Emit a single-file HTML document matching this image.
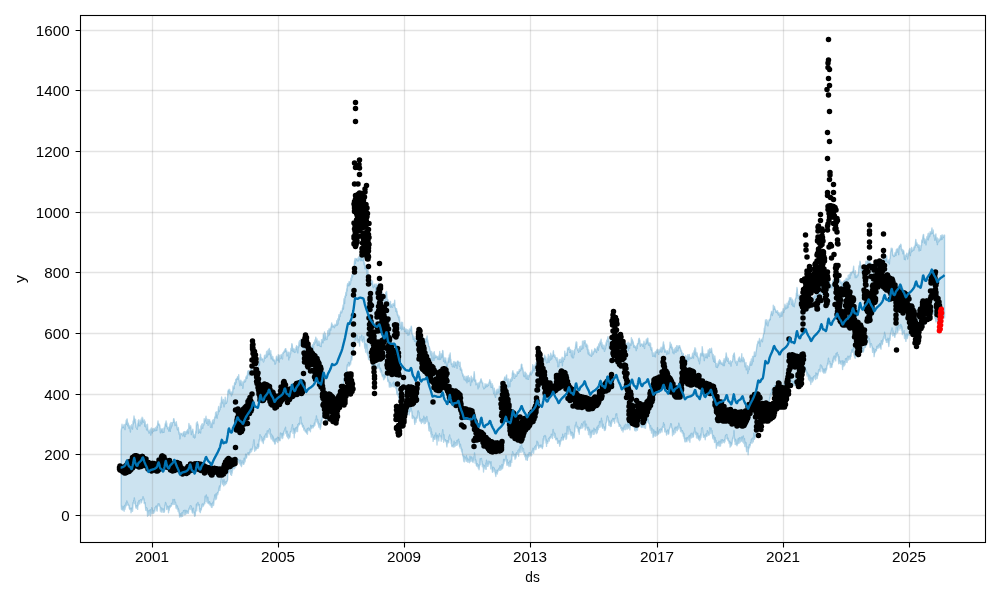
<!DOCTYPE html>
<html><head><meta charset="utf-8"><title>forecast</title><style>html,body{margin:0;padding:0;background:#fff}body{width:1000px;height:600px;overflow:hidden}</style></head><body><svg width="1000" height="600" viewBox="0 0 1000 600" style="display:block;will-change:transform">
<rect width="1000" height="600" fill="#fff"/>
<clipPath id="c"><rect x="80.5" y="15.5" width="905.0" height="527.0"/></clipPath>
<g clip-path="url(#c)">
<path d="M121.1 431.8l.3 -2.7l.3 -.8l.3 -4l.3 3.1l.3 -.3l.3 .4l.3 -1.2l.3 1l.3 -1.1l.3 -1.8l.3 4.1l.3 -.2l.3 1.3l.3 -3.7l.3 -1.6l.3 -1.2l.3 -2.9l.3 4.1l.3 -4.9l.3 -.5l.3 2.5l.3 4.5l.3 -1.3l.3 -1.4l.3 1.7l.3 3.2l.3 -1.3l.3 -1l.3 1.3l.3 2.1l.3 2.8l.3 -6l.3 1.8l.3 .1l.3 -3.1l.3 2.6l.3 -1.3l.3 3l.3 -3.8l.3 -4.4l.3 3l.3 -3.8l.3 -4.1l.3 1.9l.3 1.1l.3 .9l.3 3l.3 -3.5l.3 4.7l.3 3.3l.3 .2l.3 .9l.3 .2l.3 .7l.3 -5.8l.3 3.2l.3 -6.3l.3 2.1l.3 -3l.3 5.6l.3 .3l.3 -3.3l.3 3.7l.3 -5.2l.3 1.4l.3 -.3l.3 -2.8l.3 2.6l.3 2.4l.3 -6.7l.3 3.2l.3 -2.6l.3 3.8l.3 -1.7l.3 1.4l.3 .9l.3 .2l.3 -2.5l.3 6.3l.3 -4.8l.3 4l.3 1.4l.3 -2.3l.3 2.6l.3 2.7l.3 -1.6l.3 -.9l.3 -3.1l.3 4.9l.3 1.6l.3 .6l.3 -.7l.3 2.4l.3 -2.3l.3 .6l.3 1.2l.3 -3.3l.3 1l.3 4.8l.3 -2.7l.3 -4.5l.3 2.3l.3 1.3l.3 1.3l.3 -2.3l.3 -1.4l.3 -.5l.3 2.7l.3 -.8l.3 -1.7l.3 .5l.3 -.7l.3 2.2l.3 -3l.3 2.1l.3 .5l.3 -1l.3 -2.9l.3 4l.3 -4.7l.3 1.4l.3 -3.3l.3 -2.9l.3 3.2l.3 -.5l.3 -.1l.3 1.8l.3 -.7l.3 1.1l.3 2.2l.3 4.8l.3 -1.8l.3 -2.4l.3 2.4l.3 -1.9l.3 .4l.3 3.1l.3 -2.2l.3 -1.8l.3 1.8l.3 1.8l.3 -1l.3 1.1l.3 -5.2l.3 1.6l.3 -2.2l.3 -2.8l.3 .5l.3 -1.6l.3 -1.6l.3 5.3l.3 -3.3l.3 3.6l.3 .7l.3 1.5l.3 -1.7l.3 1.8l.3 0l.3 2.2l.3 -4l.3 1l.3 -1.6l.3 -2.6l.3 7.5l.3 -5.8l.3 -3.1l.3 5.5l.3 -5.2l.3 2.6l.3 .6l.3 -3.3l.3 .1l.3 -.6l.3 .2l.3 -3.7l.3 0l.3 1.6l.3 2.4l.3 -.2l.3 3.1l.3 -1l.3 -1.5l.3 1.6l.3 -3l.3 2.9l.3 .6l.3 3.2l.3 1.4l.3 -1.7l.3 .5l.3 -1.1l.3 3.7l.3 1.7l.3 1.4l.3 -1.6l.3 6.2l.3 -1.4l.3 -2.8l.3 -1.2l.3 0l.3 .6l.3 -.5l.3 .8l.3 .4l.3 1.1l.3 -.6l.3 -2.6l.3 1l.3 -1.7l.3 -.4l.3 4.9l.3 -4.8l.3 4.8l.3 -4.8l.3 1.1l.3 1.5l.3 -2.3l.3 .5l.3 -1.4l.3 -.7l.3 .4l.3 -1.3l.3 4.3l.3 -4l.3 3.2l.3 -9.6l.3 4.4l.3 .2l.3 -2.7l.3 2.2l.3 -.6l.3 -.9l.3 2.7l.3 5.9l.3 -4l.3 .9l.3 -1.1l.3 1.4l.3 -2.7l.3 2.4l.3 5.6l.3 -2.3l.3 -.3l.3 1.5l.3 2l.3 -3l.3 2.2l.3 -3.2l.3 -3.1l.3 1.8l.3 -9.7l.3 1.9l.3 0l.3 -3.1l.3 2.1l.3 .2l.3 1.4l.3 7.7l.3 -3.4l.3 -.7l.3 3.3l.3 -2.8l.3 2.4l.3 -1.2l.3 2.2l.3 -7l.3 3.4l.3 -2.2l.3 -3.1l.3 4l.3 -4.3l.3 4.5l.3 -2.7l.3 -.1l.3 -1.7l.3 1.1l.3 -6.1l.3 3.3l.3 -2.3l.3 .9l.3 -1.7l.3 .5l.3 -3.3l.3 5.5l.3 1.6l.3 -4.3l.3 1l.3 1.2l.3 2.4l.3 1.6l.3 -5.8l.3 1.5l.3 -.6l.3 .2l.3 -.8l.3 4.3l.3 -2.6l.3 5.9l.3 -.6l.3 -3.4l.3 .4l.3 .5l.3 3.4l.3 -5.2l.3 -2.1l.3 2.1l.3 .1l.3 -2.7l.3 3.9l.3 -3.4l.3 -.2l.3 -3.2l.3 1.1l.3 -.8l.3 -4.7l.3 4.5l.3 -4.7l.3 3l.3 -3.5l.3 6.4l.3 -3.9l.3 .4l.3 -.5l.3 -5.1l.3 -2.6l.3 3.3l.3 1.8l.3 -2.4l.3 .7l.3 -.7l.3 -6l.3 2.2l.3 2l.3 -6.4l.3 -4l.3 3.2l.3 0l.3 2.6l.3 -1.9l.3 2.7l.3 -4.1l.3 6.1l.3 1.3l.3 -.8l.3 -5.9l.3 3.5l.3 -6.6l.3 6.6l.3 -.5l.3 -1.9l.3 2.1l.3 -1.5l.3 .1l.3 -3.3l.3 -1.5l.3 -6.2l.3 -.5l.3 -.6l.3 .3l.3 -.9l.3 3.9l.3 -3.7l.3 2l.3 1.5l.3 -.6l.3 1.7l.3 -2l.3 3.8l.3 -3.7l.3 2.2l.3 -3.3l.3 1.9l.3 -7l.3 3.1l.3 -2.5l.3 .7l.3 1.3l.3 -5.2l.3 -1l.3 0l.3 1.9l.3 -4.9l.3 3.3l.3 -3.6l.3 -.7l.3 .5l.3 .6l.3 -2.7l.3 .3l.3 1.5l.3 .2l.3 -4.2l.3 5l.3 1.4l.3 2.4l.3 2.2l.3 -2.5l.3 -.9l.3 -2l.3 2.3l.3 1.6l.3 1.3l.3 -3.9l.3 2.7l.3 1.7l.3 2.4l.3 -3.5l.3 -2.2l.3 -1.1l.3 -.2l.3 -1.4l.3 2.1l.3 -.2l.3 -1.3l.3 .4l.3 -3.9l.3 1.1l.3 -2.1l.3 .4l.3 1.9l.3 -2.9l.3 -4.2l.3 2.8l.3 -1.3l.3 -2.1l.3 1l.3 3.1l.3 .9l.3 -4.8l.3 2.6l.3 -.2l.3 -5.1l.3 1.7l.3 -.5l.3 -.3l.3 -4.5l.3 1.4l.3 1.7l.3 -.7l.3 .2l.3 -4.9l.3 5.2l.3 -1.5l.3 -3.1l.3 5.3l.3 -1.6l.3 2.1l.3 -1.2l.3 2.6l.3 -1.9l.3 -1.1l.3 2.6l.3 -1.1l.3 -1l.3 3.6l.3 -3.6l.3 -1.3l.3 -1.2l.3 -3.3l.3 .3l.3 3.2l.3 -7.5l.3 0l.3 -3.6l.3 .5l.3 5.3l.3 -.1l.3 -2l.3 1.9l.3 -1.1l.3 .5l.3 .1l.3 .2l.3 2.3l.3 .2l.3 -1l.3 -2.3l.3 -3.2l.3 1.9l.3 -2.2l.3 3.3l.3 -1.1l.3 0l.3 -2.6l.3 -3.3l.3 5.2l.3 .2l.3 -5.9l.3 2.7l.3 1.3l.3 -5.3l.3 4.9l.3 -4.8l.3 -1.2l.3 5.6l.3 -1.3l.3 -.9l.3 3.8l.3 -5l.3 8.2l.3 -4.6l.3 2.7l.3 -.8l.3 2.1l.3 1.4l.3 -2.9l.3 3.9l.3 -1.4l.3 0l.3 1.7l.3 -.9l.3 .8l.3 3.3l.3 -2.8l.3 2.1l.3 -1.9l.3 -3.5l.3 -2l.3 2.1l.3 1.6l.3 -.8l.3 -2l.3 3.5l.3 -5.7l.3 .8l.3 2.5l.3 4l.3 -3.8l.3 -3l.3 3l.3 -.1l.3 .3l.3 -3l.3 -1.1l.3 1.6l.3 .3l.3 2.1l.3 .6l.3 -6l.3 -.1l.3 .2l.3 -1.3l.3 .5l.3 -1l.3 -1.3l.3 1.9l.3 -2.5l.3 -.8l.3 .1l.3 2.2l.3 .8l.3 -1l.3 5.3l.3 -.8l.3 -1.1l.3 -.8l.3 -1.2l.3 1.7l.3 6.1l.3 -7.7l.3 4.9l.3 .4l.3 -2.3l.3 -2.2l.3 .8l.3 -5.3l.3 1.6l.3 .1l.3 -6.5l.3 .3l.3 2.6l.3 3l.3 1.9l.3 -.5l.3 -2l.3 -.3l.3 3.2l.3 .5l.3 -2.9l.3 2.1l.3 -.1l.3 .5l.3 -4.9l.3 2.4l.3 -3.9l.3 1l.3 .3l.3 2.8l.3 3.2l.3 -6.5l.3 .1l.3 .6l.3 -5.2l.3 3.6l.3 -4.8l.3 4.9l.3 -1.3l.3 -2.5l.3 -2.6l.3 5.5l.3 -2l.3 .6l.3 1.7l.3 -3.9l.3 4.9l.3 1.7l.3 -.8l.3 .2l.3 -1.8l.3 3.7l.3 -.4l.3 .2l.3 -.4l.3 3.7l.3 1.6l.3 -.9l.3 1.6l.3 .6l.3 .1l.3 -3.3l.3 -1.4l.3 -.8l.3 .5l.3 .8l.3 .5l.3 -3l.3 .9l.3 -2.5l.3 4.4l.3 -3.5l.3 1.3l.3 -2.3l.3 .6l.3 -1l.3 4.6l.3 -2.9l.3 -1.4l.3 -1.8l.3 .4l.3 2l.3 1.9l.3 -6.6l.3 .7l.3 1.1l.3 -1.4l.3 -2.9l.3 2.4l.3 .4l.3 -5.7l.3 2.6l.3 1l.3 .2l.3 -1.9l.3 6.5l.3 -2.5l.3 -1.9l.3 4.2l.3 -4l.3 4.1l.3 -4.3l.3 4.1l.3 -2.6l.3 3.7l.3 -.4l.3 -.1l.3 -.6l.3 1.4l.3 -6.9l.3 3.1l.3 -1.5l.3 -1.3l.3 -1.1l.3 3.9l.3 -8.8l.3 .9l.3 -.9l.3 4.1l.3 -6.1l.3 8.3l.3 -4.1l.3 -2.6l.3 2.8l.3 2l.3 .7l.3 -.6l.3 1l.3 -2.7l.3 -1.1l.3 -5l.3 4.6l.3 .5l.3 -3.4l.3 -3.5l.3 .4l.3 5.4l.3 -5.2l.3 -.7l.3 -1l.3 2.3l.3 -3.4l.3 -1.5l.3 -2.3l.3 2.1l.3 1.8l.3 -2.2l.3 2.4l.3 -1.1l.3 .1l.3 .2l.3 -.4l.3 1.9l.3 -1.2l.3 -2.2l.3 1.2l.3 -.7l.3 .9l.3 -.8l.3 .2l.3 -4.3l.3 3.1l.3 1.1l.3 -6.1l.3 5.1l.3 -3.4l.3 -1.8l.3 -4l.3 5.1l.3 -4.9l.3 .2l.3 1.3l.3 -3.9l.3 -.6l.3 -1.1l.3 1.3l.3 .7l.3 -1.3l.3 -.9l.3 -2.7l.3 -.2l.3 -2.9l.3 4.2l.3 -4.8l.3 -5.5l.3 .6l.3 4.1l.3 -7.2l.3 .5l.3 .2l.3 -4.5l.3 2.8l.3 -.2l.3 -6.5l.3 2.4l.3 -5.6l.3 -1.6l.3 1.4l.3 -.7l.3 -1.6l.3 3l.3 -4.4l.3 1.2l.3 -.9l.3 3l.3 -.7l.3 -1.1l.3 -4.8l.3 2l.3 -.2l.3 -5l.3 .4l.3 1.7l.3 -1.3l.3 -2.3l.3 -.9l.3 -2.3l.3 -2.5l.3 -2.9l.3 -3.9l.3 -.9l.3 -1.7l.3 5.1l.3 -4l.3 -.4l.3 -.3l.3 .3l.3 -.2l.3 1.7l.3 -1.1l.3 1.6l.3 -3.2l.3 2l.3 .8l.3 -4.2l.3 2.5l.3 -.1l.3 -1.2l.3 -.4l.3 -2.7l.3 6.1l.3 -4.1l.3 -.5l.3 3.9l.3 -4.9l.3 5.7l.3 -1l.3 .4l.3 -1.3l.3 -1.7l.3 -.4l.3 7.9l.3 -2.5l.3 1.1l.3 5.5l.3 -3.5l.3 1.7l.3 .9l.3 1.1l.3 -.9l.3 1.9l.3 4.6l.3 -.2l.3 -6.6l.3 2.9l.3 5.4l.3 -.1l.3 .2l.3 3.6l.3 -4.9l.3 6.7l.3 -1.6l.3 1.4l.3 -.1l.3 1.6l.3 -1.8l.3 -.1l.3 3.1l.3 -.7l.3 -2.5l.3 5.7l.3 .2l.3 .9l.3 -2.3l.3 .9l.3 -1.2l.3 -.9l.3 2.2l.3 .5l.3 -1.5l.3 5.2l.3 -6.7l.3 1.8l.3 .4l.3 4.1l.3 -3.4l.3 -.5l.3 -1.5l.3 -.1l.3 -1.4l.3 4.3l.3 -1.1l.3 .6l.3 -2.7l.3 7.4l.3 -5.9l.3 -.9l.3 4.7l.3 2.1l.3 2.4l.3 -2.4l.3 4.1l.3 3l.3 -4.5l.3 .8l.3 -1.3l.3 4.5l.3 1.8l.3 .3l.3 .2l.3 .5l.3 -3.6l.3 .4l.3 -5l.3 -.8l.3 1.3l.3 -2.1l.3 4.5l.3 3.7l.3 .2l.3 -.3l.3 1.2l.3 4.9l.3 -4l.3 1.9l.3 -.5l.3 .9l.3 2.3l.3 -3.1l.3 -1.6l.3 5.9l.3 -2.3l.3 1l.3 -1.5l.3 1.5l.3 .9l.3 .2l.3 -3.3l.3 -.2l.3 1.4l.3 -.4l.3 .7l.3 -2.4l.3 -2.8l.3 6.2l.3 1.4l.3 .5l.3 2.9l.3 -.9l.3 -1.7l.3 3.6l.3 -1.1l.3 3.8l.3 -.7l.3 1.7l.3 .9l.3 .9l.3 -1.8l.3 4.4l.3 -3.3l.3 6.7l.3 1.9l.3 2.7l.3 -2.9l.3 -1.8l.3 -1.3l.3 7.4l.3 -6.3l.3 5l.3 -6l.3 4.9l.3 1.9l.3 -.4l.3 -.4l.3 -1.2l.3 .2l.3 4.1l.3 -.8l.3 -.9l.3 1.1l.3 -2l.3 4l.3 .6l.3 -4l.3 1.8l.3 1.9l.3 -3.3l.3 5.4l.3 -.9l.3 -3.6l.3 2.6l.3 1.4l.3 -5.8l.3 3.2l.3 -2.1l.3 -.8l.3 1.3l.3 -2.8l.3 -1.5l.3 .8l.3 4.2l.3 2.8l.3 .1l.3 1l.3 1l.3 3.2l.3 -1.1l.3 -2l.3 1.3l.3 3.6l.3 -2.8l.3 1.2l.3 1.5l.3 -1.9l.3 3.5l.3 -7l.3 6.2l.3 -4.9l.3 -2.9l.3 1.7l.3 -5.5l.3 3.5l.3 .8l.3 -1.4l.3 2.1l.3 4l.3 -2.1l.3 2.4l.3 1.5l.3 3.2l.3 -3.6l.3 1.4l.3 2.4l.3 -7.9l.3 4l.3 -3.8l.3 -.2l.3 7.5l.3 -3.5l.3 2.5l.3 -3.5l.3 1.5l.3 -1.9l.3 -.3l.3 .9l.3 .3l.3 2.6l.3 -3.9l.3 .7l.3 -1.7l.3 .7l.3 -2.5l.3 5.9l.3 -2l.3 2.4l.3 .7l.3 3.4l.3 .1l.3 -.1l.3 1.3l.3 1.3l.3 1.6l.3 .4l.3 2.4l.3 1.7l.3 -.9l.3 -2.7l.3 7.4l.3 1.9l.3 -4.5l.3 .1l.3 -3.4l.3 5.5l.3 -3.7l.3 5.6l.3 -8.7l.3 5.1l.3 1.3l.3 -2.1l.3 -.7l.3 2.1l.3 -1.4l.3 .5l.3 .7l.3 -.9l.3 .7l.3 2.1l.3 -2.3l.3 1.2l.3 -1.9l.3 3.4l.3 -4.5l.3 4.5l.3 -8l.3 4.1l.3 -1.4l.3 5.1l.3 -1.8l.3 -3.7l.3 .8l.3 3l.3 -3.6l.3 .7l.3 -4.3l.3 .7l.3 5.5l.3 4.8l.3 -4.3l.3 3.5l.3 -2.4l.3 4.8l.3 -3l.3 .4l.3 -2.5l.3 3.5l.3 1.9l.3 3.1l.3 -4.4l.3 4.6l.3 -2.9l.3 -.7l.3 -2.4l.3 -2.6l.3 -.2l.3 4.3l.3 -7.2l.3 .4l.3 2.9l.3 -5.2l.3 6.8l.3 -.4l.3 2.6l.3 2.4l.3 -1.1l.3 .6l.3 2.5l.3 .3l.3 -2.6l.3 .8l.3 -2.9l.3 4.7l.3 -5.2l.3 2.6l.3 3.1l.3 -1.9l.3 -2.2l.3 -.9l.3 .1l.3 3.1l.3 -1.2l.3 -.8l.3 5l.3 -7.3l.3 .2l.3 -.2l.3 .9l.3 .3l.3 -.1l.3 3.2l.3 .8l.3 -.5l.3 -3.4l.3 7.5l.3 -2.6l.3 1.5l.3 1.8l.3 -1.4l.3 1.6l.3 2.6l.3 .1l.3 2.4l.3 -1.3l.3 2.4l.3 -.6l.3 2.2l.3 1.4l.3 -1.2l.3 -2.5l.3 2.3l.3 .5l.3 1.9l.3 -2.3l.3 -.8l.3 -1.4l.3 6.3l.3 -5.8l.3 -.2l.3 2.1l.3 -3.2l.3 5.9l.3 -1.7l.3 .7l.3 -2.8l.3 1l.3 2.8l.3 .1l.3 3.9l.3 -3.5l.3 -5.9l.3 3.9l.3 -.9l.3 2.8l.3 -2.6l.3 .8l.3 -2.3l.3 1.1l.3 1l.3 -4.8l.3 -3.3l.3 2.9l.3 6.4l.3 -1.3l.3 .3l.3 -.1l.3 4.9l.3 -1l.3 -.4l.3 -.5l.3 1.1l.3 .2l.3 2.3l.3 2.2l.3 -5.8l.3 1.4l.3 2.7l.3 -.6l.3 -4.2l.3 .7l.3 -.7l.3 -1.5l.3 -1.5l.3 -.5l.3 1.2l.3 1l.3 1.3l.3 .9l.3 -.7l.3 1.4l.3 3.3l.3 -.4l.3 2l.3 -.7l.3 -.3l.3 .6l.3 -4.6l.3 2.2l.3 -1.3l.3 2.6l.3 -3.1l.3 1.6l.3 -1.4l.3 1.6l.3 .4l.3 -2.1l.3 .5l.3 -.1l.3 .9l.3 -2.8l.3 .1l.3 -1.6l.3 -1.7l.3 2.4l.3 1.1l.3 -1.6l.3 5.8l.3 -3.7l.3 3.7l.3 0l.3 -3.5l.3 4l.3 -2.6l.3 3.5l.3 2l.3 2.9l.3 -1.6l.3 -3.9l.3 3.1l.3 4.5l.3 -1.9l.3 3.6l.3 -5l.3 -.2l.3 -2.1l.3 1.3l.3 2.8l.3 -4.9l.3 3.2l.3 -1.2l.3 .3l.3 -2.4l.3 .2l.3 4l.3 -7.1l.3 3.7l.3 1.3l.3 -2.4l.3 2.1l.3 -9.6l.3 5l.3 -2.1l.3 1.2l.3 .2l.3 .9l.3 -3.1l.3 3.1l.3 -5.4l.3 4.6l.3 -2.9l.3 -3.8l.3 -1l.3 -1.1l.3 .5l.3 1.1l.3 1.6l.3 -.9l.3 -3.5l.3 -.9l.3 5.1l.3 -1.4l.3 3.2l.3 -.9l.3 6.6l.3 -8.6l.3 4.1l.3 3.1l.3 -4.3l.3 -.4l.3 5.3l.3 -7.4l.3 .3l.3 -.1l.3 1.9l.3 -.7l.3 -3.3l.3 2.9l.3 -6.7l.3 -1.4l.3 -1.5l.3 3.5l.3 -1.4l.3 .5l.3 5l.3 -.1l.3 0l.3 -4l.3 .6l.3 1.8l.3 -.2l.3 -.7l.3 -.5l.3 .8l.3 -4.1l.3 2l.3 -1.7l.3 -.5l.3 0l.3 1.7l.3 -1.3l.3 -2.5l.3 1.9l.3 -.8l.3 .1l.3 -2l.3 1.7l.3 -2.1l.3 -3.7l.3 -.5l.3 .1l.3 4.4l.3 -1.3l.3 1.6l.3 1.3l.3 3.2l.3 2.5l.3 -4l.3 4.7l.3 -2.4l.3 1.8l.3 -2.6l.3 -1.4l.3 4.1l.3 2.4l.3 -5l.3 3.7l.3 1.2l.3 .6l.3 -3.8l.3 .5l.3 2.4l.3 1.2l.3 -3.9l.3 1.3l.3 -2l.3 .2l.3 -2l.3 0l.3 -1l.3 1l.3 1.8l.3 -2.2l.3 .7l.3 -2.9l.3 2.4l.3 -8.1l.3 3.1l.3 1.8l.3 -3.3l.3 4.4l.3 -1.1l.3 -2.7l.3 1.6l.3 -3.7l.3 .7l.3 .3l.3 -3.4l.3 4.3l.3 -4.6l.3 2.3l.3 -3.2l.3 .7l.3 -1.7l.3 2.2l.3 .8l.3 2.3l.3 3l.3 -3.7l.3 .9l.3 1l.3 1.1l.3 -1.9l.3 -.3l.3 -.1l.3 1.6l.3 .7l.3 -2.2l.3 0l.3 .8l.3 -3l.3 -2.5l.3 1l.3 -1.8l.3 -1.9l.3 -.8l.3 -2.2l.3 2.4l.3 1.6l.3 .6l.3 -2.9l.3 4.1l.3 1.4l.3 .6l.3 -1.3l.3 .7l.3 -4.1l.3 0l.3 -3.9l.3 4.7l.3 3.3l.3 -.1l.3 -6.1l.3 3.2l.3 .9l.3 -3.5l.3 -3.7l.3 6.4l.3 -3.9l.3 -.5l.3 3.6l.3 -3.2l.3 -.1l.3 .8l.3 -3.9l.3 -1.5l.3 4.4l.3 -.7l.3 2.4l.3 0l.3 -1.7l.3 2.2l.3 -.1l.3 .7l.3 .9l.3 1.2l.3 .1l.3 -2.5l.3 4.5l.3 -3.4l.3 8l.3 -5.2l.3 2l.3 2.9l.3 -3.5l.3 -2.7l.3 -.9l.3 2.8l.3 -.2l.3 .4l.3 -1.5l.3 -1.9l.3 1.5l.3 1.6l.3 -4.8l.3 8.5l.3 -8.2l.3 3l.3 1l.3 -2.2l.3 -1.5l.3 .5l.3 1l.3 -8.3l.3 5.8l.3 -2l.3 -.9l.3 1.2l.3 -.2l.3 .2l.3 -2.6l.3 2.8l.3 -7.3l.3 1.3l.3 -1.6l.3 1.7l.3 -2l.3 1.6l.3 -1.8l.3 5.1l.3 0l.3 -1.4l.3 -1.6l.3 1.5l.3 -.6l.3 5.7l.3 -.9l.3 -3.9l.3 6.6l.3 -4l.3 -3.4l.3 7l.3 .4l.3 -3.3l.3 -3.1l.3 2.9l.3 -4.8l.3 -.5l.3 -.8l.3 -2l.3 -2.7l.3 -1.5l.3 4.8l.3 -4.6l.3 6.3l.3 .7l.3 1.2l.3 -1.1l.3 1.7l.3 1.4l.3 -3.6l.3 2l.3 .1l.3 -4.2l.3 -.1l.3 4.6l.3 -1.5l.3 -3.8l.3 2.7l.3 -1l.3 1.7l.3 -.8l.3 -7.4l.3 3.9l.3 3l.3 .1l.3 -5.3l.3 -2l.3 2.3l.3 -2.4l.3 1.7l.3 -1.6l.3 4.8l.3 .6l.3 .6l.3 -2.3l.3 -.5l.3 1.5l.3 4.2l.3 -4.1l.3 5.5l.3 2.8l.3 -4.3l.3 1.6l.3 3.2l.3 .7l.3 -2.1l.3 1.6l.3 1l.3 -1l.3 1.3l.3 -1l.3 1.5l.3 -6.5l.3 5.5l.3 -1l.3 -2.2l.3 .9l.3 .9l.3 -1.6l.3 -1.3l.3 .9l.3 -2.1l.3 -1.5l.3 .7l.3 0l.3 1.7l.3 .9l.3 -1.4l.3 2.2l.3 -3.4l.3 -1.4l.3 -.5l.3 -.8l.3 .8l.3 3l.3 -6.3l.3 3.3l.3 -2.2l.3 .7l.3 -3.7l.3 1.5l.3 -2.8l.3 2.7l.3 -4.2l.3 6l.3 1.5l.3 -3.9l.3 5.5l.3 -3.8l.3 4.3l.3 -1.9l.3 1.5l.3 -.5l.3 -2.7l.3 6l.3 -.3l.3 -4.2l.3 2.3l.3 -1.3l.3 -3.6l.3 -2.1l.3 3.1l.3 -5l.3 .9l.3 .4l.3 -2.9l.3 -1.9l.3 5l.3 -3.4l.3 1.7l.3 8.4l.3 -6.8l.3 3l.3 -2.6l.3 2l.3 .5l.3 -6.2l.3 3.2l.3 1.9l.3 -.2l.3 -1.4l.3 -2.9l.3 2.5l.3 -2.1l.3 -.8l.3 1.3l.3 4.3l.3 -6.7l.3 3.6l.3 -2l.3 -4.1l.3 .5l.3 .7l.3 -1.1l.3 1.7l.3 -1.8l.3 .9l.3 5.1l.3 -1.2l.3 -.8l.3 2.4l.3 4.4l.3 -4.1l.3 -1.2l.3 5.5l.3 2.6l.3 -.8l.3 -4.4l.3 -.7l.3 7.6l.3 -1.9l.3 2.2l.3 -.7l.3 3.6l.3 -3.6l.3 -1.2l.3 .6l.3 -3.1l.3 2.5l.3 -.7l.3 -4.2l.3 1.7l.3 -.3l.3 -.8l.3 3.8l.3 1.5l.3 -1.7l.3 -3.7l.3 -.7l.3 5l.3 -2.3l.3 .3l.3 -2.5l.3 -1.7l.3 8.4l.3 -5.9l.3 .7l.3 -2.1l.3 5.1l.3 -4.1l.3 .1l.3 -.3l.3 -.9l.3 2l.3 -7.4l.3 4.1l.3 -2.8l.3 .8l.3 .6l.3 3.3l.3 -2.2l.3 2.5l.3 3l.3 -2l.3 .5l.3 1.9l.3 -.4l.3 -.5l.3 1.2l.3 -1.3l.3 4.1l.3 -3.6l.3 -1.5l.3 3.1l.3 -4.7l.3 -.5l.3 .1l.3 .3l.3 -4l.3 -1.3l.3 -.3l.3 2.2l.3 -.4l.3 2.9l.3 3.3l.3 -2.3l.3 .5l.3 -.4l.3 .8l.3 -.7l.3 .4l.3 .6l.3 1.2l.3 -.4l.3 -2.4l.3 1.2l.3 -3.4l.3 6.6l.3 .6l.3 -5.4l.3 1.1l.3 -1l.3 1.2l.3 -3.1l.3 -2.1l.3 4.2l.3 -4.4l.3 2.2l.3 -3l.3 .2l.3 4.3l.3 2.3l.3 -2.4l.3 .5l.3 2.3l.3 -.9l.3 -1.5l.3 4.1l.3 -3.6l.3 5.9l.3 -1.2l.3 2.1l.3 -2.7l.3 2.4l.3 3.6l.3 2.6l.3 -.1l.3 -.3l.3 -2.9l.3 3.2l.3 -1.3l.3 -1.3l.3 2.9l.3 -4.4l.3 4.9l.3 -5l.3 -.2l.3 1l.3 -2.6l.3 1.6l.3 1.1l.3 -3.7l.3 1.7l.3 -1.2l.3 1.8l.3 3l.3 -3.3l.3 .4l.3 .6l.3 -2.8l.3 2.5l.3 -1.7l.3 -.5l.3 -2.4l.3 1.9l.3 3l.3 -.3l.3 -3.8l.3 -.2l.3 -1.9l.3 -2.2l.3 -1.8l.3 7.1l.3 -4.4l.3 3.6l.3 3.9l.3 -2.8l.3 1.2l.3 1.3l.3 -1l.3 1.4l.3 -1l.3 3.3l.3 -.9l.3 -2.8l.3 .3l.3 1.8l.3 -.1l.3 -1.2l.3 2.1l.3 -4.5l.3 -.8l.3 -.2l.3 -6l.3 3.5l.3 -.5l.3 2.2l.3 -3.3l.3 2.4l.3 2.5l.3 -.2l.3 -1.4l.3 5.4l.3 -1.8l.3 1.6l.3 -2.7l.3 3.8l.3 -3.2l.3 -1.5l.3 2.5l.3 .3l.3 -4.3l.3 3.7l.3 1l.3 -2.9l.3 -3.5l.3 3.7l.3 .8l.3 -4.4l.3 5.1l.3 -4.2l.3 -.6l.3 1.8l.3 -2.4l.3 1.7l.3 -1.7l.3 1.8l.3 .3l.3 1.5l.3 1.6l.3 .5l.3 -.8l.3 3.3l.3 -1.4l.3 3.2l.3 -.5l.3 -.8l.3 -.6l.3 2.5l.3 3.6l.3 -1.4l.3 2.5l.3 -1.4l.3 -.2l.3 -.9l.3 -2.9l.3 4.1l.3 -.9l.3 -.4l.3 1.4l.3 -3.6l.3 5.2l.3 -6.5l.3 3.3l.3 -2.9l.3 1.8l.3 2.8l.3 -5.4l.3 3.2l.3 -.2l.3 .1l.3 0l.3 1l.3 -.8l.3 -.4l.3 .9l.3 -.7l.3 -1.7l.3 -2.5l.3 3.8l.3 -2.5l.3 3.5l.3 -5.2l.3 -2.2l.3 3.8l.3 -4.6l.3 -2.2l.3 5.6l.3 -4.5l.3 6.7l.3 -3.3l.3 3.8l.3 .5l.3 -3.6l.3 3.9l.3 -.6l.3 1.3l.3 1.1l.3 2.4l.3 -3l.3 .8l.3 5l.3 -2.7l.3 -.9l.3 -5.7l.3 -1l.3 .5l.3 -.8l.3 -.2l.3 2.9l.3 -9.2l.3 2.4l.3 3.3l.3 .8l.3 2.9l.3 -1.9l.3 -.4l.3 6.8l.3 -2.7l.3 -2.9l.3 1.9l.3 .4l.3 -3.4l.3 3.7l.3 -1.8l.3 -1.4l.3 -.8l.3 4.4l.3 -3.7l.3 -1.5l.3 -2.8l.3 1.8l.3 3.3l.3 1.3l.3 -5.5l.3 -2.3l.3 3.6l.3 -.9l.3 1.2l.3 -3.4l.3 2.1l.3 -3l.3 2.3l.3 2.5l.3 1.1l.3 2.8l.3 2.1l.3 -4.5l.3 6.9l.3 -4.2l.3 1.3l.3 3.7l.3 -6.3l.3 2.7l.3 2.1l.3 2.8l.3 3l.3 .8l.3 -3.6l.3 3.1l.3 -2.7l.3 3.4l.3 -3.9l.3 2.4l.3 -4.4l.3 3.4l.3 -4.4l.3 2.8l.3 -3.6l.3 2.8l.3 -1.3l.3 -.5l.3 2.4l.3 .9l.3 -1.4l.3 .3l.3 .7l.3 .9l.3 -.6l.3 -1.4l.3 3l.3 -5.2l.3 2.5l.3 -4.2l.3 6.9l.3 -5.6l.3 .5l.3 1.6l.3 -4l.3 -2.2l.3 -3l.3 2.5l.3 4.7l.3 -3.1l.3 4.3l.3 -.6l.3 -1.4l.3 -1l.3 3.1l.3 1.9l.3 -1.5l.3 1.1l.3 1l.3 -1.4l.3 -1.7l.3 2.9l.3 2.4l.3 -2.8l.3 -1l.3 -.9l.3 .3l.3 -1l.3 -1.2l.3 -4l.3 1l.3 -2.5l.3 -.3l.3 -.7l.3 3.1l.3 2.2l.3 2.6l.3 1.4l.3 .1l.3 1l.3 -2.3l.3 4.1l.3 .1l.3 -.9l.3 -3l.3 .2l.3 -1.2l.3 -1.9l.3 1.7l.3 -2.6l.3 -.6l.3 4.5l.3 -.2l.3 .4l.3 -2.8l.3 .7l.3 .6l.3 -2.4l.3 -4l.3 7.9l.3 -2.3l.3 .3l.3 -1.5l.3 -.7l.3 2.8l.3 1.3l.3 -2.5l.3 2.4l.3 2.8l.3 2.5l.3 -1.2l.3 -1.6l.3 -1.3l.3 7.2l.3 -3.3l.3 2l.3 -.7l.3 -2.1l.3 7.7l.3 -2.9l.3 .7l.3 -4.6l.3 .7l.3 2.1l.3 -4.2l.3 -1.3l.3 -1.4l.3 -1.1l.3 3.8l.3 -2.4l.3 -4l.3 6.1l.3 -1.1l.3 -.8l.3 -6.7l.3 3.3l.3 1.8l.3 -5.3l.3 -.2l.3 .3l.3 -4.3l.3 3.7l.3 .8l.3 -1.5l.3 .8l.3 -3.7l.3 -1.1l.3 -1.4l.3 -2.4l.3 -2.3l.3 -.9l.3 -.3l.3 -2.4l.3 .3l.3 -.2l.3 1.5l.3 -1.9l.3 -2.6l.3 2.5l.3 5.5l.3 -2.8l.3 -2.8l.3 -.2l.3 -.3l.3 -1.2l.3 1.1l.3 .8l.3 .8l.3 -3.8l.3 -1.1l.3 -1.8l.3 -1.3l.3 .1l.3 -5.8l.3 3.6l.3 -5.7l.3 -.9l.3 -5.2l.3 1.5l.3 .5l.3 1.7l.3 -3.8l.3 5.2l.3 -4.2l.3 4l.3 1.1l.3 -2.5l.3 -.9l.3 -1.1l.3 -1.4l.3 -.4l.3 .4l.3 -1.4l.3 1l.3 -3.5l.3 -1.9l.3 -.6l.3 -2.2l.3 1l.3 -1l.3 4.1l.3 -3.4l.3 1.6l.3 -8.5l.3 3.4l.3 .7l.3 -1.8l.3 -1l.3 1.9l.3 .6l.3 .7l.3 .7l.3 1.8l.3 -1.1l.3 .5l.3 -.2l.3 1.2l.3 -2l.3 2.8l.3 -1.3l.3 2.9l.3 -2.3l.3 1.8l.3 .3l.3 -1.5l.3 3.9l.3 -1.9l.3 -1.3l.3 1.7l.3 -3.6l.3 .1l.3 1.8l.3 2.3l.3 -5l.3 2.7l.3 -3.1l.3 -2.2l.3 2.4l.3 1.2l.3 -2.3l.3 .3l.3 -3.3l.3 -2.7l.3 4.8l.3 -3.7l.3 2.4l.3 -1.5l.3 1.2l.3 1l.3 -5.4l.3 2.5l.3 -.4l.3 2.3l.3 -3.3l.3 -2.8l.3 -.7l.3 3.5l.3 -6.4l.3 1l.3 .8l.3 -2l.3 1.5l.3 -1.3l.3 2.9l.3 3.5l.3 -.8l.3 -4.3l.3 6.6l.3 -5.5l.3 .8l.3 5.3l.3 -2l.3 -.7l.3 3.1l.3 -3.5l.3 -.4l.3 -3.2l.3 -.5l.3 -1.4l.3 .6l.3 -5.2l.3 -.7l.3 -4.9l.3 1.9l.3 6.1l.3 -.8l.3 1l.3 2.6l.3 -1.2l.3 1.5l.3 -.4l.3 -3.3l.3 5.1l.3 1.4l.3 -1.4l.3 -3.1l.3 -.2l.3 -.2l.3 1.9l.3 -.9l.3 -3.3l.3 .1l.3 -.5l.3 -1l.3 -.4l.3 .6l.3 -4.9l.3 4.8l.3 -2.4l.3 -2.2l.3 1.3l.3 -1.1l.3 4.5l.3 -3.8l.3 3.3l.3 1.4l.3 -1.6l.3 -.1l.3 3.8l.3 -.9l.3 -.6l.3 -.5l.3 4.5l.3 2.2l.3 -3.4l.3 2.7l.3 1.9l.3 .6l.3 -2.5l.3 2.6l.3 .3l.3 3.1l.3 -5.2l.3 1.1l.3 -1.1l.3 -.8l.3 -3.7l.3 2.2l.3 2l.3 -4.1l.3 .9l.3 -2.3l.3 1.7l.3 -.1l.3 .4l.3 -2.5l.3 -.3l.3 -.6l.3 1.3l.3 -.5l.3 3.6l.3 -5.9l.3 2.2l.3 -2.8l.3 -.2l.3 2.6l.3 -1.8l.3 -.3l.3 -4.3l.3 6.7l.3 -2.1l.3 -6.5l.3 -2.3l.3 .5l.3 2.1l.3 -1.5l.3 3.4l.3 -.7l.3 7.6l.3 -5.1l.3 -.3l.3 4.9l.3 -3.2l.3 -.6l.3 0l.3 1.5l.3 -1.6l.3 1.5l.3 -1l.3 -2.1l.3 1l.3 -.4l.3 1.3l.3 -4.2l.3 -2.8l.3 -.9l.3 -.9l.3 -6.4l.3 3.9l.3 -2.3l.3 2.2l.3 2.7l.3 1.8l.3 1l.3 .6l.3 2.6l.3 -1.6l.3 -.3l.3 -1.7l.3 3.4l.3 -2.2l.3 -4.4l.3 -.6l.3 2.3l.3 0l.3 -3l.3 2.4l.3 -4.8l.3 1.5l.3 1.9l.3 -3.5l.3 .9l.3 -1l.3 -1.3l.3 -4l.3 2.2l.3 .7l.3 .4l.3 1.8l.3 1.2l.3 -1.7l.3 1l.3 4.3l.3 -1l.3 -1.2l.3 .1l.3 2.9l.3 .4l.3 -1.8l.3 1.6l.3 -.2l.3 .6l.3 4.4l.3 -5.4l.3 4.6l.3 -3.7l.3 .3l.3 2.5l.3 -4.8l.3 .1l.3 -.8l.3 .6l.3 1.4l.3 1.3l.3 -3.9l.3 2.7l.3 -4.4l.3 6.2l.3 -5.3l.3 -.3l.3 1.1l.3 -.6l.3 -.8l.3 -3.3l.3 4.6l.3 -.6l.3 -2.5l.3 -1.9l.3 2.5l.3 1.2l.3 -5.9l.3 .7l.3 1.9l.3 -2.5l.3 0l.3 -.5l.3 .6l.3 -1.1l.3 -.4l.3 -.3l.3 -2.3l.3 -2.4l.3 6.4l.3 1.2l.3 .8l.3 -2l.3 5.2l.3 -7l.3 4.9l.3 -.3l.3 .8l.3 1.3l.3 -1.3l.3 0l.3 -1.6l.3 1.2l.3 -2l.3 -.6l.3 -5.2l.3 -2.4l.3 1.3l.3 -.7l.3 -5l.3 1l.3 2.4l.3 2.6l.3 1.1l.3 2.1l.3 -1.6l.3 1.7l.3 2.1l.3 -2.8l.3 5l.3 -5.6l.3 .3l.3 -4.8l.3 2.6l.3 -1.3l.3 -.6l.3 1.4l.3 -3l.3 2.2l.3 -4.7l.3 2.5l.3 3.3l.3 -2.8l.3 .4l.3 -3.5l.3 -1.6l.3 4.4l.3 -1.4l.3 -.7l.3 -1.5l.3 3.1l.3 -2.3l.3 3.1l.3 .7l.3 -2.4l.3 5.1l.3 -1.9l.3 1.9l.3 -4l.3 1l.3 2l.3 2.3l.3 2l.3 -.8l.3 -.2l.3 2.2l.3 -1l.3 .9l.3 .2l.3 -2.6l.3 1.5l.3 -4.1l.3 .7l.3 2.5l.3 -2.9l.3 1.9l.3 -.8l.3 -1.1l.3 3l.3 -2.2l.3 -2.4l.3 -.1l.3 1l.3 -3.4l.3 4.8l.3 -2.6l.3 -3.6l.3 1.1l.3 4.3l.3 -2.7l.3 3.4l.3 -4.6l.3 .5l.3 2.4l.3 -.1l.3 -6.7l.3 2.6l.3 -4.8l.3 0l.3 -3.6l.3 3.6l.3 -3.6l.3 1.2l.3 6.1l.3 -1l.3 -1l.3 -2.5l.3 4.4l.3 -5l.3 2.7l.3 3.1l.3 .3l.3 -1.2l.3 1.7l.3 -.9l.3 -1.6l.3 1.5l.3 2.5l.3 -4.8l.3 -.7l.3 -1l.3 -5.3l.3 -1.1l.3 -2.8l.3 2.5l.3 -1.8l.3 -.6l.3 1.2l.3 5l.3 1l.3 -.2l.3 -.2l.3 1.3l.3 -.8l.3 .7l.3 -1.9l.3 -1.8l.3 -.4l.3 1l.3 2.2l.3 -5.4l.3 -.9l.3 3.2l.3 -.4l.3 -3.2l.3 -.1l.3 -.4l.3 1.4l.3 4.9l.3 -7.9l.3 1.2l.3 -2.4l.3 .5l.3 -.1l.3 .1l.3 -1.8l.3 .9l.3 4.7l.3 -.5l.3 .6l.3 1.4l.3 -1.9l.3 4.4l.3 -3.4l.3 0l.3 .7l.3 2.2l.3 6.1l.3 -4.3l.3 1.3l.3 3.3l.3 -3l.3 -1.7l.3 1.3l.3 -.1l.3 -3l.3 2.2l.3 .2l.3 3.4l.3 -2.8l.3 -1.6l.3 -1.6l.3 -.7l.3 -2.4l.3 3l.3 -4.4l.3 3.8l.3 3.3l.3 -4.3l.3 1.3l.3 -2.8l.3 -2.3l.3 3.8l.3 -1.3l.3 1l.3 -1l.3 .5l.3 -2.5l.3 1.6l.3 .4l.3 -3.6l.3 -.4l.3 1.6l.3 -2.1l.3 -2.5l.3 -3.6l.3 2.1l.3 3.9l.3 -2.9l.3 1.6l.3 -.4l.3 2.3l.3 .7l.3 .7l.3 -1.8l.3 -.9l.3 6.3l.3 -3.7l.3 -1.6l.3 1.7l.3 1.6l.3 1.4l.3 -2.5l.3 -2.4l.3 .2l.3 -5.2l.3 -.7l.3 2.4l.3 -3.8l.3 -2.2l.3 -1.4l.3 -.3l.3 3.9l.3 .8l.3 3.9l.3 -4.4l.3 2.2l.3 -.3l.3 -.9l.3 5.2l.3 -1.2l.3 -3l.3 -4l.3 2.4l.3 -.4l.3 -2.6l.3 -2.4l.3 6.2l.3 -6.6l.3 4.4l.3 -3.9l.3 .2l.3 2.3l.3 -4.7l.3 1l.3 -.2l.3 1.6l.3 -1.2l.3 -2.3l.3 -2.6l.3 5.4l.3 -2.3l.3 2.3l.3 -3.4l.3 4l.3 2l.3 -1.1l.3 2.5l.3 1.9l.3 1.1l.3 -3.7l.3 -1.4l.3 -1.2l.3 4.9l.3 -1.7l.3 4.9l.3 -4.3l.3 6.8l.3 -2.3l.3 -3.7l.3 3.2l.3 0l.3 -.5l.3 -1.5l.3 .9l.3 -.5l.3 -2l.3 .6l.3 -3l.3 3.9l.3 -4.2l.3 1.9l.3 -2.1l.3 3.9l.3 -1.7l.3 -2.6l.3 2.4l.3 -1.2l.3 1.4l.3 -1.4l.3 -.5l.3 -.5L944.6 317.9l-.3 -2.4l-.3 1.7l-.3 -1.4l-.3 .8l-.3 .2l-.3 1l-.3 1.2l-.3 -.6l-.3 -3.6l-.3 3.8l-.3 3.2l-.3 -.6l-.3 -4.1l-.3 -1.7l-.3 5.5l-.3 -1.5l-.3 4.6l-.3 -3.4l-.3 1.6l-.3 -1.9l-.3 -1l-.3 5.3l-.3 -.6l-.3 -1.9l-.3 -.4l-.3 -3.1l-.3 -.9l-.3 1l-.3 3.1l-.3 -2.7l-.3 -.5l-.3 -2.1l-.3 1.4l-.3 -3.3l-.3 -.6l-.3 -.9l-.3 .9l-.3 -.3l-.3 -.8l-.3 -5.3l-.3 .9l-.3 3.3l-.3 -1.2l-.3 4.3l-.3 -.4l-.3 -1.8l-.3 .5l-.3 -1.2l-.3 1.1l-.3 .3l-.3 2.6l-.3 0l-.3 -3.3l-.3 2.9l-.3 .5l-.3 .3l-.3 2l-.3 -2.4l-.3 5.4l-.3 -.7l-.3 -2.2l-.3 5.2l-.3 -2.5l-.3 0l-.3 2.9l-.3 -6.6l-.3 2.6l-.3 .2l-.3 0l-.3 -1.5l-.3 1.7l-.3 .1l-.3 -1.8l-.3 5l-.3 -1.5l-.3 -.4l-.3 5l-.3 -4.1l-.3 3.2l-.3 2.3l-.3 1.9l-.3 -4.1l-.3 2.2l-.3 -1.9l-.3 4.4l-.3 .1l-.3 -5.8l-.3 -2.2l-.3 5.1l-.3 1.4l-.3 -1l-.3 -6.8l-.3 2.2l-.3 .5l-.3 -.8l-.3 .4l-.3 .5l-.3 1.7l-.3 -.8l-.3 -.8l-.3 1.9l-.3 1.8l-.3 2.3l-.3 -.7l-.3 -1.4l-.3 -.7l-.3 6.4l-.3 -4l-.3 -.3l-.3 -.2l-.3 1.8l-.3 .7l-.3 .5l-.3 .4l-.3 1.5l-.3 .7l-.3 -2.6l-.3 2l-.3 .3l-.3 -.7l-.3 .9l-.3 -.8l-.3 2.5l-.3 1.7l-.3 -1.7l-.3 -2.9l-.3 4l-.3 .6l-.3 2.9l-.3 -5.6l-.3 3.2l-.3 -4.7l-.3 1.3l-.3 2.7l-.3 -7.7l-.3 1.8l-.3 1l-.3 -.8l-.3 .1l-.3 1.3l-.3 .7l-.3 -6.1l-.3 -2.3l-.3 4.3l-.3 -2.8l-.3 -3.4l-.3 2.7l-.3 1.2l-.3 -2.7l-.3 .5l-.3 -.6l-.3 4.6l-.3 -4.7l-.3 2.5l-.3 -1.7l-.3 5.7l-.3 .9l-.3 -3l-.3 .9l-.3 -3.4l-.3 -.2l-.3 7l-.3 -2.9l-.3 2.1l-.3 2.3l-.3 1.7l-.3 -1.6l-.3 -2l-.3 1.5l-.3 -1.9l-.3 .4l-.3 -3l-.3 5.2l-.3 -7.3l-.3 -.7l-.3 4l-.3 -2l-.3 2l-.3 2.6l-.3 -1.3l-.3 2.2l-.3 4.9l-.3 -2l-.3 .2l-.3 5.6l-.3 2.4l-.3 -3.1l-.3 -2.3l-.3 -2.9l-.3 4l-.3 -2.1l-.3 .7l-.3 -1.2l-.3 2.8l-.3 -1.9l-.3 0l-.3 -1.7l-.3 -4.1l-.3 4l-.3 -6.4l-.3 3.8l-.3 .5l-.3 .7l-.3 .6l-.3 3.5l-.3 -1.7l-.3 4.3l-.3 .6l-.3 -1.2l-.3 .6l-.3 -3.2l-.3 8.3l-.3 -2.5l-.3 1.5l-.3 -2.1l-.3 -2.5l-.3 3.4l-.3 -1.3l-.3 1.7l-.3 -.7l-.3 -1.6l-.3 3.4l-.3 -2.3l-.3 1.9l-.3 -.7l-.3 -.8l-.3 3.8l-.3 .6l-.3 -.8l-.3 -.5l-.3 2.3l-.3 .5l-.3 .2l-.3 1.3l-.3 2.7l-.3 -7.8l-.3 3.8l-.3 -3.8l-.3 -.8l-.3 4.4l-.3 -3.4l-.3 -2.6l-.3 -.5l-.3 -2.1l-.3 .1l-.3 1.2l-.3 -.8l-.3 3.2l-.3 -2.4l-.3 -4.3l-.3 -2.1l-.3 .7l-.3 .3l-.3 -3.1l-.3 5l-.3 1.1l-.3 -1.4l-.3 2.4l-.3 .8l-.3 -1.5l-.3 2.2l-.3 .2l-.3 -.6l-.3 2.5l-.3 0l-.3 -.2l-.3 .5l-.3 -.1l-.3 1.3l-.3 2.1l-.3 .7l-.3 .5l-.3 .1l-.3 -3.7l-.3 2.6l-.3 -2l-.3 -4.1l-.3 6.3l-.3 -2.2l-.3 -2.9l-.3 -.7l-.3 0l-.3 2.6l-.3 .7l-.3 1.2l-.3 -3.6l-.3 5.9l-.3 4.4l-.3 -.8l-.3 -.5l-.3 1.6l-.3 -2.5l-.3 .1l-.3 -2l-.3 -.9l-.3 -.5l-.3 1.9l-.3 5.3l-.3 -2.8l-.3 1.8l-.3 -3l-.3 .9l-.3 -4.6l-.3 -3.1l-.3 3.1l-.3 .1l-.3 1.4l-.3 0l-.3 -2.4l-.3 2.5l-.3 .1l-.3 4.1l-.3 -.8l-.3 .8l-.3 2.7l-.3 -2.6l-.3 -.3l-.3 1.9l-.3 -.2l-.3 2l-.3 -2.7l-.3 -1.1l-.3 .6l-.3 2l-.3 3.7l-.3 -4.2l-.3 1.7l-.3 2.2l-.3 -1.6l-.3 -1.9l-.3 2.4l-.3 3.6l-.3 -1.6l-.3 -1.4l-.3 4.2l-.3 -.6l-.3 -2.6l-.3 4l-.3 -6.1l-.3 8.9l-.3 -5.3l-.3 -1.5l-.3 -1.6l-.3 .1l-.3 3.1l-.3 -2.1l-.3 1.2l-.3 .1l-.3 -2.8l-.3 2.1l-.3 -.7l-.3 -5.3l-.3 6.9l-.3 -4.4l-.3 -4.6l-.3 1.4l-.3 -.3l-.3 -3.4l-.3 1.7l-.3 2.1l-.3 1.2l-.3 -3.6l-.3 7.1l-.3 -4.4l-.3 3.4l-.3 -1.1l-.3 .2l-.3 -3l-.3 .5l-.3 5.4l-.3 -4l-.3 4.6l-.3 -2.4l-.3 4.6l-.3 .2l-.3 2.5l-.3 -.3l-.3 -3l-.3 -.2l-.3 .2l-.3 3.5l-.3 -4l-.3 -2.1l-.3 .3l-.3 .2l-.3 1.6l-.3 -5.5l-.3 2.6l-.3 4.1l-.3 -1.5l-.3 1.6l-.3 1.1l-.3 3.2l-.3 .2l-.3 1.2l-.3 .6l-.3 1.7l-.3 -4.4l-.3 3.4l-.3 .5l-.3 -2.5l-.3 3.4l-.3 -4.1l-.3 3.6l-.3 -.6l-.3 -3l-.3 -1l-.3 3.1l-.3 -4.9l-.3 -.3l-.3 2l-.3 -.2l-.3 -3l-.3 .3l-.3 6.5l-.3 -1.5l-.3 .6l-.3 -1.4l-.3 .3l-.3 .6l-.3 3l-.3 1.4l-.3 1l-.3 -1.5l-.3 4.3l-.3 -4.7l-.3 2.1l-.3 -.7l-.3 -2.3l-.3 6.6l-.3 -4.1l-.3 2.2l-.3 -1.7l-.3 .7l-.3 -.4l-.3 2.6l-.3 -2.2l-.3 3.8l-.3 -.6l-.3 1.8l-.3 -3.6l-.3 4.1l-.3 -3l-.3 -1.2l-.3 2.4l-.3 4.2l-.3 -5.2l-.3 0l-.3 -3.4l-.3 4.8l-.3 -1.1l-.3 -4.7l-.3 4.9l-.3 -.8l-.3 -4.3l-.3 -1l-.3 -.7l-.3 3.1l-.3 -4.2l-.3 2.9l-.3 -4.7l-.3 .2l-.3 1.6l-.3 -1.3l-.3 -3.4l-.3 4l-.3 .7l-.3 1l-.3 -.5l-.3 -1.6l-.3 2.5l-.3 -.9l-.3 2.2l-.3 1.9l-.3 -1.5l-.3 .6l-.3 3.1l-.3 -2.7l-.3 -.5l-.3 3.9l-.3 1.1l-.3 -4.8l-.3 3.6l-.3 -.9l-.3 0l-.3 3l-.3 -4.8l-.3 3.8l-.3 -2.9l-.3 -.3l-.3 -4.6l-.3 .6l-.3 1.6l-.3 -.6l-.3 2.6l-.3 1.7l-.3 .5l-.3 1.1l-.3 1.3l-.3 4.3l-.3 -.4l-.3 -3.8l-.3 1.5l-.3 1.7l-.3 -.7l-.3 -2.9l-.3 4.2l-.3 -2.8l-.3 -.6l-.3 .7l-.3 -1.9l-.3 .8l-.3 -2.4l-.3 -.2l-.3 2.5l-.3 -5.7l-.3 2.5l-.3 6l-.3 -2.5l-.3 3.4l-.3 -.7l-.3 -4.1l-.3 6.1l-.3 2.7l-.3 -.4l-.3 -2.2l-.3 1l-.3 -1.8l-.3 2.1l-.3 .5l-.3 2.4l-.3 -1.6l-.3 -3.6l-.3 -2.1l-.3 7.3l-.3 .3l-.3 -2.2l-.3 3.5l-.3 -2.8l-.3 -1.1l-.3 2.8l-.3 -1.2l-.3 .4l-.3 5.3l-.3 -2.1l-.3 -1.2l-.3 2.5l-.3 -2.6l-.3 4.6l-.3 -2.7l-.3 1.9l-.3 -1.2l-.3 -.6l-.3 -4.9l-.3 5l-.3 -3l-.3 1.6l-.3 -1.3l-.3 -4.7l-.3 5.8l-.3 1.5l-.3 -5.2l-.3 -2.1l-.3 .4l-.3 3.4l-.3 .4l-.3 -5.7l-.3 2.8l-.3 1.9l-.3 -.7l-.3 .2l-.3 1l-.3 1.9l-.3 .6l-.3 -2.2l-.3 -1.3l-.3 2.9l-.3 4l-.3 -2.2l-.3 -.9l-.3 1.9l-.3 3.6l-.3 -1.3l-.3 3.1l-.3 1.1l-.3 -.3l-.3 1.8l-.3 4.1l-.3 -3.5l-.3 1l-.3 -.1l-.3 -2.1l-.3 .4l-.3 1.1l-.3 -3.3l-.3 1.1l-.3 2.1l-.3 1.5l-.3 1.3l-.3 .3l-.3 2.7l-.3 1.5l-.3 2.3l-.3 .9l-.3 3l-.3 .9l-.3 -2.3l-.3 3.2l-.3 .7l-.3 .1l-.3 1l-.3 1.7l-.3 -.8l-.3 2.6l-.3 -4.4l-.3 1.3l-.3 -.9l-.3 1.9l-.3 .4l-.3 -3.2l-.3 2.8l-.3 3.1l-.3 -3l-.3 2.7l-.3 5.1l-.3 1.7l-.3 -1.3l-.3 -.2l-.3 1.3l-.3 2.7l-.3 .6l-.3 2.7l-.3 -.2l-.3 1.4l-.3 -1.3l-.3 -4.9l-.3 5.5l-.3 3.3l-.3 -3.9l-.3 1.6l-.3 -1l-.3 4.6l-.3 -1.6l-.3 -2.3l-.3 2.9l-.3 .7l-.3 -.1l-.3 3l-.3 -1.1l-.3 2.8l-.3 -2.7l-.3 2.1l-.3 2.1l-.3 .5l-.3 5.2l-.3 -6.9l-.3 -.7l-.3 .1l-.3 .6l-.3 3.8l-.3 -3.4l-.3 -5.4l-.3 4l-.3 -4.6l-.3 .6l-.3 3.7l-.3 -7.8l-.3 1.9l-.3 3l-.3 -5.1l-.3 -2.5l-.3 2.4l-.3 3.6l-.3 -4.5l-.3 2.2l-.3 -2.7l-.3 4.1l-.3 .1l-.3 -3.6l-.3 1.5l-.3 .4l-.3 3l-.3 -2l-.3 -2.8l-.3 3.5l-.3 2.1l-.3 0l-.3 -4.6l-.3 2.6l-.3 3l-.3 -.6l-.3 2l-.3 -1.6l-.3 .7l-.3 -2.8l-.3 -2.2l-.3 1.5l-.3 3.2l-.3 -5.7l-.3 2.7l-.3 -5.8l-.3 -5l-.3 4.2l-.3 1.7l-.3 .9l-.3 1.4l-.3 .2l-.3 2.9l-.3 2.3l-.3 .1l-.3 1.5l-.3 -2.4l-.3 -.8l-.3 3.3l-.3 1.1l-.3 -5.8l-.3 1.2l-.3 1l-.3 -1.6l-.3 -1.3l-.3 .2l-.3 -2.6l-.3 1.9l-.3 -1.8l-.3 .9l-.3 -4.8l-.3 .9l-.3 -.4l-.3 3.3l-.3 -2.7l-.3 1.4l-.3 4.6l-.3 -2l-.3 3.3l-.3 -2.6l-.3 2l-.3 -1.8l-.3 1.1l-.3 -1.1l-.3 1.6l-.3 -2.4l-.3 3.6l-.3 -.1l-.3 -1.8l-.3 -1.4l-.3 2.7l-.3 3.4l-.3 -4l-.3 1l-.3 3.1l-.3 -4.4l-.3 -.5l-.3 4.5l-.3 -3.2l-.3 2.4l-.3 -2.1l-.3 1.3l-.3 1.8l-.3 -1.2l-.3 .6l-.3 2.9l-.3 -7.8l-.3 2.1l-.3 -.5l-.3 -4.3l-.3 4.1l-.3 .7l-.3 -5.5l-.3 2.6l-.3 -4.2l-.3 1.2l-.3 2.2l-.3 -1.1l-.3 -3l-.3 -4.1l-.3 3.1l-.3 -2.3l-.3 -3.1l-.3 -.1l-.3 2.5l-.3 2.9l-.3 -4l-.3 -1.9l-.3 5.9l-.3 1.4l-.3 .2l-.3 -3.1l-.3 2.9l-.3 -1.4l-.3 -.2l-.3 -2.7l-.3 5.6l-.3 -.4l-.3 .6l-.3 -2.7l-.3 2.3l-.3 -1.2l-.3 4.8l-.3 -2.6l-.3 -.1l-.3 -1.5l-.3 1.9l-.3 -2.8l-.3 2.6l-.3 -2.4l-.3 -2.7l-.3 -3.2l-.3 -1.2l-.3 1.6l-.3 -.5l-.3 5.8l-.3 3l-.3 -3.6l-.3 5.6l-.3 -1.7l-.3 .7l-.3 2l-.3 -4.7l-.3 3.8l-.3 -.4l-.3 -1l-.3 -1l-.3 -4.1l-.3 3.6l-.3 1.2l-.3 -4l-.3 3.7l-.3 -5.4l-.3 .6l-.3 1.6l-.3 -2l-.3 -.7l-.3 -4.1l-.3 5.1l-.3 -1l-.3 .7l-.3 4.1l-.3 .4l-.3 .5l-.3 -3.4l-.3 2.3l-.3 -3.3l-.3 1.1l-.3 3.6l-.3 -4.4l-.3 4.7l-.3 -1.2l-.3 -1.7l-.3 7l-.3 -3.4l-.3 -3.4l-.3 5.3l-.3 -4.2l-.3 .5l-.3 2.5l-.3 -1.2l-.3 1.5l-.3 -2.1l-.3 4l-.3 -1.3l-.3 1l-.3 -3.5l-.3 1.2l-.3 -.6l-.3 3.5l-.3 -.7l-.3 -3l-.3 .3l-.3 -5.2l-.3 3.4l-.3 -.9l-.3 -4l-.3 1.5l-.3 -2.8l-.3 2.2l-.3 -2.4l-.3 .4l-.3 .8l-.3 -3.8l-.3 3.8l-.3 -2.1l-.3 -1.2l-.3 -.5l-.3 -2.6l-.3 .1l-.3 -2l-.3 2.9l-.3 2.9l-.3 -2.9l-.3 1.1l-.3 3.4l-.3 -2.2l-.3 .2l-.3 -1.6l-.3 3.1l-.3 -1.7l-.3 4.2l-.3 -5.5l-.3 2.7l-.3 -.2l-.3 -.7l-.3 5.3l-.3 -3.4l-.3 1l-.3 2.5l-.3 -3.8l-.3 5.2l-.3 -6.9l-.3 -.9l-.3 -.2l-.3 -3.9l-.3 3l-.3 -3.2l-.3 2.3l-.3 1.2l-.3 .5l-.3 1.4l-.3 -.1l-.3 4.1l-.3 .9l-.3 .2l-.3 -1.9l-.3 -2.3l-.3 3.2l-.3 -2.2l-.3 2.7l-.3 1.3l-.3 -3.2l-.3 .5l-.3 -1.9l-.3 -1.1l-.3 -.5l-.3 2.9l-.3 -7.2l-.3 1.6l-.3 .7l-.3 -4l-.3 4.6l-.3 -.5l-.3 .8l-.3 -.6l-.3 4.9l-.3 -1.6l-.3 -.2l-.3 -.2l-.3 -1l-.3 .4l-.3 3.5l-.3 -.3l-.3 -3.1l-.3 2.2l-.3 -.5l-.3 2.5l-.3 .6l-.3 -.5l-.3 .5l-.3 -6.5l-.3 7.5l-.3 -2l-.3 -1.2l-.3 2.7l-.3 -1.8l-.3 3.3l-.3 -4.8l-.3 4.4l-.3 -1.9l-.3 -1.7l-.3 2l-.3 -4.3l-.3 6.8l-.3 -1.4l-.3 1.9l-.3 -7.9l-.3 2.6l-.3 -3.7l-.3 2.5l-.3 2.3l-.3 -3.5l-.3 -1.3l-.3 -2.7l-.3 4.5l-.3 -1.6l-.3 -1.2l-.3 -3.3l-.3 -.7l-.3 -.2l-.3 .1l-.3 -3.4l-.3 2l-.3 -4.2l-.3 4.3l-.3 -3.4l-.3 1.9l-.3 2.1l-.3 1.3l-.3 -.7l-.3 5.1l-.3 -8.1l-.3 5.2l-.3 -1.3l-.3 3.9l-.3 -1.6l-.3 -.3l-.3 -4.5l-.3 4l-.3 1.5l-.3 -4.2l-.3 4.5l-.3 .1l-.3 -.4l-.3 .5l-.3 -2.7l-.3 -1.6l-.3 2.6l-.3 -3.2l-.3 1.6l-.3 -5.4l-.3 -.3l-.3 2.5l-.3 -.8l-.3 3l-.3 1.1l-.3 2.8l-.3 3.1l-.3 -2.7l-.3 .1l-.3 2.3l-.3 -.2l-.3 1.3l-.3 -5l-.3 2.8l-.3 .5l-.3 1.2l-.3 -3.5l-.3 .5l-.3 -.3l-.3 -1.8l-.3 .3l-.3 -3.3l-.3 -1.1l-.3 -.6l-.3 .6l-.3 -1.5l-.3 3.9l-.3 -.5l-.3 .2l-.3 -1.7l-.3 4.9l-.3 3.3l-.3 -6.6l-.3 4.5l-.3 -3.1l-.3 .6l-.3 2.7l-.3 .3l-.3 -5.8l-.3 6.5l-.3 -2.5l-.3 1.8l-.3 -3.3l-.3 .2l-.3 4.1l-.3 -4.4l-.3 -.6l-.3 5.4l-.3 -1.2l-.3 -.4l-.3 -2.1l-.3 3.2l-.3 .7l-.3 -1.7l-.3 3.8l-.3 -4.1l-.3 1.6l-.3 .3l-.3 .7l-.3 -2.4l-.3 -.7l-.3 1.2l-.3 -2.3l-.3 -1.1l-.3 1.2l-.3 -1.6l-.3 .4l-.3 1.2l-.3 -3.4l-.3 .6l-.3 -.9l-.3 -1.6l-.3 -2.6l-.3 -.7l-.3 4.1l-.3 -8.2l-.3 2.8l-.3 -.4l-.3 -2l-.3 3.8l-.3 1.2l-.3 -.3l-.3 4.4l-.3 -4.7l-.3 -.1l-.3 2.9l-.3 -1.3l-.3 .1l-.3 -1.7l-.3 2.2l-.3 0l-.3 2.4l-.3 -2.7l-.3 5.9l-.3 -1.1l-.3 -1.6l-.3 3l-.3 -.7l-.3 -4.5l-.3 1.8l-.3 -.6l-.3 2.9l-.3 -5.5l-.3 1.1l-.3 -3.9l-.3 1.1l-.3 -2.3l-.3 1.7l-.3 1.1l-.3 3l-.3 1l-.3 1.2l-.3 4.6l-.3 .9l-.3 1l-.3 -3.2l-.3 3.3l-.3 -2.3l-.3 -1.5l-.3 .3l-.3 -2.8l-.3 3.7l-.3 .3l-.3 -1l-.3 -6.6l-.3 3.6l-.3 -5.9l-.3 7.7l-.3 -5l-.3 2.8l-.3 -.9l-.3 4.5l-.3 -6l-.3 2.9l-.3 1.2l-.3 .6l-.3 3.4l-.3 -3.7l-.3 2.7l-.3 1.9l-.3 2.5l-.3 -5.6l-.3 2.7l-.3 3.8l-.3 -4.4l-.3 1.1l-.3 1.5l-.3 -.1l-.3 -2.5l-.3 1.7l-.3 3l-.3 -5.8l-.3 6.1l-.3 -3.9l-.3 1.7l-.3 -.2l-.3 .7l-.3 -2.6l-.3 4.6l-.3 -3l-.3 5.4l-.3 -3.4l-.3 -1.5l-.3 5.6l-.3 -4.6l-.3 -3.4l-.3 2.5l-.3 2.4l-.3 -6.7l-.3 6.5l-.3 -7.3l-.3 2.4l-.3 .7l-.3 -2.6l-.3 .9l-.3 -1.3l-.3 -3.1l-.3 0l-.3 1.8l-.3 .4l-.3 3.6l-.3 -9l-.3 1.9l-.3 3.3l-.3 -2.3l-.3 -.1l-.3 -1.8l-.3 3.5l-.3 2.2l-.3 -1.6l-.3 -1.3l-.3 3.3l-.3 -4.3l-.3 1.8l-.3 .3l-.3 2.4l-.3 .1l-.3 .3l-.3 -.3l-.3 -.7l-.3 6.6l-.3 -4.1l-.3 2.1l-.3 -1.1l-.3 -2.2l-.3 -2.6l-.3 .1l-.3 1.7l-.3 -1.4l-.3 -2.3l-.3 -2.2l-.3 3.7l-.3 .7l-.3 -1.6l-.3 2.8l-.3 3.8l-.3 .7l-.3 5.4l-.3 -3.8l-.3 2.7l-.3 .7l-.3 1.3l-.3 -1.7l-.3 -4.5l-.3 .4l-.3 2l-.3 -2.7l-.3 3.4l-.3 -3.9l-.3 2.2l-.3 .2l-.3 -4.9l-.3 1.8l-.3 -1.4l-.3 -3.3l-.3 3.1l-.3 -1.8l-.3 6.5l-.3 -2.6l-.3 .5l-.3 -5.6l-.3 6l-.3 5.8l-.3 -4.4l-.3 5.6l-.3 -5.1l-.3 -.4l-.3 -.6l-.3 3.6l-.3 -.8l-.3 .5l-.3 1.3l-.3 .2l-.3 1.6l-.3 .5l-.3 -6l-.3 5.4l-.3 -1.6l-.3 1.1l-.3 -1.6l-.3 3.4l-.3 -.8l-.3 .2l-.3 3.9l-.3 -2.7l-.3 4.7l-.3 -2.6l-.3 -2.9l-.3 .4l-.3 1.3l-.3 .7l-.3 -1.9l-.3 2.2l-.3 -4.9l-.3 -.2l-.3 1.4l-.3 -.5l-.3 .2l-.3 .4l-.3 -3.6l-.3 0l-.3 -2.7l-.3 4l-.3 -3.3l-.3 -.9l-.3 -1.4l-.3 3.5l-.3 -6l-.3 3.8l-.3 5.3l-.3 -3.4l-.3 .2l-.3 1.6l-.3 -2.8l-.3 3.3l-.3 .5l-.3 -1l-.3 0l-.3 1.6l-.3 -1l-.3 3.6l-.3 -2l-.3 -.6l-.3 1.5l-.3 1.1l-.3 2.1l-.3 -1.1l-.3 0l-.3 -1l-.3 5.3l-.3 -7.3l-.3 3.9l-.3 -6.8l-.3 3.9l-.3 -4.6l-.3 2l-.3 -1.4l-.3 2l-.3 -1.7l-.3 7.2l-.3 -5l-.3 8l-.3 .3l-.3 1.7l-.3 -1l-.3 -.9l-.3 .4l-.3 -2.1l-.3 1.1l-.3 .8l-.3 .2l-.3 -1.9l-.3 .6l-.3 1.2l-.3 .3l-.3 1l-.3 -2.8l-.3 -1.4l-.3 -1.8l-.3 3.2l-.3 -1l-.3 -3.2l-.3 3l-.3 2.7l-.3 2.5l-.3 -4.1l-.3 1.4l-.3 2.7l-.3 -2.7l-.3 1.3l-.3 .6l-.3 1.2l-.3 3.4l-.3 -3.3l-.3 -1.9l-.3 3.3l-.3 -1.3l-.3 2.3l-.3 -.5l-.3 3.9l-.3 -1.6l-.3 -.8l-.3 -.4l-.3 .9l-.3 1.9l-.3 -2.9l-.3 2.5l-.3 -2.8l-.3 3.8l-.3 -.6l-.3 1.4l-.3 -2.8l-.3 3.1l-.3 2.9l-.3 -.8l-.3 -3.7l-.3 1.7l-.3 -2.3l-.3 4.5l-.3 -4.9l-.3 1.6l-.3 .2l-.3 -4l-.3 0l-.3 1.8l-.3 -2.6l-.3 -3.3l-.3 .2l-.3 3l-.3 -2.2l-.3 -2.2l-.3 2.4l-.3 -5l-.3 1.6l-.3 6l-.3 -5.1l-.3 4.5l-.3 -5.7l-.3 4.7l-.3 1.3l-.3 .6l-.3 -3.5l-.3 7l-.3 -6l-.3 .4l-.3 1.7l-.3 .2l-.3 1.7l-.3 .3l-.3 -1.9l-.3 3.5l-.3 1.9l-.3 -3.9l-.3 3.3l-.3 1.8l-.3 -4.5l-.3 .4l-.3 -1l-.3 .2l-.3 1.6l-.3 -2.6l-.3 .1l-.3 -1.8l-.3 4.6l-.3 -1.7l-.3 7.9l-.3 -3.1l-.3 1.9l-.3 .8l-.3 4.3l-.3 -.7l-.3 -4.6l-.3 .8l-.3 1.7l-.3 3.1l-.3 -1.3l-.3 -2.8l-.3 1.3l-.3 1.3l-.3 -1.6l-.3 -3.8l-.3 5.5l-.3 -3.3l-.3 -3.9l-.3 -2.3l-.3 2.5l-.3 1.6l-.3 -.2l-.3 1.2l-.3 .9l-.3 -2.2l-.3 4.1l-.3 -4.1l-.3 5.5l-.3 1.1l-.3 1.8l-.3 .8l-.3 -3.7l-.3 -.5l-.3 4l-.3 1.1l-.3 -2.6l-.3 3.1l-.3 -1.8l-.3 -2.7l-.3 4.8l-.3 -1.2l-.3 -1.1l-.3 .8l-.3 1.1l-.3 -.2l-.3 1.9l-.3 -.7l-.3 3l-.3 -3.8l-.3 3.5l-.3 -1.3l-.3 1.1l-.3 3l-.3 -2.5l-.3 -.9l-.3 -3.4l-.3 2.1l-.3 -3.5l-.3 2.4l-.3 -2.6l-.3 -.2l-.3 -.6l-.3 4.6l-.3 .4l-.3 -2l-.3 -2.3l-.3 -1.9l-.3 .1l-.3 -4.4l-.3 7.1l-.3 -4.6l-.3 -.3l-.3 -1.8l-.3 .7l-.3 .1l-.3 -1.8l-.3 3.6l-.3 -1.1l-.3 2.5l-.3 -2.8l-.3 2.9l-.3 -4.6l-.3 3.8l-.3 -5.3l-.3 9.1l-.3 -6.3l-.3 1.1l-.3 5l-.3 -2.1l-.3 1.1l-.3 -2.4l-.3 1.2l-.3 -1.2l-.3 6.3l-.3 -7l-.3 -.7l-.3 1.3l-.3 1.1l-.3 -5.6l-.3 .6l-.3 -3.3l-.3 .8l-.3 .2l-.3 5.2l-.3 -5.8l-.3 4.6l-.3 2.1l-.3 1.4l-.3 2.9l-.3 -4.9l-.3 3.4l-.3 -2.4l-.3 1.1l-.3 -2.3l-.3 -1l-.3 1.9l-.3 .5l-.3 -.9l-.3 -3.6l-.3 -1.7l-.3 -.4l-.3 3.6l-.3 -7.3l-.3 -2.8l-.3 7.1l-.3 -3.4l-.3 2.8l-.3 1l-.3 2l-.3 -1l-.3 0l-.3 -3.7l-.3 3.1l-.3 -4l-.3 2.3l-.3 -.5l-.3 2.8l-.3 -1.2l-.3 -4.1l-.3 3.3l-.3 3.2l-.3 -1.6l-.3 -1.2l-.3 1.1l-.3 -1l-.3 2.2l-.3 -4.1l-.3 3.4l-.3 -1.5l-.3 1l-.3 -5.3l-.3 5.6l-.3 -2.9l-.3 1l-.3 -1.9l-.3 1.7l-.3 -2.5l-.3 5.2l-.3 -5.9l-.3 5.2l-.3 -3.2l-.3 -1.8l-.3 -.1l-.3 -2.1l-.3 -1.7l-.3 -3.2l-.3 2.6l-.3 -1.7l-.3 -2.9l-.3 -.1l-.3 -2.9l-.3 3.9l-.3 -1.6l-.3 .4l-.3 -5.4l-.3 1.7l-.3 -3.8l-.3 3.6l-.3 -2.9l-.3 3.2l-.3 1.7l-.3 -4.4l-.3 .3l-.3 4.6l-.3 -2.9l-.3 1.1l-.3 -.8l-.3 1.8l-.3 1.8l-.3 -2.7l-.3 3l-.3 -5.5l-.3 5.1l-.3 -1.8l-.3 2.6l-.3 -1.3l-.3 .2l-.3 .4l-.3 .2l-.3 -.6l-.3 -6l-.3 3.6l-.3 -4.7l-.3 -.4l-.3 -.5l-.3 1.5l-.3 -4.5l-.3 1.9l-.3 -.1l-.3 6l-.3 -1.4l-.3 1.2l-.3 0l-.3 -1.8l-.3 2.6l-.3 3.5l-.3 -2.6l-.3 -3.3l-.3 -.6l-.3 1.2l-.3 -1.9l-.3 1.2l-.3 -.7l-.3 -.8l-.3 -1.3l-.3 -3.4l-.3 7.6l-.3 -5.7l-.3 -1.9l-.3 -5.1l-.3 3l-.3 1.6l-.3 5.3l-.3 -3.5l-.3 5.3l-.3 -4.2l-.3 -1l-.3 .5l-.3 -.8l-.3 .8l-.3 -2.8l-.3 2l-.3 5.2l-.3 -3.1l-.3 -1.5l-.3 2.1l-.3 -1.1l-.3 -2.1l-.3 9.8l-.3 -8.5l-.3 2.5l-.3 .3l-.3 -6.4l-.3 3.4l-.3 .9l-.3 .7l-.3 -2.8l-.3 4.2l-.3 -.4l-.3 -1.3l-.3 0l-.3 3.7l-.3 -5.1l-.3 -1.7l-.3 .3l-.3 1.6l-.3 -4.8l-.3 5.4l-.3 -8.3l-.3 5.2l-.3 -6.7l-.3 .1l-.3 1.4l-.3 2.2l-.3 -8l-.3 7.6l-.3 -4.7l-.3 -1.5l-.3 -2.4l-.3 -.4l-.3 -1.7l-.3 .2l-.3 -3.6l-.3 5.3l-.3 -1.5l-.3 -2.6l-.3 2.3l-.3 3.4l-.3 -2.4l-.3 -.8l-.3 -2.4l-.3 5.9l-.3 -7.5l-.3 4.6l-.3 1.3l-.3 -.2l-.3 -2.9l-.3 3.2l-.3 -1.3l-.3 -1.2l-.3 3.8l-.3 -2l-.3 .7l-.3 -2l-.3 .9l-.3 -2.9l-.3 2.7l-.3 -4.3l-.3 -4.1l-.3 2.4l-.3 -4l-.3 2.2l-.3 -1.8l-.3 6.6l-.3 -1.9l-.3 2.3l-.3 -.2l-.3 .2l-.3 3.9l-.3 -3.4l-.3 -.7l-.3 3.5l-.3 2.7l-.3 -1.8l-.3 -5.2l-.3 .4l-.3 -.4l-.3 .8l-.3 -2l-.3 -.4l-.3 2.8l-.3 -1l-.3 -6.4l-.3 .2l-.3 -3.3l-.3 3.5l-.3 -1.9l-.3 -1.6l-.3 3.8l-.3 0l-.3 -.4l-.3 3.6l-.3 -5.4l-.3 2.2l-.3 -5.1l-.3 6.8l-.3 .7l-.3 -4.5l-.3 2.6l-.3 -3.5l-.3 2.7l-.3 .8l-.3 -1.5l-.3 2.2l-.3 1.1l-.3 -3.8l-.3 1.5l-.3 -3.6l-.3 -.5l-.3 1.3l-.3 -.4l-.3 -2.4l-.3 2.6l-.3 .9l-.3 2l-.3 -8.1l-.3 3.9l-.3 -5.5l-.3 4.1l-.3 -2.5l-.3 -.9l-.3 -.2l-.3 -4.3l-.3 1.2l-.3 .5l-.3 -.2l-.3 -2.4l-.3 -3.4l-.3 1.9l-.3 -2.9l-.3 .4l-.3 -1.5l-.3 2.2l-.3 -4.8l-.3 -4l-.3 3.4l-.3 -5.3l-.3 3.3l-.3 -.3l-.3 .6l-.3 -1.2l-.3 .9l-.3 -4.6l-.3 3.2l-.3 1.5l-.3 -2.8l-.3 -.7l-.3 .3l-.3 2.5l-.3 -.7l-.3 0l-.3 1.6l-.3 -1.8l-.3 1.9l-.3 -3l-.3 -1.6l-.3 3.4l-.3 1.2l-.3 -4.8l-.3 .1l-.3 -2.2l-.3 1.3l-.3 .1l-.3 -2.4l-.3 -2.9l-.3 -2l-.3 -2.8l-.3 -2l-.3 .4l-.3 1.7l-.3 4l-.3 2.4l-.3 -.4l-.3 .6l-.3 1l-.3 -4.5l-.3 5.1l-.3 -4.5l-.3 1.1l-.3 -.6l-.3 1l-.3 -1.4l-.3 -.8l-.3 -3.9l-.3 1.5l-.3 .5l-.3 -3.9l-.3 2.6l-.3 -2.2l-.3 -1.7l-.3 1.6l-.3 -5.4l-.3 1.3l-.3 3l-.3 -1.6l-.3 .4l-.3 -1.7l-.3 2.9l-.3 .6l-.3 -.5l-.3 .6l-.3 -.4l-.3 -.3l-.3 .1l-.3 -3.3l-.3 1.6l-.3 -2.6l-.3 -1.4l-.3 3.4l-.3 2.4l-.3 .3l-.3 -3.5l-.3 .6l-.3 -.7l-.3 2l-.3 -4.1l-.3 3.2l-.3 -6.6l-.3 -.9l-.3 3.8l-.3 -1.5l-.3 -3.4l-.3 2l-.3 -1.7l-.3 0l-.3 .8l-.3 1.1l-.3 -2.7l-.3 -3.3l-.3 2l-.3 -3.4l-.3 1.7l-.3 -9.5l-.3 4.1l-.3 1.2l-.3 -2.9l-.3 5.4l-.3 -8.5l-.3 2.4l-.3 2.1l-.3 -4.5l-.3 -2.1l-.3 -4.7l-.3 3.8l-.3 -.9l-.3 .9l-.3 1.5l-.3 -2l-.3 .9l-.3 -5.8l-.3 5.2l-.3 -3.3l-.3 2.8l-.3 -2.8l-.3 .6l-.3 -1l-.3 9.4l-.3 -4.7l-.3 .8l-.3 -2.1l-.3 2.4l-.3 -1.7l-.3 -1.8l-.3 -.1l-.3 3.6l-.3 -7.2l-.3 1.8l-.3 -.7l-.3 3.8l-.3 -.2l-.3 -2.4l-.3 3.9l-.3 .6l-.3 -.2l-.3 3.9l-.3 2.1l-.3 -.2l-.3 2.8l-.3 3.3l-.3 0l-.3 1.9l-.3 .7l-.3 3.6l-.3 -3.7l-.3 4.3l-.3 -.2l-.3 3.7l-.3 -2.2l-.3 1.6l-.3 1.9l-.3 -1.2l-.3 1.9l-.3 -1.2l-.3 -2.5l-.3 1.6l-.3 .5l-.3 2.2l-.3 -1.8l-.3 3.4l-.3 2.8l-.3 2.6l-.3 .2l-.3 1.2l-.3 .3l-.3 1.2l-.3 3.9l-.3 -3.2l-.3 1.3l-.3 2.1l-.3 2.3l-.3 2.6l-.3 2l-.3 -.1l-.3 0l-.3 3.9l-.3 -2l-.3 1.9l-.3 -.8l-.3 1.6l-.3 1l-.3 4.3l-.3 -4.4l-.3 1l-.3 11.4l-.3 -8.1l-.3 3.3l-.3 -1.9l-.3 .8l-.3 2.3l-.3 -.3l-.3 1.9l-.3 2.6l-.3 -3.5l-.3 3.9l-.3 -2.8l-.3 1l-.3 -.1l-.3 -.2l-.3 1.1l-.3 -1.5l-.3 3.5l-.3 .5l-.3 .4l-.3 -3l-.3 -1l-.3 1.2l-.3 -4.3l-.3 2.2l-.3 .5l-.3 .8l-.3 1.4l-.3 6.2l-.3 -4.6l-.3 1.3l-.3 -1.1l-.3 .8l-.3 6l-.3 -3.8l-.3 .9l-.3 -.1l-.3 2.7l-.3 2.5l-.3 -2.8l-.3 4.8l-.3 2l-.3 -6.5l-.3 8.1l-.3 -5l-.3 -.6l-.3 2.7l-.3 -2.9l-.3 -.1l-.3 1.7l-.3 -1.7l-.3 -2.9l-.3 4.2l-.3 -3l-.3 -3l-.3 1l-.3 5.6l-.3 -1.2l-.3 2l-.3 3.7l-.3 -1l-.3 -1.8l-.3 6.2l-.3 .8l-.3 2l-.3 -3.4l-.3 -1.6l-.3 3.4l-.3 -4.1l-.3 3.6l-.3 -2.3l-.3 -3.1l-.3 2.2l-.3 -4.5l-.3 3.2l-.3 -3.2l-.3 .5l-.3 -4l-.3 5.7l-.3 -2.4l-.3 .3l-.3 2.5l-.3 3.2l-.3 .6l-.3 -2.6l-.3 2.3l-.3 1l-.3 .2l-.3 1.1l-.3 -1.9l-.3 1.8l-.3 -2.1l-.3 1.8l-.3 -.5l-.3 1.7l-.3 0l-.3 -3.3l-.3 6.4l-.3 -3.6l-.3 2.4l-.3 -.9l-.3 .8l-.3 -1l-.3 -.6l-.3 -.8l-.3 2.6l-.3 -1.9l-.3 5.5l-.3 -5.3l-.3 4.4l-.3 -.4l-.3 -.6l-.3 -.7l-.3 -.7l-.3 .9l-.3 -.8l-.3 -1.8l-.3 -.3l-.3 -.9l-.3 2l-.3 -3.6l-.3 -.9l-.3 1.6l-.3 -.1l-.3 -1.4l-.3 -2.4l-.3 .8l-.3 .2l-.3 -1.9l-.3 -5.3l-.3 3.2l-.3 -2.7l-.3 6l-.3 .9l-.3 .3l-.3 .3l-.3 -1.5l-.3 1l-.3 2.4l-.3 -2.3l-.3 6.9l-.3 -1.6l-.3 -2.6l-.3 2.8l-.3 -2.6l-.3 4.1l-.3 -1.7l-.3 -1.7l-.3 4.6l-.3 .5l-.3 -2.8l-.3 7.3l-.3 -9.1l-.3 3.4l-.3 -2.6l-.3 3.9l-.3 -5.9l-.3 -2.8l-.3 2.9l-.3 .2l-.3 .4l-.3 3.3l-.3 .7l-.3 -.5l-.3 .4l-.3 4.2l-.3 1.4l-.3 -.4l-.3 -.7l-.3 -.7l-.3 2.9l-.3 -4.5l-.3 2.1l-.3 1.1l-.3 -4.6l-.3 -1.7l-.3 4.9l-.3 -4.4l-.3 1.8l-.3 .1l-.3 -6.3l-.3 3.4l-.3 -1.9l-.3 1l-.3 1.6l-.3 -.4l-.3 4.1l-.3 .1l-.3 -2.1l-.3 4.9l-.3 -2.5l-.3 3.1l-.3 -5.1l-.3 3.1l-.3 1l-.3 -3.4l-.3 1.4l-.3 -2.6l-.3 7.6l-.3 .1l-.3 -.9l-.3 .8l-.3 -.4l-.3 -2.5l-.3 1.9l-.3 -1.4l-.3 4.3l-.3 -5.2l-.3 1.4l-.3 1.8l-.3 .8l-.3 -2.5l-.3 1.6l-.3 -.1l-.3 3.6l-.3 -4.9l-.3 5l-.3 -1.8l-.3 -.2l-.3 -1.1l-.3 .4l-.3 -4.3l-.3 3.9l-.3 -4.9l-.3 3.7l-.3 -2.3l-.3 -2.3l-.3 -1l-.3 4.8l-.3 -1.7l-.3 -.2l-.3 -7.3l-.3 4.9l-.3 -5.9l-.3 1.1l-.3 .1l-.3 3.1l-.3 -2l-.3 1.8l-.3 -1.8l-.3 6.1l-.3 -6.1l-.3 3.7l-.3 -.8l-.3 3.5l-.3 -1.6l-.3 -1.8l-.3 2.1l-.3 -.9l-.3 3.6l-.3 1.1l-.3 -3.4l-.3 3.1l-.3 -1l-.3 4.9l-.3 -2l-.3 -1.3l-.3 .5l-.3 1.1l-.3 -4.4l-.3 2.8l-.3 -3.8l-.3 1.5l-.3 -1.9l-.3 .8l-.3 -2.2l-.3 6.4l-.3 -1.8l-.3 1.3l-.3 6.2l-.3 .1l-.3 .8l-.3 .8l-.3 -4.1l-.3 3.2l-.3 0l-.3 1.1l-.3 .3l-.3 -.4l-.3 1.5l-.3 -1.1l-.3 -2l-.3 .2l-.3 4.2l-.3 -7.4l-.3 -3.9l-.3 -.1l-.3 3.5l-.3 2l-.3 1.5l-.3 2.6l-.3 -1.4l-.3 .9l-.3 2.2l-.3 -1.8l-.3 .6l-.3 2.3l-.3 -3.2l-.3 2.4l-.3 1.7l-.3 -1l-.3 1.5l-.3 1.3l-.3 -.4l-.3 -.3l-.3 -1.6l-.3 .8l-.3 .3l-.3 .2l-.3 2.4l-.3 1.4l-.3 .4l-.3 -.4l-.3 -3.6l-.3 4.5l-.3 3.1l-.3 -1.5l-.3 2.6l-.3 -4.6l-.3 6l-.3 0l-.3 -1.5l-.3 .9l-.3 -1.5l-.3 .9l-.3 -2.5l-.3 4.5l-.3 1.4l-.3 -3.5l-.3 2.4l-.3 -1.4l-.3 -3.9l-.3 2.3l-.3 1.4l-.3 -2l-.3 -1.1l-.3 .3l-.3 -1.3l-.3 3l-.3 -2.5l-.3 -1.1l-.3 .8l-.3 .5l-.3 -.9l-.3 -.4l-.3 2.6l-.3 5.3l-.3 -3.7l-.3 -1.9l-.3 2.1l-.3 5.2l-.3 -4.2l-.3 3.7l-.3 0l-.3 -1l-.3 .3l-.3 2.6l-.3 -1.3l-.3 4.3l-.3 -1.8l-.3 4.1l-.3 -4.4l-.3 3.6l-.3 -.2l-.3 -5l-.3 1.2l-.3 1.5l-.3 -2.4l-.3 -.8l-.3 2.5l-.3 .7l-.3 1.5l-.3 -3.3l-.3 9.2l-.3 1.4l-.3 .5l-.3 .1l-.3 1.8l-.3 -1.5l-.3 .5l-.3 2.2l-.3 -2.2l-.3 1.1l-.3 1.4l-.3 -1.8l-.3 -3.5l-.3 6.4l-.3 -3.6l-.3 -.8l-.3 3l-.3 -.8l-.3 -3.3l-.3 -.7l-.3 -.2l-.3 -1.2l-.3 3.4l-.3 2.4l-.3 2.2l-.3 1.1l-.3 3l-.3 -4.5l-.3 2.9l-.3 -.8l-.3 2.8l-.3 .9l-.3 1.5l-.3 1.5l-.3 -1.9l-.3 .4l-.3 .9l-.3 3.9l-.3 1.1l-.3 -5.2l-.3 3.7l-.3 1l-.3 1.3l-.3 -4.9l-.3 3.8l-.3 -.1l-.3 4.7l-.3 2.1l-.3 -3.6l-.3 2.4l-.3 -1.3l-.3 1.7l-.3 2.8l-.3 -3.1l-.3 2.9l-.3 -2.9l-.3 -1l-.3 1.1l-.3 1.1l-.3 -1l-.3 -2.9l-.3 2.4l-.3 -.6l-.3 -.2l-.3 .2l-.3 -1.2l-.3 -5l-.3 2.6l-.3 2.8l-.3 -2.3l-.3 -2.6l-.3 -2.8l-.3 6.3l-.3 -2.2l-.3 -1.2l-.3 -1.6l-.3 7.3l-.3 -1.1l-.3 1.6l-.3 0l-.3 1.1l-.3 .8l-.3 -1.7l-.3 2.3l-.3 -2.7l-.3 .4l-.3 2.7l-.3 .9l-.3 2.1l-.3 -1l-.3 -.1l-.3 3.7l-.3 -2l-.3 -1.7l-.3 2.4l-.3 -6.9l-.3 .6l-.3 .7l-.3 -.7l-.3 -2.5l-.3 .6l-.3 2.9l-.3 -2l-.3 6.8l-.3 -6.6l-.3 5.6l-.3 .6l-.3 .8l-.3 4.6l-.3 -3.5l-.3 4l-.3 -1.8l-.3 -2l-.3 0l-.3 -4.2l-.3 .8l-.3 2.3l-.3 1.6l-.3 -.6l-.3 -1.7l-.3 -2.9l-.3 -1.5l-.3 3.3l-.3 -2.8l-.3 -1.2l-.3 .5l-.3 3l-.3 -1.5l-.3 1.7l-.3 -.5l-.3 2.1l-.3 2.5l-.3 -2.8l-.3 2.5l-.3 -.1l-.3 -1.1l-.3 .5l-.3 1.1l-.3 -3.1l-.3 2.8l-.3 -.1l-.3 1.4l-.3 -4.2l-.3 1l-.3 3.4l-.3 -4.3l-.3 2.6l-.3 -2.3l-.3 1.6l-.3 1l-.3 2.9l-.3 -3.1l-.3 -.5l-.3 .9l-.3 3.2l-.3 -.6l-.3 -2.4l-.3 2.7l-.3 .2l-.3 -1.4l-.3 1.9l-.3 -4l-.3 0l-.3 -2.9l-.3 -1.4l-.3 2.7l-.3 -3l-.3 -1.9l-.3 2.7l-.3 -3.8l-.3 -.1l-.3 2.2l-.3 .6l-.3 -4l-.3 -2l-.3 .5l-.3 1.6l-.3 -4.8l-.3 2.5l-.3 2.5l-.3 -2.7l-.3 -1.5l-.3 -.9l-.3 4.9l-.3 -1.4l-.3 .8l-.3 1l-.3 -1.3l-.3 2.8l-.3 -.5l-.3 .3l-.3 1.1l-.3 .2l-.3 -1.3l-.3 2.6l-.3 1.8l-.3 -1.3l-.3 3.6l-.3 -6.1l-.3 1.6l-.3 -1.9l-.3 1.5l-.3 1.4l-.3 .2l-.3 -4.1l-.3 -1.7l-.3 1.8l-.3 -3l-.3 2.9l-.3 -.2l-.3 5l-.3 2l-.3 -.5l-.3 -2.7l-.3 1.1l-.3 2.3l-.3 -2.2l-.3 .5l-.3 -1.6l-.3 -.9l-.3 2.1l-.3 1.9l-.3 -4.2l-.3 .1l-.3 3.1l-.3 -4.3l-.3 -.2l-.3 -1.6l-.3 .9l-.3 -2.3l-.3 1.1l-.3 .9l-.3 -1.6l-.3 2.4l-.3 -.2l-.3 4.9l-.3 -3.4l-.3 2.6l-.3 -4.4l-.3 1.5l-.3 -.6l-.3 1.4l-.3 -.5l-.3 4.1l-.3 -1.5l-.3 .6l-.3 1.9l-.3 .5l-.3 -2.3l-.3 .2l-.3 -1.2l-.3 3.2l-.3 -4.8l-.3 -.6l-.3 3.5l-.3 2.7l-.3 -1l-.3 3l-.3 -6.4l-.3 5.4l-.3 -3.5l-.3 -.6l-.3 .4l-.3 -.5l-.3 4.4l-.3 -2.8l-.3 -.5l-.3 4.3l-.3 -7.5l-.3 2.2l-.3 -3.2l-.3 .6l-.3 -.6l-.3 2.5l-.3 -4l-.3 -3.5l-.3 .7l-.3 -.2l-.3 .3l-.3 -4.2l-.3 -1.2l-.3 1.8l-.3 -3.2l-.3 3.2l-.3 -1.1l-.3 .8l-.3 .9l-.3 2.2l-.3 -2.1l-.3 -.6l-.3 -.2l-.3 .5l-.3 1l-.3 2.7l-.3 -3.3l-.3 -.3l-.3 1.5l-.3 -.1l-.3 3.8l-.3 -2.8l-.3 6.6l-.3 -3.3l-.3 1.9l-.3 -2.4l-.3 .5l-.3 2.1l-.3 -.9l-.3 -1.6l-.3 -3.5l-.3 -1.1l-.3 -.4l-.3 -2.8l-.3 5.7l-.3 -3.2l-.3 3.3l-.3 -1.3l-.3 4.6l-.3 4.3l-.3 -3.3l-.3 1.3l-.3 2.2l-.3 -3.2l-.3 4.5l-.3 -4.7l-.3 1.6l-.3 -.7l-.3 .4l-.3 -.7l-.3 -.7l-.3 -2.9l-.3 .2l-.3 0l-.3 .1l-.3 -2.4l-.3 .5l-.3 -.8l-.3 -1.8l-.3 4.2l-.3 .7l-.3 -2.9l-.3 4.1l-.3 -2.4l-.3 4.6l-.3 -3.7l-.3 1.5l-.3 4.3l-.3 -4.9l-.3 2.7l-.3 1l-.3 -.7l-.3 .7l-.3 -1.2l-.3 -2.8l-.3 3.4l-.3 -.4l-.3 -4.1Z" fill="#0072B2" fill-opacity="0.2" stroke="#0072B2" stroke-opacity="0.28" stroke-width="1.39" stroke-linejoin="round"/>
<g stroke="#808080" stroke-opacity="0.22" stroke-width="1.3" fill="none"><path d="M152.50 15.5V542.5"/><path d="M278.50 15.5V542.5"/><path d="M404.50 15.5V542.5"/><path d="M530.50 15.5V542.5"/><path d="M657.50 15.5V542.5"/><path d="M783.50 15.5V542.5"/><path d="M909.50 15.5V542.5"/><path d="M80.5 515.50H985.5"/><path d="M80.5 454.50H985.5"/><path d="M80.5 394.50H985.5"/><path d="M80.5 333.50H985.5"/><path d="M80.5 272.50H985.5"/><path d="M80.5 212.50H985.5"/><path d="M80.5 151.50H985.5"/><path d="M80.5 90.50H985.5"/><path d="M80.5 30.50H985.5"/></g>
<path d="M119.5 469h0M119.5 467.5h0M120 466h0M120 470h0M120 467h0M120.5 470h0M120.5 469h0M120.5 469.5h0M120.5 468.5h0M121 470.5h0M121 470h0M121 468h0M121 467.5h0M121.5 468.5h0M121.5 469.5h0M121.5 470.5h0M122 467.5h0M122 468h0M122 467h0M122.5 468h0M122.5 467.5h0M122.5 470h0M123 467.5h0M123 472h0M123 469h0M123 471h0M123.5 468h0M123.5 470h0M123.5 468.5h0M123.5 470.5h0M124 470.5h0M124 470h0M124 471h0M124.5 473h0M124.5 472h0M124.5 469.5h0M124.5 469h0M125 471h0M125 467.5h0M125 468.5h0M125.5 469h0M125.5 473h0M125.5 467h0M125.5 467.5h0M126 466h0M126 469h0M126 465.5h0M126 467.5h0M126.5 472.5h0M126.5 466.5h0M126.5 469h0M126.5 466h0M127 468h0M127 467.5h0M127 466.5h0M127.5 463.5h0M127.5 465h0M127.5 466.5h0M128 467.5h0M128 466.5h0M128.5 468h0M128.5 463h0M128.5 462h0M128.5 471.5h0M129 470h0M129 471.5h0M129 469.5h0M129 469h0M129.5 469.5h0M129.5 466h0M129.5 469h0M129.5 468h0M130 470.5h0M130 470h0M130 467h0M130 461.5h0M130.5 463h0M130.5 467h0M130.5 464.5h0M130.5 468.5h0M131 468h0M131 468.5h0M131 469.5h0M131.5 466.5h0M131.5 465h0M131.5 466h0M131.5 467h0M132 464h0M132 465h0M132 461.5h0M132 460h0M132.5 461h0M132.5 468h0M132.5 458h0M132.5 457.5h0M133 457.5h0M133 464.5h0M133 465h0M133.5 465.5h0M133.5 457h0M133.5 457.5h0M133.5 459h0M134 457h0M134 460h0M134 458h0M134.5 461.5h0M134.5 456h0M134.5 457h0M135 456h0M135 462.5h0M135.5 456h0M135.5 456.5h0M135.5 457.5h0M136 458.5h0M136 457h0M136 456h0M136 457.5h0M136.5 466h0M136.5 461.5h0M136.5 456h0M136.5 459h0M137 456h0M137 457.5h0M137 466h0M137.5 456.5h0M137.5 460h0M137.5 458.5h0M138 459.5h0M138 463.5h0M138 457h0M138.5 458h0M138.5 461.5h0M138.5 460h0M139 461h0M139 462h0M139 467h0M139 465.5h0M139.5 460.5h0M139.5 457h0M139.5 465.5h0M139.5 457.5h0M140 460h0M140 463.5h0M140 462.5h0M140 458h0M140.5 465.5h0M140.5 460h0M140.5 462.5h0M141 458.5h0M141 459h0M141 461h0M141 466.5h0M141.5 462.5h0M141.5 459h0M141.5 457.5h0M142 459h0M142 457.5h0M142 456.5h0M142.5 458h0M142.5 457h0M142.5 456.5h0M142.5 458.5h0M143 461h0M143 464.5h0M143 458h0M143.5 459.5h0M143.5 465.5h0M143.5 461.5h0M143.5 462.5h0M144 459.5h0M144 458.5h0M144 459h0M144.5 462.5h0M144.5 465h0M144.5 463h0M144.5 464.5h0M145 464.5h0M145 465h0M145 465.5h0M145.5 463h0M145.5 465.5h0M145.5 465h0M146 460h0M146 459h0M146 464h0M146 463.5h0M146.5 463.5h0M146.5 464h0M147 465.5h0M147 466h0M147 463.5h0M147 462.5h0M147.5 463.5h0M147.5 464h0M147.5 463h0M147.5 466h0M148 469h0M148 466.5h0M148 465.5h0M148 466h0M148.5 464.5h0M148.5 462.5h0M148.5 463.5h0M149 463h0M149 468h0M149 465.5h0M149 467.5h0M149.5 464h0M149.5 466.5h0M149.5 468.5h0M149.5 464.5h0M150 467.5h0M150 468h0M150 468.5h0M150.5 468.5h0M150.5 467.5h0M150.5 469.5h0M150.5 465h0M151 469.5h0M151 468h0M151 468.5h0M151.5 469h0M151.5 469.5h0M151.5 471h0M151.5 470h0M152 468.5h0M152 467h0M152 463.5h0M152.5 463.5h0M152.5 465h0M152.5 468.5h0M152.5 466h0M153 469h0M153 467h0M153 465h0M153 464.5h0M153.5 466h0M153.5 469h0M153.5 465.5h0M154 469.5h0M154 463.5h0M154 465.5h0M154 465h0M154.5 468h0M154.5 465.5h0M154.5 466h0M154.5 470h0M155 468h0M155 466.5h0M155 464.5h0M155.5 465.5h0M155.5 466h0M155.5 467.5h0M156 469.5h0M156 468.5h0M156.5 470h0M156.5 469h0M156.5 471h0M157 468.5h0M157 469.5h0M157 470.5h0M157 471h0M157.5 471h0M157.5 470h0M158 470.5h0M158 469h0M158.5 463h0M158.5 470h0M158.5 469h0M158.5 469.5h0M159 469h0M159 469.5h0M159 460h0M159.5 469h0M159.5 466.5h0M159.5 467h0M160 467h0M160 469h0M160 468.5h0M160.5 466.5h0M160.5 468.5h0M161 466.5h0M161 467h0M161 464h0M161 461h0M161.5 461h0M161.5 457h0M161.5 460h0M161.5 463h0M162 456h0M162 457.5h0M162.5 456h0M162.5 458h0M162.5 465h0M163 456.5h0M163 457.5h0M163 458.5h0M163 464.5h0M163.5 466h0M163.5 467h0M163.5 460.5h0M163.5 463.5h0M164 460h0M164 459h0M164 457h0M164.5 460.5h0M164.5 462.5h0M164.5 461.5h0M164.5 466.5h0M165 459.5h0M165 464.5h0M165 465h0M165.5 464h0M165.5 463.5h0M165.5 466.5h0M165.5 464.5h0M166 467h0M166.5 465.5h0M166.5 463h0M166.5 467h0M167 467h0M167 466h0M167.5 465.5h0M167.5 467h0M168 465h0M168 465.5h0M168 463.5h0M168 467.5h0M168.5 464h0M168.5 461h0M168.5 461.5h0M169 462h0M169 463.5h0M169 461.5h0M169.5 460.5h0M169.5 461h0M169.5 462.5h0M170 463h0M170 463.5h0M170 464.5h0M170 466h0M170.5 469.5h0M170.5 467.5h0M170.5 470h0M171 470h0M171 469h0M171 467.5h0M171 467h0M171.5 466h0M171.5 470.5h0M171.5 470h0M171.5 467h0M172 465.5h0M172 470.5h0M172 468h0M172.5 466.5h0M172.5 467.5h0M172.5 471h0M173 465h0M173 466h0M173 466.5h0M173 467.5h0M173.5 463.5h0M173.5 466.5h0M173.5 470.5h0M174 467.5h0M174 465.5h0M174 469.5h0M174 470h0M174.5 465.5h0M174.5 467h0M174.5 466.5h0M174.5 470.5h0M175 467h0M175 468.5h0M175 467.5h0M175.5 465.5h0M175.5 468h0M175.5 466h0M176 464h0M176 467.5h0M176 469h0M176 466h0M176.5 466.5h0M176.5 463.5h0M176.5 468.5h0M176.5 465h0M177 462.5h0M177 463.5h0M177 465.5h0M177 468h0M177.5 466.5h0M177.5 467h0M177.5 468.5h0M177.5 469.5h0M178 465.5h0M178 467.5h0M178 468.5h0M178.5 463.5h0M178.5 466h0M178.5 467h0M178.5 465.5h0M179 469h0M179 466.5h0M179 464.5h0M179 464h0M179.5 463.5h0M179.5 466.5h0M179.5 465h0M180 465.5h0M180 468h0M180 469.5h0M180 466.5h0M180.5 467.5h0M180.5 467h0M180.5 468h0M181 469.5h0M181 468h0M181 470.5h0M181 469h0M181.5 473h0M181.5 471.5h0M181.5 468h0M181.5 470.5h0M182 470h0M182 469h0M182 471h0M182.5 471.5h0M182.5 470h0M182.5 474h0M182.5 469h0M183 472h0M183 472.5h0M183 470.5h0M183.5 470.5h0M183.5 471.5h0M183.5 473h0M184 471.5h0M184 472.5h0M184.5 470.5h0M184.5 471h0M184.5 470h0M185 470h0M185 469.5h0M185 470.5h0M185.5 469.5h0M185.5 470.5h0M185.5 472h0M186 471.5h0M186 470.5h0M186 469.5h0M186 470h0M186.5 472.5h0M186.5 468.5h0M186.5 473.5h0M187 473h0M187 469h0M187 472.5h0M187.5 472.5h0M187.5 471h0M188 472.5h0M188 470.5h0M188 471.5h0M188 466.5h0M188.5 471.5h0M188.5 471h0M189 469h0M189 471h0M189 470.5h0M189.5 470.5h0M189.5 471h0M189.5 468h0M189.5 469h0M190 468h0M190 467.5h0M190 469.5h0M190.5 464.5h0M190.5 464h0M190.5 468.5h0M190.5 470h0M191 466.5h0M191 470h0M191.5 464.5h0M191.5 469.5h0M191.5 468h0M191.5 467h0M192 467h0M192 468h0M192 468.5h0M192.5 470h0M192.5 469.5h0M192.5 467.5h0M193 470h0M193 468.5h0M193 466h0M193 465.5h0M193.5 468.5h0M193.5 467.5h0M193.5 468h0M194 468.5h0M194 468h0M194 469h0M194.5 467.5h0M194.5 464h0M194.5 466.5h0M194.5 464.5h0M195 465h0M195 464h0M195 466h0M195 467.5h0M195.5 465h0M195.5 466h0M195.5 469h0M196 464h0M196 466h0M196.5 465h0M196.5 465.5h0M196.5 464h0M196.5 466.5h0M197 467.5h0M197 465.5h0M197 464h0M197 465h0M197.5 466.5h0M197.5 465h0M197.5 464h0M197.5 464.5h0M198 466h0M198 465h0M198 468h0M198 464h0M198.5 464h0M198.5 465h0M198.5 464.5h0M198.5 467h0M199 466h0M199 469.5h0M199 465h0M199 464h0M199.5 465.5h0M199.5 466.5h0M199.5 469h0M199.5 468.5h0M200 468.5h0M200 468h0M200 469.5h0M200.5 467.5h0M200.5 466.5h0M201 464.5h0M201 470.5h0M201 466h0M201.5 464.5h0M201.5 466h0M201.5 467.5h0M201.5 470h0M202 467h0M202 468.5h0M202 469h0M202 469.5h0M202.5 465h0M202.5 469.5h0M202.5 467.5h0M203 465.5h0M203 468.5h0M203.5 466.5h0M203.5 465.5h0M203.5 466h0M204 466h0M204 467h0M204 468.5h0M204.5 473h0M204.5 466.5h0M204.5 467.5h0M204.5 467h0M205 466.5h0M205 468.5h0M205 471.5h0M205.5 467h0M205.5 467.5h0M206 468.5h0M206 469h0M206 467h0M206 468h0M206.5 467.5h0M206.5 469h0M207 467.5h0M207 468h0M207 468.5h0M207.5 470h0M207.5 469h0M207.5 468.5h0M208 469h0M208 468h0M208.5 468h0M208.5 468.5h0M209 468h0M209 469.5h0M209.5 469.5h0M209.5 468h0M209.5 468.5h0M209.5 470h0M210 471h0M210 468.5h0M210 473h0M210.5 468h0M210.5 469.5h0M210.5 471.5h0M211 468h0M211 469.5h0M211 474h0M211.5 474h0M211.5 473h0M211.5 475h0M212 475h0M212 471.5h0M212 473h0M212.5 472.5h0M212.5 473h0M212.5 471.5h0M213 471h0M213 473h0M213 472h0M213.5 471.5h0M213.5 470.5h0M213.5 469h0M213.5 469.5h0M214 468.5h0M214 469.5h0M214 470.5h0M214 470h0M214.5 468.5h0M214.5 470.5h0M215 468.5h0M215 469h0M215.5 469h0M215.5 472h0M215.5 470h0M215.5 469.5h0M216 470h0M216 469h0M216.5 469h0M216.5 469.5h0M216.5 470.5h0M217 469h0M217 469.5h0M217 470h0M217.5 470h0M217.5 469h0M217.5 471.5h0M218 471h0M218 470h0M218 470.5h0M218 472h0M218.5 472h0M218.5 470.5h0M218.5 471.5h0M218.5 474h0M219 471h0M219 473.5h0M219 471.5h0M219 475h0M219.5 472h0M219.5 474.5h0M219.5 475h0M219.5 474h0M220 469h0M220 471.5h0M220 474.5h0M220 475h0M220.5 474h0M220.5 475h0M221 471.5h0M221 473h0M221 475h0M221 474h0M221.5 475h0M221.5 474.5h0M222 475h0M222 469.5h0M222.5 473.5h0M222.5 474.5h0M222.5 473h0M223 472h0M223 471.5h0M223 474h0M223 473.5h0M223.5 474h0M223.5 472.5h0M223.5 473h0M223.5 473.5h0M224 472h0M224 466.5h0M224 472.5h0M224 469.5h0M224.5 469h0M224.5 464.5h0M224.5 469.5h0M225 470h0M225 471h0M225 472h0M225.5 462h0M225.5 471.5h0M225.5 471h0M226 467.5h0M226 467h0M226 463.5h0M226 465.5h0M226.5 466h0M226.5 468h0M226.5 465.5h0M226.5 467h0M227 460.5h0M227 460h0M227.5 462h0M227.5 460h0M227.5 459.5h0M228 459.5h0M228 461h0M228 459h0M228.5 460.5h0M228.5 458.5h0M228.5 461h0M229 459h0M229 464h0M229 461.5h0M229 465.5h0M229.5 465h0M229.5 461h0M229.5 463.5h0M229.5 465.5h0M230 466.5h0M230 464.5h0M230 465h0M230.5 464h0M230.5 462h0M230.5 465h0M231 465.5h0M231 465h0M231 460h0M231 464h0M231.5 461.5h0M231.5 463h0M231.5 464.5h0M231.5 465h0M232 463h0M232 463.5h0M232 464.5h0M232.5 464.5h0M232.5 462.5h0M232.5 462h0M232.5 463.5h0M233 463.5h0M233 462h0M233 464h0M233.5 464h0M233.5 462h0M233.5 463.5h0M234 463h0M234 464h0M234 463.5h0M234.5 462h0M234.5 462.5h0M234.5 463.5h0M235 461.5h0M235 463.5h0M235 462h0M235 459.5h0M236.5 430h0M236.5 428h0M237 425h0M237 420.5h0M237 421.5h0M237 420h0M237.5 424.5h0M237.5 425h0M237.5 422h0M237.5 417.5h0M238 409h0M238 412h0M238 409.5h0M238 423h0M238.5 410h0M238.5 415.5h0M238.5 411.5h0M238.5 415h0M239 419.5h0M239 425.5h0M239 424.5h0M239 419h0M239.5 427h0M239.5 426h0M239.5 424h0M239.5 425.5h0M240 432.5h0M240 427.5h0M240 427h0M240 417.5h0M240.5 416.5h0M240.5 413.5h0M240.5 418h0M240.5 415h0M241 425h0M241 419.5h0M241 429.5h0M241 422h0M241.5 430h0M241.5 427h0M241.5 431.5h0M242 430h0M242 428h0M242.5 420h0M242.5 429.5h0M242.5 413h0M242.5 418h0M243 412h0M243 413h0M243 414h0M243 422h0M243.5 417.5h0M243.5 415h0M243.5 409h0M243.5 410.5h0M244 409h0M244 410.5h0M244 409.5h0M244 410h0M244.5 411.5h0M244.5 414h0M244.5 413h0M244.5 424h0M245 411h0M245 408h0M245 407.5h0M245 418.5h0M245.5 407.5h0M245.5 409h0M245.5 413.5h0M245.5 411h0M246 411h0M246 409.5h0M246 406.5h0M246 408.5h0M246.5 406h0M246.5 409h0M246.5 413.5h0M246.5 412h0M247 413.5h0M247 418h0M247 409h0M247 408h0M247.5 411.5h0M247.5 423.5h0M247.5 414h0M247.5 412h0M248 409.5h0M248 402h0M248 401.5h0M248 403.5h0M248.5 406h0M248.5 404h0M248.5 407h0M248.5 407.5h0M249 407h0M249 403.5h0M249 400h0M249 404h0M249.5 413.5h0M249.5 404h0M249.5 405.5h0M249.5 401.5h0M250 408.5h0M250 403h0M250 397.5h0M250 405.5h0M250.5 406h0M250.5 402.5h0M250.5 400.5h0M251 401.5h0M251 406.5h0M251 410.5h0M251 411h0M251.5 409.5h0M251.5 406.5h0M251.5 409h0M251.5 403h0M252 403.5h0M252 394h0M252 373h0M252 360h0M252.5 345h0M252.5 347h0M252.5 349h0M253 350.5h0M253 349.5h0M253 353.5h0M253 348.5h0M253.5 359h0M253.5 353h0M253.5 360.5h0M254 361.5h0M254 351h0M254 358h0M254 356.5h0M254.5 351.5h0M254.5 360.5h0M254.5 362h0M254.5 358.5h0M255 361h0M255 355h0M255 359h0M255.5 361h0M255.5 363.5h0M255.5 355h0M255.5 360h0M256 362h0M256 359h0M256 369.5h0M256 372h0M256.5 377h0M256.5 375.5h0M256.5 381.5h0M256.5 369.5h0M257 383.5h0M257 382.5h0M257 376h0M257.5 380.5h0M257.5 374.5h0M257.5 378h0M258 382h0M258 387.5h0M258 373h0M258 379.5h0M258.5 390h0M258.5 386.5h0M258.5 383.5h0M258.5 379h0M259 392.5h0M259 394h0M259 393.5h0M259 385h0M259.5 384.5h0M259.5 390h0M259.5 395h0M259.5 392.5h0M260 400h0M260 386.5h0M260 397.5h0M260 396h0M260.5 398h0M260.5 393h0M260.5 399h0M260.5 395.5h0M261 391h0M261 398h0M261 396.5h0M261 395h0M261.5 396.5h0M261.5 397.5h0M261.5 393.5h0M261.5 388h0M262 396.5h0M262 400.5h0M262 397.5h0M262 394.5h0M262.5 399h0M262.5 397h0M262.5 395.5h0M262.5 400h0M263 400.5h0M263 399h0M263 397h0M263 391.5h0M263.5 400h0M263.5 393h0M263.5 394.5h0M263.5 396h0M264 392h0M264 393h0M264 388.5h0M264 391.5h0M264.5 385.5h0M264.5 384h0M264.5 389.5h0M264.5 387.5h0M265 387h0M265 385h0M265 384.5h0M265.5 384.5h0M265.5 386h0M265.5 386.5h0M266 384.5h0M266 393.5h0M266 385.5h0M266.5 385h0M266.5 389h0M266.5 387h0M267 385h0M267 386.5h0M267 388.5h0M267.5 395h0M267.5 388h0M267.5 386.5h0M268 387h0M268 386.5h0M268 398h0M268 386h0M268.5 386h0M268.5 386.5h0M269 388h0M269 389.5h0M269 386.5h0M269.5 386.5h0M269.5 389.5h0M269.5 398.5h0M270 389.5h0M270 393h0M270 394.5h0M270 401.5h0M270.5 399h0M270.5 401h0M270.5 395.5h0M270.5 400.5h0M271 394.5h0M271 403h0M271 401.5h0M271 404h0M271.5 399.5h0M271.5 403h0M271.5 399h0M271.5 401.5h0M272 401h0M272 405h0M272 402.5h0M272 404h0M272.5 400.5h0M272.5 392h0M272.5 395.5h0M272.5 396.5h0M273 398h0M273 392.5h0M273 405h0M273 395.5h0M273.5 394.5h0M273.5 400h0M273.5 403h0M273.5 398h0M274 397h0M274 399h0M274 398.5h0M274 395h0M274.5 399h0M274.5 397.5h0M274.5 398h0M274.5 400h0M275 398h0M275 405.5h0M275 408h0M275 404.5h0M275.5 406.5h0M275.5 404h0M275.5 402.5h0M275.5 400h0M276 403h0M276 404.5h0M276 402.5h0M276 397.5h0M276.5 402h0M276.5 404h0M276.5 407h0M277 396.5h0M277 405.5h0M277 399h0M277.5 397h0M277.5 398.5h0M277.5 396.5h0M278 399h0M278 396.5h0M278 399.5h0M278 398h0M278.5 396.5h0M278.5 396h0M278.5 400.5h0M278.5 403h0M279 397.5h0M279 398.5h0M279 397h0M279.5 404.5h0M279.5 395.5h0M279.5 396h0M279.5 396.5h0M280 396.5h0M280 402h0M280 401.5h0M280 401h0M280.5 402h0M280.5 398.5h0M280.5 391h0M280.5 395.5h0M281 394h0M281 391.5h0M281 391h0M281 387h0M281.5 395h0M281.5 400.5h0M281.5 397.5h0M281.5 394.5h0M282 395.5h0M282 400h0M282 397h0M282 399h0M282.5 399.5h0M282.5 392.5h0M282.5 396.5h0M282.5 389.5h0M283 393.5h0M283 387h0M283 390.5h0M283 395.5h0M283.5 386h0M283.5 384.5h0M283.5 383h0M283.5 382.5h0M284 394h0M284 382h0M284 381.5h0M284 384h0M284.5 383.5h0M284.5 384.5h0M284.5 385.5h0M284.5 383h0M285 387.5h0M285 384.5h0M285 385h0M285.5 385h0M285.5 388.5h0M285.5 397.5h0M285.5 390h0M286 396.5h0M286 395.5h0M286 397h0M286 392h0M286.5 395.5h0M286.5 396.5h0M286.5 395h0M286.5 398h0M287 391.5h0M287 395h0M287 396h0M287 392.5h0M287.5 396h0M287.5 399h0M287.5 402.5h0M288 394h0M288 395h0M288 392h0M288 393h0M288.5 390.5h0M288.5 391.5h0M288.5 392h0M288.5 390h0M289 391.5h0M289 389.5h0M289.5 392h0M289.5 389.5h0M289.5 399.5h0M290 389h0M290 395.5h0M290 389.5h0M290 390.5h0M290.5 392h0M290.5 395h0M290.5 390.5h0M290.5 394.5h0M291 393h0M291 394h0M291.5 394.5h0M291.5 396.5h0M291.5 397h0M291.5 395h0M292 396h0M292 395h0M292.5 396.5h0M292.5 395h0M292.5 393.5h0M292.5 394h0M293 392.5h0M293 393h0M293 396h0M293 395.5h0M293.5 393h0M293.5 395h0M293.5 394.5h0M294 394h0M294 392.5h0M294 394.5h0M294 387.5h0M294.5 390h0M294.5 390.5h0M294.5 391h0M294.5 393.5h0M295 385.5h0M295 388h0M295 389.5h0M295 391.5h0M295.5 391h0M295.5 392.5h0M295.5 389h0M296 392.5h0M296 390h0M296 392h0M296 391h0M296.5 388.5h0M296.5 387.5h0M296.5 383.5h0M297 386h0M297 383.5h0M297 394.5h0M297.5 386.5h0M297.5 386h0M297.5 391h0M297.5 385.5h0M298 388.5h0M298 385h0M298 393.5h0M298 387h0M298.5 383h0M298.5 384h0M298.5 386.5h0M298.5 385.5h0M299 387h0M299 386.5h0M299 383h0M299 383.5h0M299.5 386h0M299.5 383h0M300 384h0M300 387.5h0M300 391h0M300.5 386.5h0M300.5 389.5h0M300.5 387h0M301 383.5h0M301 390.5h0M301 384.5h0M301.5 383h0M301.5 393.5h0M301.5 389.5h0M301.5 385h0M302 384h0M302 385h0M302 392.5h0M302 382h0M302.5 383h0M302.5 388h0M302.5 386h0M302.5 392h0M303 386.5h0M303 386h0M303 384.5h0M303 383.5h0M303.5 373.5h0M303.5 345h0M303.5 343h0M303.5 341h0M304 342.5h0M304 345h0M304 353h0M304.5 358.5h0M304.5 353.5h0M304.5 354h0M304.5 362h0M305 358h0M305 360.5h0M305 357h0M305 359h0M305.5 357.5h0M305.5 357h0M305.5 335.5h0M305.5 355.5h0M306 338.5h0M306 339.5h0M306 345.5h0M306 340.5h0M306.5 341h0M306.5 338h0M306.5 337.5h0M306.5 346h0M307 357h0M307 355h0M307 359h0M307.5 357h0M307.5 366h0M307.5 355.5h0M307.5 364h0M308 345h0M308 344h0M308 344.5h0M308 367h0M308.5 349.5h0M308.5 348h0M308.5 350h0M309 357h0M309 359h0M309 365h0M309.5 362h0M309.5 352h0M309.5 351.5h0M309.5 349.5h0M310 354h0M310 365h0M310 350.5h0M310 350h0M310.5 350h0M310.5 371h0M310.5 351h0M310.5 360.5h0M311 355h0M311 351.5h0M311 357h0M311 358.5h0M311.5 364.5h0M311.5 358.5h0M311.5 353.5h0M312 360.5h0M312 358.5h0M312 357.5h0M312 357h0M312.5 354h0M312.5 355.5h0M312.5 353.5h0M312.5 370.5h0M313 360h0M313 354.5h0M313 359.5h0M313.5 364h0M313.5 358h0M313.5 358.5h0M313.5 362.5h0M314 359.5h0M314 356h0M314 363h0M314 358h0M314.5 357h0M314.5 377h0M314.5 363h0M314.5 355.5h0M315 356h0M315 358.5h0M315 359h0M315 373h0M315.5 362.5h0M315.5 379.5h0M315.5 366h0M316 370h0M316 378h0M316 374h0M316.5 369.5h0M316.5 376h0M316.5 368.5h0M316.5 362.5h0M317 363h0M317 358.5h0M317 360h0M317.5 360.5h0M317.5 370h0M317.5 373h0M317.5 362.5h0M318 368.5h0M318 367.5h0M318 362h0M318.5 366.5h0M318.5 362.5h0M318.5 373.5h0M318.5 364h0M319 363.5h0M319 370h0M319 366.5h0M319 369.5h0M319.5 373h0M319.5 381h0M319.5 384.5h0M320 367h0M320 366.5h0M320 368.5h0M320.5 367.5h0M320.5 367h0M320.5 371.5h0M321 386.5h0M321 376.5h0M321 369h0M321 387h0M321.5 376.5h0M321.5 375.5h0M321.5 376h0M321.5 378h0M322 379.5h0M322 381h0M322 383h0M322 385h0M322.5 386h0M322.5 394h0M322.5 389h0M322.5 396.5h0M323 389h0M323 398.5h0M323 393h0M323 405h0M323.5 404h0M323.5 397.5h0M323.5 395.5h0M323.5 398.5h0M324 396h0M324 406.5h0M324 403h0M324.5 393h0M324.5 397h0M324.5 408h0M324.5 409.5h0M325 404.5h0M325 413.5h0M325 394.5h0M325 416h0M325.5 423h0M325.5 405.5h0M325.5 415h0M325.5 414h0M326 416.5h0M326 404.5h0M326 408.5h0M326 402h0M326.5 399h0M326.5 405.5h0M326.5 402h0M327 416h0M327 414h0M327 407.5h0M327 403.5h0M327.5 408.5h0M327.5 406h0M327.5 411.5h0M327.5 403h0M328 403h0M328 409h0M328 401.5h0M328 406.5h0M328.5 405.5h0M328.5 396.5h0M328.5 404.5h0M328.5 408h0M329 402h0M329 394h0M329 397.5h0M329 400h0M329.5 395h0M329.5 394.5h0M329.5 396h0M330 394.5h0M330 419h0M330 395h0M330.5 410.5h0M330.5 398h0M330.5 397h0M330.5 395.5h0M331 399.5h0M331 396h0M331.5 396h0M331.5 398h0M331.5 404h0M331.5 411.5h0M332 402.5h0M332 398.5h0M332 399.5h0M332 400h0M332.5 398.5h0M332.5 397h0M332.5 397.5h0M332.5 416h0M333 398.5h0M333 421.5h0M333 398h0M333 418h0M333.5 398.5h0M333.5 399.5h0M333.5 407h0M334 402h0M334 404.5h0M334 399h0M334 401h0M334.5 401h0M334.5 399h0M334.5 399.5h0M334.5 400h0M335 404h0M335 401.5h0M335 400h0M335 403h0M335.5 412h0M335.5 419h0M335.5 417h0M335.5 416h0M336 422h0M336 419h0M336 423h0M336.5 419.5h0M336.5 413h0M336.5 417.5h0M336.5 408h0M337 414h0M337 408h0M337 414.5h0M337 405.5h0M337.5 402h0M337.5 416.5h0M337.5 410.5h0M338 405h0M338 406h0M338 405.5h0M338 409h0M338.5 400.5h0M338.5 397h0M338.5 398h0M339 406h0M339 396.5h0M339 396h0M339.5 396h0M339.5 395.5h0M339.5 407.5h0M340 395h0M340 394.5h0M340 404h0M340.5 393.5h0M340.5 395.5h0M340.5 396.5h0M340.5 391.5h0M341 398h0M341 396h0M341 401.5h0M341 403.5h0M341.5 402h0M341.5 404.5h0M341.5 394h0M341.5 386.5h0M342 398.5h0M342 398h0M342 404.5h0M342.5 399h0M342.5 402h0M342.5 398.5h0M342.5 391.5h0M343 393h0M343 386.5h0M343 399h0M343.5 397h0M343.5 390h0M343.5 392.5h0M343.5 396.5h0M344 393.5h0M344 405h0M344 404h0M344 398h0M344.5 400h0M344.5 403.5h0M344.5 398h0M345 403h0M345 400h0M345 399h0M345 401h0M345.5 394h0M345.5 390h0M345.5 393h0M346 388h0M346 390.5h0M346 396h0M346 388.5h0M346.5 387.5h0M346.5 379h0M346.5 375h0M346.5 379.5h0M347 375h0M347 393h0M347 374.5h0M347 375.5h0M347.5 374.5h0M347.5 382.5h0M347.5 375h0M348 381.5h0M348 374.5h0M348 380h0M348 377h0M348.5 388h0M348.5 389h0M348.5 387.5h0M348.5 378h0M349 377.5h0M349 374.5h0M349 379h0M349.5 376h0M349.5 380.5h0M349.5 385h0M349.5 382.5h0M350 380h0M350 374h0M350 382h0M350 387.5h0M350.5 378h0M350.5 379.5h0M350.5 381h0M350.5 394h0M351 374h0M351 391.5h0M351 375.5h0M351 382.5h0M351.5 383.5h0M351.5 389.5h0M351.5 386h0M351.5 380.5h0M352 384.5h0M352 388.5h0M352 391.5h0M352 383h0M352.5 388.5h0M352.5 384h0M352.5 388h0M353 389h0M354 238h0M354 243.5h0M354 244h0M354 236.5h0M354.5 201.5h0M354.5 229h0M354.5 238h0M354.5 208h0M355 229h0M355 242h0M355 235h0M355 225.5h0M355 231h0M355.5 245h0M355.5 233h0M355.5 236h0M355.5 240.5h0M355.5 246.5h0M356 244.5h0M356 245h0M356 229h0M356 234.5h0M356 208h0M356.5 212h0M356.5 200.5h0M356.5 211.5h0M356.5 213.5h0M357 231.5h0M357 205.5h0M357 242.5h0M357 241h0M357 206h0M357.5 225h0M357.5 237h0M357.5 211.5h0M357.5 210h0M357.5 205.5h0M358 201.5h0M358 200.5h0M358 194.5h0M358 199.5h0M358.5 194.5h0M358.5 202h0M358.5 201h0M358.5 194h0M359 196.5h0M359 194h0M359 208.5h0M359 198.5h0M359 202h0M359.5 193.5h0M359.5 193h0M359.5 202.5h0M359.5 207h0M360 230.5h0M360 214h0M360 212h0M360 229.5h0M360 213h0M360.5 196.5h0M360.5 202.5h0M360.5 200.5h0M360.5 203h0M361 197.5h0M361 217h0M361 202.5h0M361 199.5h0M361 206h0M361.5 202.5h0M361.5 202h0M361.5 193.5h0M361.5 203h0M361.5 215.5h0M362 208.5h0M362 206.5h0M362 199.5h0M362 222h0M362 202.5h0M362.5 214.5h0M362.5 204.5h0M362.5 225h0M362.5 209.5h0M363 223h0M363 217h0M363 201.5h0M363 227.5h0M363 219.5h0M363.5 237.5h0M363.5 234.5h0M363.5 244h0M363.5 239.5h0M363.5 234h0M364 243.5h0M364 242.5h0M364 244.5h0M364 247.5h0M364 246.5h0M364.5 239.5h0M364.5 245h0M364.5 241.5h0M364.5 244.5h0M365 238.5h0M365 250h0M365 246.5h0M365 235h0M365.5 246h0M365.5 242.5h0M365.5 252h0M365.5 243.5h0M366 204.5h0M366 253h0M366 253.5h0M366 249h0M366.5 254.5h0M366.5 249.5h0M366.5 247h0M366.5 251.5h0M366.5 221.5h0M367 231.5h0M367 208h0M367 257h0M367 236.5h0M367 249.5h0M367.5 258.5h0M367.5 259h0M367.5 244h0M367.5 213.5h0M368 247.5h0M368 244.5h0M368 259h0M368 230h0M368.5 234.5h0M368.5 229.5h0M368.5 256.5h0M368.5 248h0M368.5 243.5h0M369 237.5h0M369 223.5h0M369 244.5h0M354 204h0M354 223h0M354.5 223.5h0M354.5 211h0M354.5 206h0M354.5 211.5h0M355 202h0M355 225h0M355 202.5h0M355.5 201.5h0M355.5 208.5h0M355.5 206h0M355.5 206.5h0M356 243.5h0M356 201h0M356 206h0M356.5 203.5h0M356.5 220h0M356.5 209.5h0M357 231h0M357 215h0M357 205h0M357 209h0M357.5 206h0M357.5 218h0M357.5 222.5h0M358 213.5h0M358 219h0M358 220h0M358 212h0M358.5 207.5h0M358.5 217h0M358.5 199h0M359 201.5h0M359 199h0M359 220h0M359 214.5h0M359.5 204.5h0M359.5 218h0M359.5 225.5h0M360 217.5h0M360 208h0M360 210.5h0M360 209.5h0M360.5 215h0M360.5 223.5h0M360.5 209.5h0M361 236h0M361 199h0M361 204h0M361 204.5h0M361.5 214.5h0M361.5 206h0M361.5 199h0M361.5 210h0M362 200.5h0M362 215.5h0M362 211.5h0M362.5 199h0M362.5 209h0M362.5 243h0M363 209.5h0M363 203.5h0M363 205.5h0M363.5 214.5h0M363.5 214h0M363.5 200h0M363.5 202h0M364 209h0M364 216.5h0M364 241h0M364.5 233h0M364.5 224.5h0M364.5 246.5h0M364.5 248h0M365 233.5h0M365 246h0M365.5 250.5h0M365.5 251h0M365.5 249h0M366 226h0M366 210h0M366 252h0M366.5 236.5h0M366.5 235.5h0M366.5 218h0M367 238.5h0M367 216.5h0M367 243.5h0M367 249h0M367.5 254h0M367.5 235.5h0M367.5 255h0M368 255.5h0M368 240.5h0M368 246.5h0M368 256h0M368.5 257h0M368.5 251h0M369 318h0M369 334h0M369.5 324.5h0M369.5 340.5h0M369.5 328.5h0M369.5 307.5h0M370 309.5h0M370 299.5h0M370 306h0M370 303.5h0M370.5 317h0M370.5 334h0M370.5 322.5h0M370.5 329.5h0M371 321.5h0M371 341h0M371 340.5h0M371 336.5h0M371.5 305.5h0M371.5 324.5h0M371.5 352.5h0M371.5 335h0M372 342h0M372 326.5h0M372 352h0M372 356.5h0M372.5 353.5h0M372.5 350h0M372.5 358h0M372.5 360h0M373 360h0M373 354.5h0M373 350h0M373 362h0M373.5 358h0M373.5 345h0M373.5 332h0M373.5 348.5h0M374 336.5h0M374 340.5h0M374 332.5h0M374 339h0M374.5 353h0M374.5 356.5h0M374.5 344.5h0M374.5 348h0M375 352.5h0M375 356h0M375 358.5h0M375.5 358h0M375.5 358.5h0M375.5 360.5h0M376 359.5h0M376 359h0M376 360h0M376.5 360h0M376.5 352.5h0M376.5 359h0M377 359.5h0M377 344.5h0M377 357h0M377 359h0M377.5 347.5h0M377.5 358.5h0M377.5 353.5h0M377.5 354.5h0M378 350.5h0M378 354.5h0M378 342h0M378 343.5h0M378.5 346.5h0M378.5 345.5h0M378.5 349h0M378.5 356h0M379 350.5h0M379 344.5h0M379 356.5h0M379 353h0M379.5 359h0M379.5 351h0M379.5 355.5h0M379.5 356.5h0M380 355.5h0M380 359h0M380 354.5h0M380 354h0M380.5 359h0M380.5 356.5h0M380.5 350h0M381 352h0M381 355h0M381 358.5h0M381 354.5h0M381.5 345.5h0M381.5 356.5h0M381.5 351h0M381.5 351.5h0M382 348h0M382 340.5h0M382 353h0M382 355.5h0M382.5 357.5h0M382.5 353h0M382.5 356h0M383 347h0M383 348h0M383 345.5h0M383 343.5h0M383.5 340h0M383.5 342h0M383.5 341.5h0M383.5 342.5h0M384 339h0M377 317h0M377 313.5h0M377.5 314h0M377.5 327.5h0M377.5 331h0M378 324h0M378 293h0M378 313.5h0M378 331h0M378.5 311h0M378.5 306.5h0M378.5 297.5h0M378.5 292.5h0M379 294h0M379 291h0M379 296h0M379 289h0M379.5 292h0M379.5 303h0M379.5 297.5h0M379.5 311.5h0M380 298.5h0M380 287h0M380 300.5h0M380 310.5h0M380.5 297.5h0M380.5 288h0M380.5 303.5h0M380.5 288.5h0M381 308h0M381 312h0M381 317.5h0M381 299h0M381.5 306.5h0M381.5 325.5h0M381.5 313.5h0M381.5 315.5h0M382 309h0M382 312h0M382 321h0M382 326.5h0M382.5 308.5h0M382.5 325.5h0M382.5 331h0M383 328h0M383 296.5h0M383 329.5h0M383 331h0M383.5 321h0M383.5 322.5h0M383.5 317.5h0M383.5 315h0M384 330.5h0M384 320.5h0M384 318h0M384 315.5h0M384.5 307h0M384.5 323h0M384.5 328h0M384.5 317.5h0M385 319h0M385 332.5h0M385 333.5h0M385 328.5h0M385.5 332.5h0M385.5 334h0M385.5 333.5h0M385.5 329.5h0M386 332.5h0M386 335h0M386 331h0M386 334.5h0M386.5 304h0M386.5 335h0M386.5 333h0M386.5 310.5h0M387 325.5h0M387 320.5h0M387 328h0M387 337h0M387.5 335h0M387.5 336h0M387.5 338.5h0M387.5 334h0M388 339h0M388 319h0M388 329h0M388 339.5h0M388.5 339h0M388.5 329h0M388.5 340.5h0M389 339h0M389 337.5h0M389 340h0M389.5 338.5h0M389.5 340h0M387 348.5h0M387 365h0M387.5 363.5h0M387.5 361h0M387.5 373h0M387.5 367.5h0M388 356h0M388 373h0M388 366.5h0M388 367h0M388.5 372h0M388.5 346h0M388.5 355.5h0M388.5 351.5h0M389 344.5h0M389 372.5h0M389 344h0M389 352.5h0M389.5 370h0M389.5 348.5h0M389.5 355.5h0M389.5 362h0M390 370.5h0M390 348.5h0M390 350h0M390 345h0M390.5 353h0M390.5 358h0M390.5 356h0M390.5 365.5h0M391 361.5h0M391 371h0M391 366h0M391 361h0M391.5 366.5h0M391.5 367h0M391.5 364.5h0M391.5 347h0M392 374.5h0M392 366.5h0M392 373h0M392 371.5h0M392.5 374h0M392.5 371.5h0M392.5 368h0M392.5 365.5h0M393 361.5h0M393 356.5h0M393 350.5h0M393 360h0M393.5 373.5h0M393.5 352h0M393.5 356.5h0M393.5 370h0M394 359.5h0M394 350.5h0M394 367.5h0M394 373.5h0M394.5 373.5h0M394.5 367h0M395 373.5h0M395 359h0M395.5 374h0M395.5 370.5h0M395.5 365.5h0M395.5 372h0M396 374h0M396 362.5h0M396 368.5h0M396.5 374h0M396.5 374.5h0M396.5 371.5h0M397 373h0M397 372.5h0M397 367h0M397.5 372.5h0M397.5 348.5h0M397.5 365.5h0M397.5 365h0M398 353h0M398 359h0M398 358h0M398 361.5h0M398.5 353h0M398.5 370h0M398.5 373.5h0M398.5 356.5h0M399 368.5h0M399 375h0M394.5 325h0M394.5 335.5h0M395 325h0M395 336h0M395 330.5h0M395.5 330.5h0M395.5 328h0M395.5 325h0M396 337h0M396 331h0M396 332h0M396.5 325h0M396.5 328h0M396.5 329h0M397 333h0M397 334.5h0M418.5 344.5h0M418.5 338h0M419 359h0M419 343.5h0M419 343h0M419.5 348h0M419.5 351h0M419.5 355.5h0M420 343h0M420 335h0M420 345.5h0M420.5 358.5h0M420.5 349h0M420.5 350h0M420.5 353h0M421 349h0M421 347h0M421 354h0M421.5 348.5h0M421.5 351h0M421.5 343h0M422 340h0M422 346.5h0M422 342h0M422.5 342h0M422.5 356.5h0M422.5 343.5h0M423 352.5h0M423 353h0M423 347h0M423.5 346.5h0M423.5 351h0M424 349.5h0M424 348.5h0M424 350h0M424 363.5h0M424.5 366.5h0M424.5 371h0M425 356.5h0M425 355h0M425 371.5h0M425.5 370.5h0M425.5 371.5h0M425.5 362.5h0M426 367.5h0M426 364h0M426 360h0M426.5 358h0M426.5 356.5h0M426.5 364h0M427 361h0M427 360h0M427 367h0M427.5 370h0M427.5 369.5h0M427.5 365.5h0M428 370h0M428 367h0M428 371.5h0M428 370.5h0M428.5 374h0M428.5 376.5h0M428.5 372h0M429 372h0M429 372.5h0M429 371.5h0M429.5 375.5h0M429.5 371.5h0M429.5 376h0M430 367h0M430 373h0M396 419.5h0M396 415.5h0M396.5 406.5h0M396.5 428.5h0M396.5 427.5h0M396.5 410h0M397 412.5h0M397 411h0M397 406.5h0M397 409h0M397.5 408h0M397.5 411h0M397.5 410.5h0M397.5 418h0M398 415h0M398 419h0M398 432.5h0M398 432h0M398.5 409.5h0M398.5 435h0M398.5 425.5h0M398.5 430h0M399 433.5h0M399 429.5h0M399 430.5h0M399 434h0M399.5 434h0M399.5 431h0M399.5 426h0M399.5 433.5h0M400 420.5h0M400 412h0M400 414.5h0M400 420h0M400.5 421.5h0M400.5 420h0M400.5 419h0M400.5 420.5h0M401 418h0M401 389.5h0M401 422.5h0M401 401.5h0M401.5 388.5h0M401.5 394h0M401.5 405.5h0M401.5 397h0M402 399.5h0M402 405.5h0M402 410.5h0M402 415.5h0M402.5 411h0M402.5 416.5h0M402.5 426h0M402.5 423.5h0M403 425.5h0M403 418h0M403 424.5h0M403 422h0M403.5 417h0M403.5 420h0M403.5 387h0M403.5 421.5h0M404 422h0M404 421.5h0M404 421h0M404 420h0M404.5 416.5h0M404.5 415h0M404.5 414h0M405 414h0M405 406.5h0M405 413h0M405.5 411h0M405.5 410.5h0M405.5 409.5h0M406 408h0M406 407h0M406.5 402.5h0M406.5 407h0M407 406h0M407 388h0M407 395.5h0M407.5 401h0M407.5 400h0M407.5 392h0M408 395h0M408 401.5h0M408 388.5h0M408 389.5h0M408.5 387h0M408.5 404h0M408.5 388.5h0M409 390.5h0M409 387h0M409 395h0M409.5 388h0M409.5 402.5h0M409.5 389h0M409.5 393.5h0M410 393h0M410 390.5h0M410 400.5h0M410 392.5h0M410.5 404.5h0M410.5 390.5h0M410.5 391h0M410.5 391.5h0M411 391.5h0M411 387h0M411 387.5h0M411.5 388.5h0M411.5 387.5h0M411.5 388h0M411.5 391h0M412 389.5h0M412 388.5h0M412 393.5h0M412 394h0M412.5 387.5h0M412.5 404h0M412.5 390h0M413 400.5h0M413 390h0M413 392.5h0M413 397h0M413.5 393h0M413.5 400.5h0M413.5 397.5h0M413.5 403h0M414 400.5h0M414 401.5h0M414 397h0M414.5 394.5h0M414.5 395h0M414.5 399h0M414.5 401h0M415 389h0M415 398h0M415 397h0M415 399.5h0M415.5 396.5h0M415.5 392h0M415.5 400h0M415.5 399h0M416 400.5h0M416 399.5h0M416.5 400h0M416.5 393h0M416.5 399.5h0M416.5 390.5h0M417 388h0M417 388.5h0M418.5 336.5h0M418.5 334h0M418.5 332.5h0M419 336h0M419 337h0M419 333h0M419 349.5h0M419.5 349h0M419.5 339h0M419.5 330h0M419.5 330.5h0M420 331h0M420 348h0M420 342h0M420.5 344h0M420.5 340.5h0M420.5 346h0M420.5 335.5h0M421 342h0M421 340h0M421 341.5h0M421 342.5h0M421.5 352h0M421.5 360h0M422 363h0M422 368h0M422 367.5h0M422 359.5h0M422.5 364.5h0M422.5 365.5h0M422.5 363.5h0M422.5 369h0M423 366.5h0M423 365.5h0M423 369.5h0M423 366h0M423.5 356h0M423.5 369h0M423.5 367h0M423.5 366h0M424 361.5h0M424 367h0M424 370h0M424 366.5h0M424.5 362h0M424.5 365h0M424.5 352.5h0M425 362h0M425 357.5h0M425 355.5h0M425 353h0M425.5 357.5h0M425.5 358h0M425.5 368.5h0M425.5 358.5h0M426 363.5h0M426 357h0M426 356.5h0M426 356h0M426.5 358.5h0M426.5 361.5h0M426.5 367.5h0M426.5 357.5h0M427 371h0M427 363h0M427 362h0M427 373.5h0M427.5 360h0M427.5 364.5h0M427.5 365h0M427.5 362.5h0M428 363h0M428 369h0M428 360h0M428 366h0M428.5 361.5h0M428.5 365.5h0M428.5 367.5h0M428.5 367h0M429 367.5h0M429 364.5h0M429 369.5h0M429 366.5h0M429.5 366.5h0M429.5 363.5h0M429.5 366h0M430 376h0M430 365h0M430.5 371h0M430.5 372.5h0M430.5 375h0M430.5 378h0M431 381h0M431 369.5h0M431 374.5h0M431 373h0M431.5 372.5h0M431.5 374.5h0M431.5 370h0M431.5 366.5h0M432 371h0M432 366.5h0M432 367.5h0M432 367h0M432.5 367h0M432.5 368.5h0M432.5 367.5h0M433 369.5h0M433 367.5h0M433 369h0M433 373.5h0M433.5 372h0M433.5 371h0M433.5 369.5h0M433.5 382.5h0M434 380.5h0M434 383.5h0M434 370h0M434 387.5h0M434.5 382h0M434.5 387.5h0M434.5 381.5h0M435 387.5h0M435 385h0M435 388h0M435 385.5h0M435.5 372h0M435.5 385h0M435.5 387h0M435.5 384.5h0M436 379h0M436 388h0M436 389.5h0M436.5 381h0M436.5 389.5h0M436.5 388h0M436.5 390h0M437 390h0M437 387.5h0M437 383.5h0M437 382h0M437.5 385h0M437.5 381.5h0M437.5 383.5h0M438 385.5h0M438 388.5h0M438 390.5h0M438 384h0M438.5 376h0M438.5 381.5h0M438.5 386h0M438.5 373h0M439 374h0M439 387.5h0M439 386h0M439.5 385.5h0M439.5 390.5h0M439.5 383h0M440 387.5h0M440 381h0M440 390h0M440 378h0M440.5 375.5h0M440.5 371.5h0M440.5 374.5h0M441 377.5h0M441 375.5h0M441 383h0M441 381h0M441.5 380.5h0M441.5 388h0M441.5 371.5h0M441.5 373.5h0M442 375h0M442 377.5h0M442 374h0M442 370.5h0M442.5 371h0M442.5 370.5h0M442.5 386h0M442.5 372.5h0M443 369h0M443 371.5h0M443.5 374.5h0M443.5 370h0M443.5 369h0M443.5 373.5h0M444 369h0M444 370h0M444 370.5h0M444.5 371.5h0M444.5 369h0M444.5 372h0M444.5 383.5h0M445 371h0M445 369h0M445 372.5h0M445 373h0M445.5 374.5h0M445.5 370h0M445.5 377.5h0M445.5 375h0M446 370h0M446 375h0M446 376h0M446 388h0M446.5 380h0M446.5 387.5h0M446.5 388h0M446.5 373.5h0M447 389.5h0M447 387.5h0M447 381h0M447 373.5h0M447.5 387.5h0M447.5 386.5h0M447.5 387h0M447.5 391h0M448 389.5h0M448 387h0M448 391h0M448.5 392.5h0M448.5 390h0M448.5 393h0M449 386.5h0M449 394.5h0M449 391h0M449 393h0M449.5 393h0M449.5 397.5h0M450 394h0M450 398h0M450 395h0M450 398.5h0M450.5 395.5h0M450.5 399.5h0M450.5 400h0M451 398.5h0M451 397.5h0M451 400.5h0M451 396h0M451.5 397.5h0M451.5 392.5h0M452 391h0M452 390.5h0M452 393.5h0M452 393h0M452.5 394h0M452.5 399h0M452.5 397.5h0M452.5 400h0M453 396.5h0M453 395.5h0M453 401.5h0M453 402h0M453.5 397.5h0M453.5 399h0M453.5 399.5h0M453.5 391.5h0M454 402h0M454 399.5h0M454 398.5h0M454 394.5h0M454.5 400h0M454.5 402.5h0M454.5 398.5h0M454.5 397h0M455 396h0M455 399.5h0M455 394h0M455.5 391h0M455.5 393.5h0M455.5 402.5h0M455.5 391.5h0M456 405.5h0M456 391.5h0M456 395.5h0M456.5 397.5h0M456.5 392.5h0M456.5 392h0M456.5 395.5h0M457 394.5h0M457 394h0M457 403h0M457 393h0M457.5 393.5h0M457.5 392.5h0M457.5 398h0M457.5 394.5h0M458 396.5h0M458 393h0M458 398h0M458.5 394.5h0M458.5 393.5h0M458.5 397h0M459 394h0M459 395.5h0M459 396.5h0M459 400h0M459.5 402.5h0M459.5 396.5h0M459.5 394.5h0M460 397.5h0M460 395.5h0M460 395h0M460 396.5h0M460.5 398h0M460.5 402h0M460.5 409h0M460.5 403.5h0M461 404h0M461 410.5h0M461 408h0M461 408.5h0M461.5 409h0M461.5 407.5h0M461.5 408h0M461.5 425h0M462 408.5h0M462 413.5h0M462 409h0M462 417.5h0M462.5 412h0M462.5 409h0M462.5 411.5h0M463 410.5h0M463 409h0M463 409.5h0M463.5 426.5h0M463.5 409h0M464 412.5h0M464 427h0M464 409h0M464.5 417h0M464.5 409h0M464.5 414h0M465 409h0M465 410h0M465.5 411.5h0M465.5 411h0M465.5 409.5h0M466 411h0M466 409h0M466 410.5h0M466.5 410.5h0M466.5 412.5h0M466.5 411h0M467 414.5h0M467 413.5h0M467 414h0M467 410h0M467.5 417h0M467.5 416.5h0M467.5 415.5h0M467.5 413.5h0M468 415.5h0M468 415h0M468 414.5h0M468 414h0M468.5 411.5h0M468.5 413.5h0M468.5 412h0M469 410h0M469 411h0M469.5 410.5h0M469.5 412h0M470 411.5h0M470 413h0M470 412h0M470.5 412.5h0M470.5 411.5h0M470.5 415h0M470.5 410.5h0M471 410.5h0M471 411h0M471.5 412h0M471.5 412.5h0M471.5 411.5h0M471.5 414h0M472 412h0M472 411.5h0M472 411h0M472.5 415h0M472.5 413.5h0M472.5 415.5h0M473 419.5h0M473 415.5h0M473 421.5h0M473 424.5h0M473.5 417.5h0M473.5 420h0M473.5 422h0M473.5 419h0M474 446.5h0M474 420h0M474 440.5h0M474 423.5h0M474.5 420.5h0M474.5 429.5h0M474.5 428h0M475 423h0M475 421.5h0M475 423.5h0M475 422h0M475.5 428h0M475.5 438h0M475.5 425.5h0M476 424.5h0M476 425h0M476 433h0M476 426.5h0M476.5 427h0M476.5 429h0M476.5 428.5h0M477 430h0M477 432.5h0M477 432h0M477 440h0M477.5 432.5h0M477.5 431.5h0M477.5 431h0M478 431h0M478 433h0M478 432h0M478.5 435h0M478.5 438.5h0M478.5 436.5h0M478.5 439.5h0M479 434.5h0M479 435.5h0M479 436.5h0M479 431.5h0M479.5 435h0M479.5 434.5h0M479.5 436h0M479.5 434h0M480 436h0M480 432.5h0M480 433.5h0M480.5 432h0M480.5 433h0M480.5 435h0M481 432.5h0M481 433.5h0M481.5 433h0M481.5 432.5h0M481.5 434h0M482 433h0M482 436.5h0M482 434h0M482.5 437.5h0M482.5 434h0M482.5 434.5h0M483 442.5h0M483 439h0M483 437.5h0M483 435.5h0M483.5 434.5h0M483.5 435h0M483.5 436.5h0M483.5 439h0M484 441.5h0M484 445h0M484 442.5h0M484 446h0M484.5 441h0M484.5 437.5h0M484.5 442h0M484.5 440h0M485 441h0M485 442h0M485 439h0M485 440.5h0M485.5 443h0M485.5 443.5h0M485.5 439.5h0M485.5 438h0M486 440.5h0M486 437.5h0M486 438h0M486 443h0M486.5 438.5h0M486.5 439.5h0M486.5 443.5h0M486.5 441h0M487 439h0M487 442h0M487 442.5h0M487 443.5h0M487.5 447.5h0M487.5 447h0M487.5 445h0M488 442.5h0M488 443h0M488 447h0M488 445.5h0M488.5 449h0M488.5 440h0M488.5 441.5h0M488.5 443h0M489 444.5h0M489 441.5h0M489 446h0M489 447h0M489.5 448h0M489.5 450.5h0M489.5 449h0M490 446.5h0M490 444h0M490 447h0M490.5 445.5h0M490.5 448.5h0M490.5 443.5h0M490.5 447h0M491 441.5h0M491 442h0M491 451.5h0M491.5 443h0M491.5 449h0M491.5 442h0M491.5 442.5h0M492 444.5h0M492 447.5h0M492 442h0M492 448h0M492.5 446.5h0M492.5 449h0M492.5 452h0M492.5 449.5h0M493 445h0M493 446.5h0M493 444.5h0M493.5 444.5h0M493.5 446h0M493.5 443h0M493.5 446.5h0M494 446h0M494 449h0M494 445.5h0M494 446.5h0M494.5 444.5h0M494.5 445h0M494.5 447h0M494.5 446h0M495 448h0M495 449.5h0M495 450h0M495 447.5h0M495.5 447.5h0M495.5 448h0M495.5 443h0M496 448.5h0M496 449.5h0M496 451.5h0M496 446h0M496.5 448h0M496.5 448.5h0M497 449h0M497 445h0M497 443h0M497 444.5h0M497.5 443h0M497.5 446h0M497.5 444h0M498 444.5h0M498 444h0M498 443.5h0M498 449.5h0M498.5 443.5h0M498.5 444.5h0M498.5 446h0M499 445.5h0M499 444h0M499 446h0M499 449.5h0M499.5 446.5h0M499.5 448h0M499.5 451h0M499.5 448.5h0M500 450.5h0M500 449h0M500 449.5h0M500.5 450.5h0M500.5 450h0M500.5 447h0M500.5 449.5h0M501 449.5h0M501 448.5h0M501 450h0M501 449h0M501.5 449.5h0M501.5 449h0M501.5 445.5h0M501.5 447.5h0M502 441.5h0M502 442h0M501 399h0M501 404h0M501.5 407.5h0M501.5 415.5h0M501.5 399h0M501.5 408h0M502 413h0M502 407.5h0M502 400.5h0M502 406.5h0M502.5 394.5h0M502.5 421h0M502.5 413.5h0M502.5 416h0M503 389.5h0M503 413h0M503 417h0M503 401h0M503.5 386h0M503.5 400.5h0M503.5 408h0M503.5 412.5h0M504 398.5h0M504 390.5h0M504 395.5h0M504.5 386.5h0M504.5 399h0M504.5 392.5h0M504.5 400h0M505 390h0M505 401h0M505 392.5h0M505 400.5h0M505.5 404.5h0M505.5 396.5h0M505.5 416h0M505.5 402.5h0M506 412h0M506 391.5h0M506 399h0M506 400.5h0M506.5 402h0M506.5 398.5h0M506.5 394h0M506.5 397h0M507 395h0M507 400.5h0M507 403h0M507 398.5h0M507.5 399h0M507.5 419.5h0M507.5 411h0M507.5 407h0M508 399.5h0M508 402h0M508 404h0M508 402.5h0M508.5 407.5h0M508.5 411.5h0M508.5 409h0M508.5 408h0M509 410h0M509 405h0M509 406h0M509 406.5h0M509.5 411h0M509.5 411.5h0M509.5 424.5h0M509.5 415h0M510 419h0M510 428h0M510 427.5h0M510 430.5h0M510.5 431.5h0M510.5 422h0M510.5 432.5h0M510.5 434h0M511 434.5h0M511 434h0M511 431.5h0M511.5 435h0M511.5 426h0M511.5 426.5h0M511.5 429.5h0M512 429.5h0M512 436h0M512 412h0M512 432.5h0M512.5 424.5h0M512.5 423.5h0M512.5 435h0M513 413h0M513 416h0M513 424.5h0M513 436h0M513.5 413h0M513.5 419.5h0M513.5 422h0M513.5 416h0M514 415.5h0M514 419.5h0M514 415h0M514 417.5h0M514.5 416h0M514.5 437h0M514.5 421h0M514.5 418.5h0M515 417.5h0M515 426.5h0M515 432.5h0M515 438.5h0M515.5 416h0M515.5 420.5h0M515.5 422.5h0M516 427h0M516 424.5h0M516 425.5h0M516 423.5h0M516.5 426h0M516.5 424h0M516.5 420h0M516.5 429.5h0M517 427h0M517 427.5h0M517 435h0M517 426.5h0M517.5 438h0M517.5 430h0M517.5 432.5h0M517.5 431h0M518 438h0M518 440h0M518 430.5h0M518 425h0M518.5 436.5h0M518.5 427.5h0M518.5 429h0M518.5 425.5h0M519 431.5h0M519 433.5h0M519 435h0M519.5 425.5h0M519.5 431.5h0M519.5 434.5h0M519.5 424h0M520 430.5h0M520 417h0M520 423h0M520 426h0M520.5 428.5h0M520.5 428h0M520.5 439.5h0M520.5 439h0M521 441h0M521 435.5h0M521.5 435.5h0M521.5 440h0M521.5 428.5h0M521.5 434.5h0M522 439h0M522 425.5h0M522 427.5h0M522 422h0M522.5 433h0M522.5 428.5h0M522.5 431.5h0M522.5 436.5h0M523 419h0M523 429h0M523 436h0M523 432.5h0M523.5 434h0M523.5 430.5h0M523.5 432h0M523.5 430h0M524 432.5h0M524 432h0M524 421.5h0M524 419.5h0M524.5 419h0M524.5 424.5h0M524.5 418.5h0M525 428.5h0M525 428h0M525 422.5h0M525 423.5h0M525.5 420.5h0M525.5 430h0M525.5 421.5h0M526 420h0M526 421h0M526 420.5h0M526 419h0M526.5 422.5h0M526.5 421.5h0M526.5 423.5h0M526.5 425.5h0M527 426h0M527 419.5h0M527 425.5h0M527 423h0M527.5 425h0M527.5 422.5h0M527.5 420.5h0M527.5 428h0M528 422h0M528 427.5h0M528 424.5h0M528 419h0M528.5 426.5h0M528.5 424.5h0M529 426h0M529 425h0M529 424h0M529 423.5h0M529.5 423h0M529.5 424h0M529.5 422.5h0M529.5 425.5h0M530 422.5h0M530 420.5h0M530 424h0M530 417h0M530.5 416h0M530.5 414h0M530.5 415.5h0M530.5 421h0M531 422h0M531 419h0M531 416.5h0M531 415h0M531.5 417h0M531.5 413.5h0M531.5 414h0M531.5 419h0M532 415.5h0M532 422h0M532 417.5h0M532 412h0M532.5 413h0M532.5 412h0M532.5 415h0M532.5 417.5h0M533 420h0M533 421.5h0M533 421h0M533 416.5h0M533.5 419.5h0M533.5 415h0M533.5 417.5h0M534 419h0M534 416h0M534 417.5h0M534 417h0M534.5 408.5h0M534.5 415.5h0M534.5 417h0M535 416.5h0M535 413h0M535 412h0M535.5 410.5h0M535.5 406h0M535.5 412h0M535.5 413h0M536 412h0M536 410h0M536 408.5h0M536 406h0M536.5 406.5h0M536.5 402h0M536.5 398h0M536.5 398.5h0M537 401h0M537 406.5h0M537 390h0M537 404.5h0M537.5 406h0M537.5 404.5h0M537.5 390h0M538 385.5h0M538 381h0M538 367.5h0M538 374h0M538.5 367h0M538.5 369.5h0M538.5 357h0M538.5 370h0M539 361.5h0M539 357.5h0M539 364h0M539 368.5h0M539.5 363h0M539.5 355.5h0M539.5 361.5h0M539.5 353.5h0M540 361.5h0M540 354.5h0M540 355h0M540 360h0M540.5 368h0M540.5 369h0M540.5 373.5h0M541 361h0M541 367h0M541 369h0M541 359.5h0M541.5 364.5h0M541.5 378h0M541.5 371h0M541.5 367.5h0M542 367.5h0M542 373.5h0M542 383h0M542 379h0M542.5 375h0M542.5 379.5h0M542.5 372h0M542.5 373.5h0M543 380.5h0M543 373h0M543 371.5h0M543 368.5h0M543.5 374.5h0M543.5 381.5h0M543.5 374h0M543.5 373.5h0M544 372h0M544 373.5h0M544 375h0M544 371.5h0M544.5 372h0M544.5 375h0M544.5 382.5h0M544.5 387.5h0M545 387h0M545 393h0M545 386.5h0M545.5 395h0M545.5 394h0M545.5 391.5h0M545.5 379h0M546 395h0M546 394.5h0M546 392.5h0M546.5 391h0M546.5 385h0M546.5 382h0M547 383h0M547 387.5h0M547 393h0M547.5 386h0M547.5 383h0M547.5 395h0M547.5 393h0M548 394.5h0M548 393h0M548.5 394.5h0M548.5 394h0M548.5 392.5h0M549 394h0M549 391.5h0M549.5 391.5h0M549.5 392h0M549.5 388.5h0M550 390h0M550 384.5h0M550 383h0M550 386.5h0M550.5 391.5h0M550.5 393h0M550.5 390h0M551 390.5h0M551 391.5h0M551 392.5h0M551.5 392h0M551.5 391h0M551.5 392.5h0M552 392.5h0M552 391h0M552 392h0M552.5 389.5h0M552.5 392h0M552.5 389h0M553 391.5h0M553 391h0M553.5 390h0M553.5 388.5h0M553.5 390.5h0M554 391.5h0M554 391h0M554 389.5h0M554 386h0M554.5 388.5h0M554.5 390h0M554.5 389.5h0M554.5 389h0M555 388.5h0M555 390.5h0M555.5 387h0M555.5 390.5h0M555.5 388h0M555.5 387.5h0M556 390h0M556 389.5h0M556 385h0M556.5 382h0M556.5 377h0M556.5 378h0M556.5 375.5h0M557 377h0M557 378.5h0M557 381.5h0M557 379h0M557.5 375.5h0M557.5 385.5h0M557.5 381.5h0M557.5 385h0M558 388.5h0M558 383h0M558 387h0M558 384h0M558.5 384.5h0M558.5 385h0M558.5 386h0M559 388h0M559 386.5h0M559 384h0M559.5 381h0M559.5 386.5h0M559.5 385.5h0M560 387h0M560 386h0M560 384h0M560 382h0M560.5 385h0M560.5 387h0M560.5 384.5h0M561 379h0M561 376h0M561 382h0M561 372h0M561.5 383h0M561.5 371h0M561.5 382.5h0M561.5 381h0M562 381.5h0M562 378h0M562 385h0M562 377.5h0M562.5 376h0M562.5 382.5h0M562.5 379.5h0M562.5 376.5h0M563 383h0M563 382h0M563 380h0M563 381.5h0M563.5 374.5h0M563.5 385.5h0M563.5 381.5h0M563.5 383.5h0M564 385h0M564 382.5h0M564 381h0M564 378h0M564.5 376h0M564.5 374h0M564.5 372.5h0M564.5 380.5h0M565 376.5h0M565 373h0M565 385h0M565 373.5h0M565.5 379h0M565.5 379.5h0M565.5 376.5h0M565.5 375.5h0M566 376h0M566 379h0M566 389h0M566 377.5h0M566.5 378h0M566.5 379.5h0M567 382.5h0M567 385h0M567 387h0M567 389h0M567.5 381.5h0M567.5 383h0M567.5 385.5h0M567.5 386.5h0M568 385.5h0M568 388h0M568 398.5h0M568 389h0M568.5 385.5h0M568.5 385h0M568.5 388h0M569 389h0M569 386.5h0M569 387h0M569.5 394h0M569.5 392h0M569.5 390h0M569.5 392.5h0M570 387.5h0M570 400.5h0M570 388h0M570.5 390h0M570.5 394h0M570.5 391.5h0M570.5 388.5h0M571 392h0M571 393.5h0M571 390h0M571 392.5h0M571.5 397.5h0M571.5 391.5h0M571.5 391h0M571.5 389h0M572 392h0M572 393.5h0M572 391h0M572.5 390.5h0M572.5 396.5h0M572.5 392.5h0M572.5 389.5h0M573 392.5h0M573 391.5h0M573 406h0M573.5 390h0M573.5 390.5h0M573.5 391h0M574 395h0M574 392h0M574 395.5h0M574 394.5h0M574.5 394h0M574.5 398h0M574.5 398.5h0M574.5 399.5h0M575 400.5h0M575 399h0M575 396.5h0M575 397.5h0M575.5 402h0M575.5 398.5h0M575.5 396h0M575.5 406h0M576 393.5h0M576 393h0M576 394.5h0M576.5 395.5h0M576.5 399h0M576.5 403.5h0M576.5 396h0M577 394.5h0M577 402.5h0M577 405h0M577.5 404.5h0M577.5 407h0M577.5 403h0M577.5 406h0M578 401h0M578 399h0M578 400.5h0M578 396h0M578.5 398.5h0M578.5 402.5h0M578.5 401.5h0M578.5 401h0M579 403h0M579 402.5h0M579 407h0M579.5 406h0M579.5 404h0M579.5 400.5h0M579.5 406.5h0M580 396.5h0M580 399.5h0M580 397h0M580 400h0M580.5 400.5h0M580.5 401h0M580.5 404h0M581 402.5h0M581 403h0M581 401h0M581 406h0M581.5 404.5h0M581.5 401.5h0M581.5 403.5h0M581.5 398h0M582 403h0M582 407.5h0M582 398.5h0M582 397h0M582.5 398h0M582.5 402.5h0M582.5 403h0M583 407h0M583 404h0M583 403.5h0M583 398.5h0M583.5 401.5h0M583.5 400h0M583.5 406h0M583.5 404.5h0M584 397.5h0M584 400.5h0M584 399.5h0M584.5 399h0M584.5 403h0M584.5 401.5h0M584.5 405h0M585 404.5h0M585 402h0M585 398h0M585 400h0M585.5 399.5h0M585.5 401.5h0M585.5 400.5h0M585.5 398h0M586 400h0M586 398h0M586 401.5h0M586 400.5h0M586.5 399h0M586.5 398h0M586.5 400h0M587 404h0M587 405h0M587 407h0M587.5 403h0M587.5 404h0M587.5 407h0M587.5 405h0M588 401.5h0M588 405h0M588 408h0M588 409h0M588.5 407.5h0M588.5 409h0M589 409h0M589 399h0M589.5 408h0M589.5 409h0M589.5 406h0M590 408.5h0M590 407.5h0M590.5 405h0M590.5 406.5h0M590.5 406h0M591 406.5h0M591 405h0M591 404.5h0M591.5 407.5h0M591.5 405h0M591.5 407h0M591.5 408h0M592 407.5h0M592 408h0M592 406h0M592.5 402h0M592.5 408.5h0M592.5 399.5h0M593 405.5h0M593 406h0M593 407.5h0M593.5 407h0M593.5 404h0M593.5 403h0M593.5 401.5h0M594 402h0M594 398.5h0M594 399h0M594 398h0M594.5 398h0M594.5 399h0M594.5 399.5h0M595 400h0M595 397h0M595 398.5h0M595 399.5h0M595.5 401h0M595.5 400h0M595.5 398.5h0M596 405.5h0M596 402.5h0M596 404.5h0M596.5 405h0M596.5 403h0M596.5 405.5h0M597 404.5h0M597 405h0M597 403h0M597 402h0M597.5 404h0M597.5 403.5h0M598 403.5h0M598 402h0M598 401.5h0M598.5 402.5h0M598.5 400h0M598.5 402h0M598.5 400.5h0M599 399.5h0M599 399h0M599 401h0M599 400.5h0M599.5 398.5h0M599.5 396h0M599.5 394h0M599.5 391.5h0M600 393h0M600 392.5h0M600 394.5h0M600 396.5h0M600.5 396.5h0M600.5 394.5h0M600.5 392.5h0M601 397h0M601 398.5h0M601 396.5h0M601 398h0M601.5 398h0M601.5 396.5h0M601.5 395h0M601.5 395.5h0M602 390h0M602 391h0M602 396h0M602 390.5h0M602.5 388h0M602.5 390h0M602.5 387.5h0M602.5 387h0M603 389h0M603 387h0M603 389.5h0M603.5 391.5h0M603.5 390h0M603.5 390.5h0M603.5 388.5h0M604 390.5h0M604 385.5h0M604 386.5h0M604.5 388.5h0M604.5 385h0M605 386.5h0M605 385.5h0M605 387h0M605.5 383.5h0M605.5 385.5h0M605.5 384h0M606 391h0M606 384.5h0M606 387h0M606 388.5h0M606.5 383h0M606.5 387h0M606.5 385h0M606.5 386h0M607 386h0M607 383h0M607 381.5h0M607 382h0M607.5 381.5h0M607.5 384h0M607.5 383.5h0M608 383.5h0M608 387h0M608 390h0M608 385.5h0M608.5 389h0M608.5 382.5h0M608.5 380h0M608.5 383.5h0M609 381h0M609 380h0M609 384.5h0M609 383.5h0M609.5 383.5h0M609.5 381h0M609.5 381.5h0M609.5 385h0M610 383.5h0M610 381.5h0M610 385h0M610.5 381h0M610.5 378.5h0M610.5 386.5h0M610.5 380h0M611 383.5h0M611 378h0M611 380.5h0M611.5 386.5h0M611.5 384.5h0M611.5 380h0M611.5 374.5h0M612 360.5h0M612 347.5h0M612 337.5h0M612 321h0M612.5 344.5h0M612.5 324h0M612.5 345.5h0M612.5 343.5h0M613 337.5h0M613 331h0M613 353h0M613 353.5h0M613.5 351h0M613.5 355h0M613.5 343h0M613.5 352h0M614 355.5h0M614 336h0M614 350h0M614 350.5h0M614.5 350h0M614.5 340h0M614.5 337h0M615 338h0M615 328.5h0M615 319h0M615 332.5h0M615.5 317.5h0M615.5 339h0M615.5 331h0M615.5 349.5h0M616 346.5h0M616 346h0M616 341.5h0M616 339.5h0M616.5 336.5h0M616.5 340h0M616.5 330h0M616.5 322h0M617 360h0M617 338.5h0M617 352.5h0M617 353.5h0M617.5 344h0M617.5 342h0M617.5 356h0M617.5 360h0M618 358.5h0M618 362h0M618 351h0M618 357.5h0M618.5 359.5h0M618.5 351.5h0M618.5 356h0M618.5 357.5h0M619 346.5h0M619 358h0M619 353.5h0M619.5 360.5h0M619.5 356.5h0M619.5 364.5h0M620 356.5h0M620 344h0M620 342.5h0M620 357h0M620.5 334.5h0M620.5 337.5h0M620.5 342h0M620.5 335.5h0M621 352h0M621 366h0M621 337h0M621 341h0M621.5 357.5h0M621.5 357h0M621.5 346.5h0M622 355h0M622 343.5h0M622 352h0M622 346.5h0M622.5 351h0M622.5 359.5h0M622.5 351.5h0M622.5 355.5h0M623 359h0M623 346h0M623 343h0M623 341.5h0M623.5 347.5h0M623.5 346h0M623.5 357h0M623.5 354h0M624 358h0M624 352.5h0M624 351h0M624 355h0M624.5 352h0M624.5 365h0M624.5 347h0M624.5 372.5h0M625 365.5h0M625 368.5h0M625 372.5h0M625 373h0M625.5 365.5h0M625.5 355h0M625.5 373h0M625.5 377h0M626 373.5h0M626 376.5h0M626 376h0M626 368.5h0M626.5 379.5h0M626.5 386h0M626.5 397.5h0M626.5 385h0M627 388.5h0M627 383.5h0M627 373.5h0M627 382h0M627.5 381.5h0M627.5 394.5h0M627.5 387.5h0M627.5 390h0M628 387h0M628 388.5h0M628 386.5h0M628 388h0M628.5 389.5h0M628.5 389h0M628.5 390.5h0M628.5 391h0M629 414.5h0M629 411h0M629 419h0M629 406.5h0M629.5 411.5h0M629.5 420.5h0M629.5 402.5h0M629.5 404h0M630 405.5h0M630 407h0M630 394.5h0M630 393h0M630.5 392h0M630.5 395h0M630.5 410h0M630.5 410.5h0M631 397.5h0M631 399.5h0M631 394.5h0M631 408h0M631.5 407.5h0M631.5 405h0M631.5 398.5h0M631.5 412.5h0M632 415h0M632 420.5h0M632 421h0M632 422.5h0M632.5 421h0M632.5 422.5h0M632.5 421.5h0M632.5 423.5h0M633 423.5h0M633 422h0M633.5 424h0M633.5 419.5h0M633.5 406h0M634 423h0M634 424h0M634 423.5h0M634 414.5h0M634.5 416.5h0M634.5 411h0M634.5 419.5h0M634.5 420h0M635 424.5h0M635 418.5h0M635 419h0M635 416h0M635.5 424.5h0M635.5 415.5h0M635.5 423.5h0M636 425h0M636 423.5h0M636.5 425h0M636.5 421.5h0M636.5 418.5h0M636.5 400.5h0M637 425h0M637 422.5h0M637 418.5h0M637 421.5h0M637.5 420.5h0M637.5 413h0M637.5 418.5h0M638 403h0M638 413.5h0M638 413h0M638.5 412h0M638.5 414.5h0M638.5 408h0M638.5 405.5h0M639 407h0M639 412.5h0M639 412h0M639 409h0M639.5 403.5h0M639.5 406h0M639.5 407.5h0M639.5 404h0M640 409h0M640 407h0M640 404.5h0M640 406.5h0M640.5 407h0M640.5 409.5h0M640.5 404h0M641 411h0M641 407h0M641 408h0M641 409.5h0M641.5 410.5h0M641.5 408h0M641.5 409.5h0M642 413.5h0M642 413h0M642 417h0M642 414h0M642.5 405h0M642.5 416.5h0M642.5 413h0M642.5 405.5h0M643 422.5h0M643 414h0M643 417.5h0M643 420.5h0M643.5 421.5h0M643.5 416.5h0M643.5 414.5h0M644 418h0M644 415.5h0M644 416h0M644.5 419h0M644.5 415h0M644.5 411.5h0M644.5 418h0M645 414.5h0M645 415.5h0M645 416h0M645 404.5h0M645.5 415.5h0M645.5 408h0M645.5 414h0M645.5 412.5h0M646 411h0M646 408h0M646 414.5h0M646 413h0M646.5 412.5h0M646.5 415h0M646.5 410h0M646.5 407.5h0M647 407h0M647 406.5h0M647 407.5h0M647 402h0M647.5 406.5h0M647.5 401.5h0M647.5 409h0M647.5 412h0M648 408h0M648 401h0M648 407h0M648.5 408.5h0M648.5 408h0M648.5 404.5h0M648.5 405h0M649 406.5h0M649 402h0M649 408h0M649 403.5h0M649.5 401.5h0M649.5 399h0M649.5 399.5h0M650 397h0M650 393.5h0M650 405h0M650 401h0M650.5 405.5h0M650.5 405h0M650.5 391.5h0M650.5 403h0M651 400.5h0M651 397.5h0M651 399.5h0M651 397h0M651.5 395.5h0M651.5 394.5h0M651.5 401h0M651.5 402h0M652 401.5h0M652 395h0M652 400h0M652.5 395.5h0M652.5 399.5h0M652.5 398h0M652.5 394h0M653 390.5h0M653 392h0M653 388h0M653.5 389h0M653.5 393.5h0M653.5 384h0M653.5 388.5h0M654 380.5h0M654 382h0M654 380h0M654 381h0M654.5 379.5h0M654.5 382h0M654.5 388.5h0M655 380.5h0M655 379h0M655 380h0M655 383h0M655.5 385.5h0M655.5 388h0M655.5 389h0M656 387.5h0M656 389h0M656 386.5h0M656.5 385.5h0M656.5 380h0M656.5 379h0M657 378.5h0M657 381.5h0M657 382.5h0M657.5 386h0M657.5 378h0M657.5 382.5h0M657.5 383.5h0M658 388h0M658 385h0M658 384h0M658 384.5h0M658.5 385.5h0M658.5 385h0M658.5 383h0M658.5 380.5h0M659 382.5h0M659 384.5h0M659 383.5h0M659 379h0M659.5 382h0M659.5 380.5h0M659.5 377h0M660 378h0M660 382.5h0M660 381.5h0M660.5 383.5h0M660.5 387h0M660.5 378.5h0M661 380h0M661 384.5h0M661 385h0M661 381.5h0M661.5 383h0M661.5 381h0M661.5 379.5h0M661.5 378h0M662 381.5h0M662 380.5h0M662 372h0M662 376.5h0M662.5 375.5h0M662.5 377h0M662.5 378h0M662.5 381.5h0M663 380h0M663 379.5h0M663 381h0M663 378.5h0M663.5 382h0M663.5 379h0M663.5 377.5h0M663.5 378h0M664 378h0M664 365h0M664 364h0M664 370.5h0M664.5 373.5h0M664.5 374.5h0M664.5 369.5h0M664.5 367h0M665 376.5h0M665 374h0M665 371h0M665 374.5h0M665.5 373h0M665.5 377.5h0M665.5 374.5h0M666 371.5h0M666 378h0M666 371h0M666 376h0M666.5 378.5h0M666.5 373.5h0M666.5 372h0M666.5 374h0M667 372.5h0M667 384.5h0M667 374h0M667 375h0M667.5 376.5h0M667.5 378.5h0M667.5 374h0M668 387h0M668 383.5h0M668 378.5h0M668 378h0M668.5 377h0M668.5 387.5h0M668.5 380.5h0M669 379h0M669 379.5h0M669 378.5h0M669.5 383.5h0M669.5 382.5h0M669.5 379h0M669.5 378h0M670 379h0M670 378.5h0M670 382h0M670.5 379.5h0M670.5 382h0M670.5 388h0M670.5 384.5h0M671 380.5h0M671 382.5h0M671 382h0M671 392h0M671.5 382h0M671.5 381.5h0M671.5 383h0M672 386.5h0M672 383.5h0M672 386h0M672 389.5h0M672.5 387h0M672.5 385h0M672.5 383.5h0M673 384h0M673 386.5h0M673 388h0M673.5 389.5h0M673.5 391.5h0M673.5 390.5h0M673.5 391h0M674 390h0M674 393h0M674.5 395h0M674.5 392.5h0M674.5 393h0M675 394h0M675 396h0M675 389h0M675 394.5h0M675.5 396.5h0M675.5 395.5h0M676 394.5h0M676 396.5h0M676 390h0M676 397h0M676.5 396.5h0M676.5 397h0M676.5 388h0M677 395h0M677 395.5h0M677 396.5h0M677.5 396.5h0M677.5 392.5h0M677.5 396h0M678 394h0M678 397h0M678 395h0M678.5 396h0M678.5 395.5h0M678.5 397h0M678.5 394.5h0M679 392.5h0M679 397h0M679 395h0M679.5 397h0M679.5 396.5h0M679.5 388.5h0M680 397h0M680 395h0M680 396h0M680 393h0M680.5 395h0M680.5 394h0M680.5 391.5h0M680.5 393.5h0M681 384.5h0M681 391h0M681 390h0M681 387h0M681.5 385h0M681.5 389h0M681.5 390h0M681.5 388.5h0M682 381.5h0M682 383h0M682 378.5h0M682 373h0M682.5 360.5h0M682.5 367.5h0M682.5 376h0M682.5 366h0M683 366h0M683 372h0M683 379h0M683 375.5h0M683.5 375h0M683.5 378.5h0M683.5 380.5h0M683.5 377.5h0M684 378h0M684 374h0M684 363.5h0M684 365h0M684.5 363.5h0M684.5 362h0M684.5 370h0M684.5 375h0M685 379h0M685 370h0M685 373h0M685 369.5h0M685.5 370.5h0M685.5 370h0M685.5 374.5h0M685.5 374h0M686 373h0M686 381.5h0M686 374.5h0M686.5 380h0M686.5 376h0M686.5 377.5h0M686.5 379.5h0M687 381.5h0M687 379.5h0M687 374.5h0M687 373h0M687.5 383h0M687.5 376.5h0M687.5 383.5h0M687.5 378h0M688 378h0M688 384h0M688 374.5h0M688 379.5h0M688.5 380.5h0M688.5 372h0M688.5 378.5h0M689 375h0M689 373h0M689 371h0M689 371.5h0M689.5 371.5h0M689.5 370h0M689.5 371h0M690 373h0M690 380h0M690 381h0M690.5 384.5h0M690.5 385h0M690.5 377h0M691 371.5h0M691 382.5h0M691 380h0M691 381.5h0M691.5 382.5h0M691.5 380.5h0M691.5 379.5h0M691.5 385h0M692 378h0M692 371h0M692 374h0M692 375.5h0M692.5 384.5h0M692.5 375.5h0M692.5 373h0M692.5 374.5h0M693 371.5h0M693 372h0M693 374.5h0M693.5 372.5h0M693.5 376.5h0M693.5 372h0M694 378h0M694 375.5h0M694 378.5h0M694.5 377.5h0M694.5 376.5h0M694.5 379.5h0M694.5 376h0M695 381.5h0M695 383h0M695 382h0M695 376.5h0M695.5 379h0M695.5 383.5h0M695.5 376h0M695.5 379.5h0M696 378.5h0M696 384h0M696 383.5h0M696.5 382.5h0M696.5 383.5h0M696.5 383h0M697 384.5h0M697 384h0M697 381h0M697 385h0M697.5 385h0M697.5 379.5h0M697.5 377.5h0M698 376h0M698 379.5h0M698 381.5h0M698 382h0M698.5 377.5h0M698.5 380h0M698.5 375.5h0M699 376h0M699 379h0M699 380.5h0M699.5 385h0M699.5 382h0M699.5 384.5h0M699.5 386h0M700 386h0M700 385h0M700 384.5h0M700.5 381.5h0M700.5 387h0M700.5 385.5h0M700.5 384.5h0M701 382.5h0M701 384.5h0M701 385h0M701 386.5h0M701.5 384.5h0M701.5 382.5h0M701.5 383h0M701.5 386.5h0M702 384h0M702 382.5h0M702.5 381h0M702.5 385.5h0M702.5 387h0M703 386h0M703 384.5h0M703 388h0M703.5 385.5h0M703.5 390.5h0M703.5 391h0M704 390.5h0M704 385.5h0M704 389.5h0M704 389h0M704.5 391.5h0M704.5 389h0M705 390.5h0M705 391.5h0M705 391h0M705.5 387h0M705.5 385.5h0M705.5 384h0M706 383.5h0M706 385.5h0M706.5 384h0M706.5 385h0M706.5 383.5h0M707 390.5h0M707 385.5h0M707 386h0M707 384h0M707.5 384h0M707.5 384.5h0M708 387h0M708 388.5h0M708 386h0M708 388h0M708.5 390.5h0M708.5 387.5h0M708.5 391h0M709 392h0M709 389h0M709 384.5h0M709 388h0M709.5 384.5h0M709.5 387h0M709.5 386h0M710 390h0M710 392.5h0M710 391h0M710 393.5h0M710.5 392h0M710.5 391.5h0M710.5 393.5h0M711 392.5h0M711 392h0M711 391h0M711 390.5h0M711.5 390h0M711.5 387.5h0M711.5 391h0M711.5 388.5h0M712 386.5h0M712 387h0M712 389.5h0M712 388h0M712.5 386.5h0M712.5 388h0M712.5 386h0M713 391h0M713 389h0M713 391.5h0M713 387h0M713.5 386.5h0M713.5 387h0M713.5 392h0M713.5 392.5h0M714 391.5h0M714 394h0M714.5 393.5h0M714.5 392.5h0M714.5 391h0M714.5 389.5h0M715 396.5h0M715 391.5h0M715 402.5h0M715 405h0M715.5 402.5h0M715.5 404h0M715.5 404.5h0M715.5 398h0M716 404.5h0M716 396.5h0M716 407h0M716 402.5h0M716.5 410.5h0M716.5 408.5h0M716.5 408h0M716.5 412h0M717 396.5h0M717 398h0M717 399.5h0M717 403h0M717.5 411.5h0M717.5 409.5h0M717.5 419h0M717.5 413h0M718 401h0M718 411h0M718 420.5h0M718 412.5h0M718.5 403.5h0M718.5 409.5h0M718.5 420h0M718.5 416h0M719 416.5h0M719 420.5h0M719 417h0M719 411h0M719.5 413.5h0M719.5 409h0M719.5 414h0M720 414h0M720 409.5h0M720 405.5h0M720 407h0M720.5 416.5h0M720.5 403h0M720.5 404h0M720.5 403.5h0M721 404.5h0M721 403h0M721 406.5h0M721 402h0M721.5 402.5h0M721.5 406h0M721.5 407h0M721.5 408.5h0M722 405.5h0M722 415h0M722 408h0M722.5 408.5h0M722.5 409.5h0M722.5 417.5h0M722.5 406h0M723 409.5h0M723 414.5h0M723 421h0M723 417.5h0M723.5 417h0M723.5 410.5h0M723.5 412.5h0M723.5 412h0M724 419.5h0M724 406.5h0M724 421h0M724 420h0M724.5 409.5h0M724.5 421h0M725 418.5h0M725 419h0M725 411.5h0M725 409.5h0M725.5 421h0M725.5 419h0M725.5 419.5h0M726 420h0M726 419h0M726 421h0M726.5 419.5h0M726.5 420h0M726.5 421h0M726.5 420.5h0M727 418h0M727 417.5h0M727 412h0M727 410.5h0M727.5 414h0M727.5 414.5h0M727.5 412h0M728 410h0M728 414.5h0M728 411h0M728 416h0M728.5 410.5h0M728.5 411.5h0M728.5 412h0M728.5 416h0M729 417.5h0M729 414.5h0M729 415.5h0M729 415h0M729.5 412h0M729.5 420h0M729.5 419h0M729.5 418.5h0M730 413.5h0M730 418h0M730 416.5h0M730.5 409.5h0M730.5 415h0M730.5 422h0M730.5 420h0M731 418h0M731 418.5h0M731 416.5h0M731 419h0M731.5 419h0M731.5 421.5h0M732 419h0M732 424h0M732 419.5h0M732 420h0M732.5 421.5h0M732.5 416.5h0M732.5 418h0M732.5 417.5h0M733 419h0M733 417.5h0M733 416h0M733.5 418h0M733.5 416h0M733.5 420.5h0M733.5 417.5h0M734 413.5h0M734 421h0M734 419.5h0M734.5 419h0M734.5 422h0M734.5 418.5h0M734.5 421h0M735 420h0M735 411.5h0M735 423.5h0M735 414.5h0M735.5 420.5h0M735.5 416h0M735.5 420h0M736 419h0M736 417h0M736 421h0M736.5 423h0M736.5 424h0M736.5 420.5h0M736.5 417h0M737 416h0M737 426h0M737 421h0M737 422.5h0M737.5 422h0M737.5 421.5h0M737.5 419.5h0M737.5 415h0M738 414h0M738 419h0M738 412.5h0M738 419.5h0M738.5 417h0M738.5 417.5h0M738.5 424.5h0M738.5 420.5h0M739 425h0M739 421h0M739 412.5h0M739 416h0M739.5 412.5h0M739.5 419h0M739.5 415.5h0M740 412.5h0M740 416h0M740.5 413.5h0M740.5 414.5h0M741 413.5h0M741 414h0M741 412h0M741.5 414.5h0M741.5 412h0M741.5 417h0M742 426h0M742 420.5h0M742 425h0M742 424h0M742.5 423h0M742.5 424h0M743 414h0M743 426h0M743 425.5h0M743 414.5h0M743.5 425.5h0M743.5 423h0M743.5 424h0M744 424.5h0M744 425.5h0M744 412.5h0M744.5 424.5h0M744.5 421.5h0M744.5 423.5h0M745 423.5h0M745 421h0M745 421.5h0M745.5 422.5h0M745.5 411h0M745.5 420.5h0M745.5 415h0M746 421.5h0M746 420h0M746 421h0M746.5 418h0M746.5 420.5h0M746.5 420h0M747 418.5h0M747 416h0M747 417h0M747.5 418.5h0M747.5 418h0M747.5 417.5h0M747.5 416h0M748 412.5h0M748 417h0M748 406.5h0M748 410.5h0M748.5 410h0M748.5 409.5h0M748.5 408h0M749 404.5h0M749 407.5h0M749 405h0M749 408.5h0M749.5 406.5h0M749.5 409h0M749.5 411.5h0M749.5 408h0M750 413h0M750 413.5h0M750 411h0M750.5 411h0M750.5 407h0M750.5 410h0M751 406h0M751 404.5h0M751 408.5h0M751 405.5h0M751.5 408.5h0M751.5 410h0M751.5 406.5h0M751.5 404.5h0M752 406.5h0M752 402.5h0M752 397h0M752 401h0M752.5 399.5h0M752.5 397h0M752.5 398.5h0M752.5 400h0M753 405.5h0M753 406h0M753 407h0M753 403.5h0M753.5 407h0M753.5 403h0M753.5 404h0M753.5 402h0M754 402h0M754 403.5h0M754 401h0M754 398.5h0M754.5 398h0M754.5 396h0M754.5 394.5h0M754.5 396.5h0M755 401h0M755 399h0M755 408h0M755.5 417h0M755.5 406.5h0M755.5 404h0M755.5 405.5h0M756 408h0M756 416.5h0M756 412h0M756.5 415.5h0M756.5 426.5h0M756.5 414h0M756.5 430h0M757 415.5h0M757 422h0M757 416.5h0M757 403.5h0M757.5 394h0M757.5 416.5h0M757.5 406.5h0M757.5 412.5h0M758 394.5h0M758 400.5h0M758 426.5h0M758 395h0M758.5 435.5h0M758.5 407h0M758.5 397.5h0M758.5 403.5h0M759 411.5h0M759 425h0M759 405.5h0M759 404h0M759.5 425h0M759.5 397h0M759.5 405.5h0M759.5 397.5h0M760 404h0M760 398h0M760 411h0M760 405.5h0M760.5 417.5h0M760.5 406.5h0M760.5 411h0M760.5 429h0M761 414h0M761 429.5h0M761 419h0M761 425.5h0M761.5 426.5h0M761.5 411h0M761.5 405.5h0M761.5 421.5h0M762 419.5h0M762 406.5h0M762 417.5h0M762 418.5h0M762.5 410.5h0M762.5 403.5h0M762.5 409h0M762.5 414.5h0M763 409.5h0M763 410.5h0M763 421h0M763.5 409.5h0M763.5 410.5h0M763.5 419h0M763.5 417h0M764 418.5h0M764 421h0M764 419.5h0M764 417.5h0M764.5 411.5h0M764.5 405.5h0M764.5 415h0M764.5 410h0M765 415h0M765 407.5h0M765 414.5h0M765 419.5h0M765.5 419.5h0M765.5 412.5h0M765.5 420.5h0M765.5 419h0M766 413.5h0M766 417h0M766 403h0M766 418.5h0M766.5 421h0M766.5 420h0M766.5 410.5h0M766.5 415.5h0M767 420.5h0M767 411.5h0M767 408.5h0M767 413.5h0M767.5 416h0M767.5 421h0M767.5 418h0M767.5 411.5h0M768 421h0M768 410.5h0M768 406.5h0M768 412.5h0M768.5 410.5h0M768.5 406h0M768.5 408.5h0M768.5 406.5h0M769 409.5h0M769 406h0M769 404.5h0M769 411h0M769.5 410h0M769.5 413h0M769.5 413.5h0M770 412.5h0M770 411h0M770 413.5h0M770 412h0M770.5 418h0M770.5 417.5h0M770.5 419h0M771 416h0M771 415.5h0M771 418h0M771 417h0M771.5 411.5h0M771.5 405.5h0M771.5 417h0M771.5 414.5h0M772 415h0M772 417.5h0M772 416h0M772.5 415.5h0M772.5 417.5h0M772.5 410.5h0M772.5 411.5h0M773 414h0M773 403.5h0M773 414.5h0M773 410.5h0M773.5 416.5h0M773.5 411.5h0M773.5 409h0M773.5 414h0M774 415h0M774 412.5h0M774 407h0M774.5 408h0M774.5 403h0M774.5 398.5h0M774.5 412.5h0M775 389.5h0M775 392.5h0M775 394h0M775.5 403.5h0M775.5 399.5h0M775.5 402h0M775.5 400.5h0M776 399h0M776 402.5h0M776 405h0M776 403h0M776.5 400h0M776.5 404.5h0M776.5 405.5h0M776.5 409h0M777 406h0M777 396.5h0M777 394h0M777 408.5h0M777.5 406h0M777.5 404h0M778 396h0M778 398h0M778 386.5h0M778 399h0M778.5 389h0M778.5 387h0M778.5 383h0M779 383.5h0M779 388h0M779 389h0M779 401.5h0M779.5 400h0M779.5 402h0M779.5 395.5h0M779.5 393h0M780 401.5h0M780 406.5h0M780 407h0M780 402.5h0M780.5 403h0M780.5 402.5h0M780.5 397h0M781 392.5h0M781 396h0M781 407h0M781 398.5h0M781.5 394h0M781.5 396h0M781.5 390h0M781.5 399h0M782 393.5h0M782 387.5h0M782 403.5h0M782 400h0M782.5 407h0M782.5 388h0M782.5 399.5h0M783 407h0M783 404h0M783 405.5h0M783.5 406h0M783.5 391.5h0M783.5 395.5h0M783.5 398h0M784 401h0M784 398h0M784 398.5h0M784 400.5h0M784.5 407h0M784.5 392h0M784.5 403.5h0M784.5 393.5h0M785 402.5h0M785 400.5h0M785 403.5h0M785 397.5h0M785.5 388h0M785.5 404.5h0M785.5 400.5h0M785.5 393.5h0M786 399.5h0M786 388.5h0M786 387.5h0M786 390h0M786.5 399h0M786.5 396.5h0M786.5 394h0M786.5 392h0M787 382h0M787 382.5h0M787 389h0M787 386h0M787.5 380.5h0M787.5 382h0M787.5 380h0M787.5 379.5h0M788 380.5h0M788 381.5h0M788 377h0M788 383h0M788.5 373.5h0M788.5 376.5h0M788.5 391h0M788.5 394h0M789 376.5h0M789 370.5h0M789 361h0M789 370h0M789.5 357h0M789.5 360.5h0M789.5 356.5h0M789.5 355h0M790 366.5h0M790 360.5h0M790 368.5h0M790 356.5h0M790.5 363.5h0M790.5 360.5h0M790.5 385.5h0M790.5 366h0M791 357h0M791 358h0M791 359.5h0M791 356.5h0M791.5 355h0M791.5 360h0M791.5 376h0M792 355h0M792 358h0M792 363h0M792.5 356h0M792.5 358h0M792.5 355h0M792.5 360h0M793 359.5h0M793 355.5h0M793 364h0M793 355h0M793.5 356h0M793.5 359.5h0M793.5 355.5h0M794 358h0M794 364h0M794 355.5h0M794 359h0M794.5 359h0M794.5 360.5h0M794.5 357.5h0M794.5 356h0M795 357h0M795 357.5h0M795 367h0M795 356h0M795.5 361h0M795.5 357h0M795.5 361.5h0M796 356.5h0M796 359h0M796 358.5h0M796.5 357.5h0M796.5 356.5h0M797 382h0M797 356.5h0M797 362.5h0M797 363h0M797.5 361h0M797.5 362h0M797.5 356.5h0M797.5 357h0M798 360.5h0M798 376h0M798 374.5h0M798 384.5h0M798.5 386.5h0M798.5 381h0M798.5 383h0M799 386.5h0M799 383h0M799 376.5h0M799.5 378.5h0M799.5 370h0M799.5 372h0M799.5 380.5h0M800 358h0M800 372h0M800 363.5h0M800 367h0M800.5 380.5h0M800.5 375.5h0M800.5 385h0M800.5 377h0M801 376h0M801 369h0M801 381h0M801 378h0M801.5 379h0M801.5 375.5h0M801.5 383.5h0M801.5 373h0M802 367.5h0M802 354.5h0M802 374.5h0M802 371.5h0M802.5 371h0M802.5 363h0M803 369h0M803 358h0M803 354h0M803 357h0M803.5 359.5h0M803.5 356h0M801.5 304.5h0M801.5 303.5h0M802 280.5h0M802 297.5h0M802 304h0M802 299h0M802.5 304.5h0M802.5 300.5h0M802.5 307h0M802.5 303.5h0M803 304h0M803 307.5h0M803 300.5h0M803 292.5h0M803.5 308h0M803.5 289.5h0M803.5 308.5h0M803.5 301h0M804 306h0M804 309h0M804 301h0M804 304h0M804.5 309h0M804.5 305h0M804.5 279h0M805 303.5h0M805 296h0M805 290.5h0M805 294.5h0M805.5 283h0M805.5 297h0M805.5 281.5h0M805.5 287h0M806 304.5h0M806 299h0M806 309h0M806 278.5h0M806.5 303h0M806.5 291h0M806.5 295h0M806.5 287h0M807 306h0M807 274h0M807 271h0M807 282.5h0M807.5 287h0M807.5 281h0M807.5 290h0M807.5 291h0M808 287.5h0M808 277.5h0M808 296h0M808.5 306h0M808.5 296.5h0M808.5 281.5h0M808.5 289h0M809 284.5h0M809 302.5h0M809 277.5h0M809 283.5h0M809.5 270.5h0M809.5 267h0M809.5 266.5h0M809.5 275h0M810 286h0M810 284.5h0M810 283h0M810 285h0M810.5 277.5h0M810.5 288h0M810.5 299.5h0M810.5 291.5h0M811 285h0M811 280h0M811 300h0M811 293h0M811.5 305h0M811.5 284.5h0M813.5 290h0M813.5 279.5h0M814 278.5h0M814 286.5h0M814 282h0M814 275h0M814.5 278h0M814.5 273h0M814.5 269h0M814.5 288.5h0M815 280.5h0M815 279.5h0M815 277h0M815 264.5h0M815.5 263.5h0M815.5 304h0M815.5 266h0M816 263.5h0M816 284.5h0M816 276h0M816 280.5h0M816.5 274.5h0M816.5 291.5h0M816.5 287h0M816.5 305.5h0M817 309h0M817 303h0M817 307.5h0M817.5 309h0M817.5 303.5h0M818 273.5h0M818 300.5h0M818 283.5h0M818 288.5h0M818.5 289.5h0M818.5 272.5h0M818.5 267.5h0M818.5 273h0M819 271h0M819 279.5h0M819 273.5h0M819 277.5h0M819.5 297h0M819.5 284h0M819.5 279h0M819.5 283.5h0M820 280.5h0M820 279h0M820 275h0M820 284h0M820.5 269h0M820.5 273.5h0M820.5 271.5h0M821 300.5h0M821 263h0M821 279h0M821 277.5h0M821.5 281h0M821.5 265.5h0M821.5 263h0M822 265h0M822 268.5h0M822 263h0M822.5 272.5h0M822.5 263h0M822.5 265h0M822.5 280.5h0M823 269.5h0M823 271h0M823 263.5h0M823 284h0M823.5 273.5h0M823.5 275h0M823.5 290.5h0M823.5 279.5h0M824 284h0M824 288h0M824 269h0M824 282h0M824.5 281h0M824.5 280h0M824.5 287.5h0M824.5 283h0M825 281.5h0M825 280h0M825 286h0M825 272h0M825.5 283h0M825.5 297.5h0M825.5 293.5h0M825.5 286h0M826 289.5h0M826 287.5h0M826 288.5h0M826 305.5h0M826.5 302h0M826.5 300h0M826.5 295h0M826.5 278h0M827 274.5h0M827 303.5h0M827 284h0M827 276h0M827.5 272h0M827.5 276.5h0M827.5 301h0M828 286h0M828 279h0M817 255h0M817 261h0M817.5 253.5h0M817.5 240.5h0M817.5 241h0M818 227h0M818 231h0M818 237h0M818.5 249h0M818.5 250h0M818.5 260h0M819 257h0M819 242.5h0M819 260.5h0M819.5 229.5h0M819.5 238.5h0M819.5 257.5h0M820 242.5h0M820 255.5h0M820 256.5h0M820.5 261h0M820.5 255h0M820.5 246h0M821 258.5h0M821 239.5h0M821 252.5h0M821.5 241.5h0M821.5 243h0M821.5 237.5h0M822 244.5h0M822 229h0M822 235.5h0M822.5 241.5h0M822.5 239.5h0M822.5 231h0M822.5 237.5h0M823 241h0M823 251.5h0M823 258.5h0M823.5 252h0M823.5 259.5h0M823.5 253.5h0M824 257h0M824 257.5h0M824 258h0M824.5 258.5h0M824.5 261h0M827.5 226h0M827.5 230h0M828 224h0M828 209.5h0M828 206.5h0M828.5 206h0M829 213.5h0M829 247h0M829 220.5h0M829.5 217h0M829.5 206h0M829.5 208h0M830 206h0M830.5 208.5h0M830.5 206h0M830.5 244.5h0M831 211h0M831 213h0M831 206h0M831.5 246h0M831.5 258h0M831.5 206h0M832 214h0M832 206.5h0M832.5 217h0M832.5 216h0M832.5 211h0M833 212h0M833 207h0M833 214.5h0M833.5 223.5h0M833.5 212.5h0M834 207h0M834 208.5h0M834 254.5h0M834.5 207.5h0M834.5 209h0M834.5 216h0M835 207.5h0M835 208h0M835 229h0M835.5 209h0M835.5 225h0M836 210h0M836 220.5h0M836 228.5h0M836.5 287h0M836.5 279.5h0M836.5 222h0M837 218.5h0M837 232h0M837.5 220.5h0M837.5 243.5h0M837.5 240h0M838 244h0M838 265.5h0M835 304.5h0M835 284.5h0M835.5 275.5h0M835.5 268h0M835.5 304.5h0M835.5 283.5h0M836 292.5h0M836 265.5h0M836 266h0M836 272h0M836.5 268h0M836.5 281h0M836.5 289h0M836.5 298h0M837 266.5h0M837 293.5h0M837 314.5h0M837.5 311.5h0M837.5 308h0M837.5 306.5h0M837.5 316h0M838 306h0M838 315.5h0M838 314h0M838 304.5h0M838.5 317.5h0M838.5 295.5h0M838.5 309h0M838.5 300h0M839 293h0M839 295h0M839 301.5h0M839 275.5h0M839.5 305h0M839.5 306.5h0M839.5 311h0M839.5 314h0M840 303h0M840 320.5h0M840 295.5h0M840 319h0M840.5 319h0M840.5 300h0M840.5 321.5h0M840.5 318.5h0M841 311h0M841 322h0M841 290.5h0M841 289h0M841.5 322.5h0M841.5 312.5h0M841.5 316h0M841.5 318h0M842 312.5h0M842 318h0M842 295h0M842.5 324h0M842.5 324.5h0M842.5 320h0M843 325h0M843 321h0M843.5 324.5h0M843.5 325h0M843.5 323.5h0M843.5 290h0M844 317.5h0M844 324h0M844 321h0M844 313.5h0M844.5 325h0M844.5 316h0M844.5 317.5h0M845 325h0M845 315h0M845 316.5h0M845.5 285h0M845.5 294.5h0M845.5 320h0M845.5 305.5h0M846 292h0M846 289h0M846 310.5h0M846 301h0M846.5 295h0M846.5 286h0M846.5 284h0M846.5 290.5h0M847 288h0M847 290h0M847 287h0M847 285h0M847.5 287.5h0M847.5 299h0M847.5 296h0M847.5 312h0M848 286.5h0M848 290.5h0M848.5 299.5h0M848.5 300h0M848.5 322.5h0M848.5 308h0M849 326.5h0M849 302h0M849 304.5h0M849 298.5h0M849.5 305.5h0M849.5 307h0M849.5 294h0M850 300h0M850 292h0M850 328h0M850 322.5h0M850.5 304.5h0M850.5 325h0M850.5 310.5h0M850.5 321.5h0M851 315.5h0M851 320.5h0M851 327h0M851 324.5h0M851.5 310.5h0M851.5 318h0M851.5 321.5h0M851.5 312h0M852 310h0M852 311h0M852 306h0M852 299.5h0M852.5 300h0M852.5 301h0M852.5 299h0M852.5 298h0M853 299h0M853 298h0M853 298.5h0M853 301h0M853.5 299h0M853.5 299.5h0M853.5 300h0M854 306.5h0M854 315.5h0M854 313h0M854 308.5h0M854.5 319.5h0M854.5 324h0M854.5 329h0M854.5 337h0M855 334.5h0M855 322h0M855 331.5h0M855 328h0M855.5 330h0M855.5 312.5h0M855.5 335h0M855.5 345h0M856 327.5h0M856 335.5h0M856 313.5h0M856 328h0M856.5 338.5h0M856.5 331.5h0M856.5 326.5h0M856.5 341h0M857 322h0M857 343h0M857 346.5h0M857 342.5h0M857.5 352.5h0M857.5 352h0M857.5 341h0M857.5 353.5h0M858 325h0M858 344h0M858 322.5h0M858 349h0M858.5 354.5h0M858.5 343h0M858.5 342.5h0M858.5 344.5h0M859 336h0M859 339h0M859 330h0M859 329h0M859.5 342h0M859.5 348h0M859.5 351h0M859.5 336.5h0M860 343h0M860 326h0M860 330.5h0M860 339.5h0M860.5 325h0M860.5 330.5h0M860.5 332.5h0M861 327.5h0M861 332h0M861 326.5h0M861 344h0M861.5 328.5h0M861.5 330h0M861.5 329.5h0M861.5 335.5h0M862 328.5h0M862 333.5h0M862 330.5h0M862.5 332.5h0M862.5 331.5h0M862.5 343.5h0M862.5 334h0M863 333h0M863 338.5h0M863 332h0M863 341h0M863.5 339h0M863.5 330h0M863.5 335.5h0M863.5 340h0M864 338.5h0M864 333.5h0M864 331.5h0M864 335.5h0M864.5 343h0M864.5 338h0M864.5 330h0M864.5 340.5h0M865 341.5h0M865 337h0M864 267h0M864 290h0M864.5 298h0M864.5 272.5h0M864.5 295.5h0M864.5 292h0M865 295h0M865 292.5h0M865 277.5h0M865 274.5h0M865.5 297h0M865.5 280.5h0M865.5 284.5h0M865.5 284h0M866 278h0M866 285h0M866 271.5h0M866 294.5h0M866.5 303.5h0M866.5 272.5h0M866.5 291.5h0M866.5 309.5h0M867 267.5h0M867 308.5h0M867 300h0M867 321h0M867.5 318.5h0M867.5 321h0M867.5 311.5h0M868 310h0M868 321h0M868 271.5h0M868 298.5h0M868.5 302h0M868.5 297.5h0M868.5 298h0M868.5 299.5h0M869 302.5h0M869 312.5h0M869 316h0M869 313.5h0M869.5 311.5h0M869.5 320.5h0M869.5 303.5h0M869.5 317h0M870 294h0M870 313.5h0M870 320h0M870 314.5h0M870.5 309h0M870.5 300h0M870.5 295.5h0M871 295.5h0M871 308h0M871 276.5h0M871 293h0M871.5 294h0M871.5 303.5h0M871.5 311.5h0M871.5 313h0M872 293.5h0M872 277h0M872 306.5h0M872 308.5h0M872.5 286h0M872.5 268h0M872.5 290h0M872.5 291.5h0M873 285h0M873 286.5h0M873 298h0M873.5 266.5h0M873.5 278h0M873.5 279h0M873.5 276.5h0M874 287.5h0M874 270h0M874 279h0M874 294.5h0M874.5 276h0M874.5 266.5h0M874.5 290h0M874.5 302.5h0M875 286h0M875 287.5h0M875 302h0M875 301h0M875.5 300.5h0M875.5 300h0M875.5 299.5h0M875.5 298.5h0M876 292h0M876 281h0M876 277.5h0M876 262h0M876.5 281.5h0M876.5 284.5h0M876.5 282.5h0M876.5 286h0M877 287h0M877 284.5h0M877 282.5h0M877.5 274h0M877.5 284h0M877.5 281.5h0M877.5 274.5h0M878 279h0M878 263h0M878 287h0M878 281h0M878.5 286h0M878.5 284h0M878.5 280h0M879 282.5h0M879 269.5h0M879 271.5h0M879 279.5h0M879.5 265h0M879.5 261h0M879.5 270.5h0M880 276.5h0M880 273h0M880 271h0M880 266h0M880.5 269h0M880.5 275.5h0M880.5 278.5h0M881 281.5h0M881 280.5h0M881 279.5h0M881.5 275h0M881.5 277.5h0M881.5 282h0M881.5 273h0M882 280.5h0M882 265h0M882 282h0M882.5 271h0M882.5 282.5h0M882.5 269.5h0M882.5 262.5h0M883 284.5h0M883 282h0M883 284h0M883 285.5h0M883.5 285h0M883.5 287h0M883.5 286h0M884 287h0M884 286h0M884 285h0M884.5 287.5h0M884.5 269h0M884.5 282.5h0M884.5 265.5h0M885 281.5h0M885 282h0M885 283h0M885 288.5h0M885.5 288.5h0M885.5 284h0M885.5 288h0M885.5 277h0M886 286h0M886 287h0M886 276h0M886.5 283.5h0M886.5 289.5h0M886.5 290h0M886.5 284.5h0M887 285.5h0M887 288.5h0M887 275h0M887 279.5h0M887.5 284h0M887.5 275h0M887.5 281.5h0M888 283.5h0M888 276.5h0M888 282.5h0M888 279.5h0M888.5 286.5h0M888.5 284h0M888.5 287h0M888.5 288.5h0M889 287h0M889 289h0M889 290.5h0M889 280.5h0M889.5 280h0M889.5 283.5h0M889.5 281.5h0M889.5 278h0M890 285.5h0M890 282.5h0M890 284h0M890 292h0M890.5 278.5h0M890.5 299h0M890.5 285.5h0M891 293.5h0M891 280.5h0M891 294h0M891.5 289.5h0M891.5 288.5h0M891.5 294h0M891.5 291.5h0M892 285.5h0M892 292.5h0M892 286.5h0M892 279h0M892.5 295.5h0M892.5 288.5h0M892.5 280h0M892.5 283h0M893 285.5h0M893 283.5h0M893 282h0M893 295.5h0M893.5 287.5h0M893.5 285.5h0M893.5 289h0M893.5 298h0M894 290h0M894 298.5h0M894 292.5h0M894 288h0M894.5 286.5h0M894.5 292h0M894.5 294.5h0M894.5 285.5h0M895 296h0M895 288.5h0M895 285h0M895 287.5h0M895.5 292h0M895.5 293h0M895.5 296h0M896 300.5h0M896 302.5h0M896 306h0M896 309.5h0M896.5 302h0M896.5 301h0M896.5 309.5h0M896.5 307h0M897 310h0M897 305h0M897 297h0M897 298.5h0M897.5 295.5h0M897.5 300h0M897.5 294.5h0M898 294h0M898 289.5h0M898 295h0M898 305.5h0M898.5 301.5h0M898.5 293.5h0M898.5 302h0M898.5 307.5h0M899 305h0M899 301h0M899 302.5h0M899 299h0M899.5 307h0M899.5 296h0M899.5 301h0M899.5 300.5h0M900 299h0M900 307.5h0M900 296.5h0M900 300h0M900.5 307h0M900.5 310.5h0M900.5 306h0M901 295.5h0M901 297.5h0M901 294.5h0M901.5 298.5h0M901.5 302h0M901.5 300.5h0M901.5 296h0M902 301h0M902 296.5h0M902 292.5h0M902 294h0M902.5 300h0M902.5 292.5h0M902.5 295.5h0M902.5 306h0M903 298.5h0M903 301.5h0M903 306.5h0M903 313h0M903.5 293.5h0M903.5 297.5h0M903.5 311h0M903.5 304.5h0M904 300h0M904 305h0M904 306h0M904 303h0M904.5 300.5h0M904.5 293h0M904.5 297h0M904.5 294.5h0M905 293.5h0M905 310.5h0M905 298.5h0M905.5 294h0M905.5 297h0M905.5 296.5h0M906 294.5h0M906 302h0M906 297h0M906 295h0M906.5 306h0M906.5 295h0M906.5 295.5h0M906.5 301.5h0M907 295.5h0M907 296h0M907.5 300h0M907.5 297.5h0M907.5 301h0M907.5 298h0M908 318h0M908 296.5h0M908 297h0M908 307h0M908.5 306h0M908.5 315.5h0M908.5 312.5h0M908.5 309.5h0M909 299h0M909 314h0M909 309.5h0M909 305.5h0M909.5 307h0M909.5 316h0M909.5 320h0M909.5 322.5h0M910 319.5h0M910 311h0M910 327.5h0M910 316.5h0M910.5 326.5h0M910.5 319h0M910.5 308.5h0M910.5 312.5h0M911 311.5h0M911 306.5h0M911 325.5h0M911.5 324.5h0M911.5 307h0M911.5 306h0M911.5 332h0M912 327h0M912 309.5h0M912 307h0M912 311h0M912.5 313h0M912.5 318.5h0M912.5 331h0M913 334.5h0M913 317h0M913 310h0M913 314.5h0M913.5 314h0M913.5 312h0M913.5 315h0M913.5 318.5h0M914 311.5h0M914 322.5h0M914 316.5h0M914 317.5h0M914.5 322.5h0M914.5 324h0M914.5 314h0M915 322.5h0M915 320.5h0M915 343h0M915 326.5h0M915.5 331h0M915.5 322.5h0M915.5 339.5h0M915.5 335h0M916 339h0M916 334h0M916 342h0M916.5 336h0M916.5 346.5h0M916.5 338.5h0M916.5 339.5h0M917 325.5h0M917 335h0M917 336h0M917 342h0M917.5 339h0M917.5 337.5h0M917.5 333.5h0M917.5 339.5h0M918 342.5h0M918 342h0M918 340.5h0M918 332.5h0M918.5 336h0M918.5 335h0M918.5 340h0M918.5 340.5h0M919 337h0M919 329.5h0M919 332h0M919 330.5h0M919.5 326h0M919.5 324.5h0M919.5 316h0M919.5 314.5h0M920 312.5h0M920 317h0M920 310.5h0M920 316h0M920.5 315h0M920.5 309h0M920.5 313h0M921 312h0M921 316.5h0M921 328.5h0M921.5 324h0M921.5 314h0M921.5 318.5h0M921.5 321h0M922 326.5h0M922 317.5h0M922 316.5h0M922 319h0M922.5 309.5h0M922.5 302.5h0M922.5 305h0M922.5 310h0M923 301h0M923 312.5h0M923.5 303h0M923.5 318.5h0M923.5 307.5h0M923.5 308h0M924 304.5h0M924 313.5h0M924 308h0M924.5 311.5h0M924.5 309h0M924.5 310.5h0M924.5 322h0M925 301.5h0M925 305h0M925 302.5h0M925 309h0M925.5 309h0M925.5 311h0M925.5 305h0M925.5 314h0M926 314h0M926 312.5h0M926 305.5h0M926 304h0M926.5 304.5h0M926.5 301h0M926.5 306.5h0M926.5 314h0M927 301h0M927 302.5h0M927.5 319.5h0M927.5 304.5h0M927.5 310h0M928 310h0M928 304.5h0M928 306.5h0M928 307.5h0M928.5 302.5h0M928.5 310.5h0M928.5 312h0M928.5 309.5h0M929 313.5h0M929 311h0M929 318h0M929 304h0M929.5 316h0M929.5 318.5h0M929.5 301.5h0M930 313h0M930 317h0M930 318h0M930 313.5h0M930.5 311h0M930.5 291h0M930.5 307h0M930.5 298.5h0M931 297h0M931 280.5h0M931 283h0M931 296.5h0M931.5 277h0M931.5 283h0M931.5 276h0M931.5 276.5h0M932 291h0M932 294.5h0M932 275.5h0M932.5 279.5h0M932.5 277.5h0M932.5 274.5h0M932.5 296.5h0M933 274.5h0M933 276.5h0M933 295.5h0M933 279.5h0M933.5 274.5h0M933.5 279h0M933.5 273.5h0M933.5 277.5h0M934 274.5h0M934 280.5h0M934 275h0M934 273h0M934.5 273.5h0M934.5 275.5h0M934.5 273h0M935 274h0M935 273h0M935 278h0M935.5 289.5h0M935.5 291.5h0M935.5 286h0M935.5 290.5h0M936 285h0M936 292.5h0M936 299h0M936 295.5h0M936.5 282.5h0M936.5 305h0M936.5 307h0M936.5 306h0M937 311h0M937 308h0M937 312h0M937 314.5h0M937.5 300h0M937.5 312h0M937.5 302.5h0M937.5 303.5h0M938 303h0M938 298.5h0M938 313.5h0M938 299.5h0M938.5 306.5h0M938.5 303h0M938.5 306h0M938.5 304h0M939 305.5h0M939 302h0M939 315.5h0M939.5 309h0M939.5 305.5h0M939.5 310h0M939.5 308h0M940 308h0M940 310h0M235.5 447.5h0M235.5 410h0M235.5 402h0M252 366h0M353.5 353h0M353.5 344.5h0M353.5 335h0M353.5 324h0M353.5 315.5h0M353.5 295h0M354 290.5h0M354.5 272h0M354.5 268.5h0M354.5 244.5h0M359.5 160h0M354.5 163h0M359 164.5h0M355.5 167.5h0M359.5 168h0M359.5 174.5h0M354.5 184h0M358 184h0M366.5 185.5h0M365 189h0M365 192h0M355.5 195.5h0M355.5 199h0M364.5 197h0M355.5 102.5h0M355.5 108.5h0M355.5 121.5h0M362 248.5h0M362 252h0M362 255h0M368.5 266.5h0M368.5 277h0M368.5 280h0M368.5 284h0M370.5 293.5h0M370 298h0M379.5 263.5h0M379.5 278.5h0M380.5 286h0M374 368h0M374 372h0M374.5 376h0M374.5 378.5h0M374.5 383h0M374.5 387h0M374.5 393.5h0M403.5 377.5h0M397.5 384h0M433 402h0M417.5 384h0M789 339h0M613.5 311.5h0M613 315h0M613 318.5h0M613.5 322h0M612.5 325h0M616.5 320h0M617 324h0M663.5 358.5h0M663 362h0M663.5 365.5h0M682.5 358.5h0M682 362h0M682.5 365.5h0M538 348.5h0M538.5 352h0M538 355.5h0M538.5 359h0M503 383.5h0M503 387h0M503 390.5h0M419 329.5h0M419 336.5h0M305.5 335h0M305 338h0M304.5 341h0M304 344h0M252.5 341h0M253 344.5h0M253 348h0M253.5 351.5h0M827.5 132.5h0M829.5 141.5h0M827.5 158.5h0M830 172.5h0M830 175h0M829.5 179.5h0M833.5 184.5h0M833.5 192.5h0M827.5 192.5h0M827.5 195.5h0M828.5 39.5h0M828.5 60h0M828 63h0M828 67.5h0M829.5 69.5h0M828.5 78.5h0M829.5 85.5h0M827 89.5h0M828.5 95h0M829.5 111.5h0M820.5 214.5h0M820.5 220.5h0M818.5 226h0M805.5 235h0M806 245h0M806 250h0M807 257h0M803 312h0M803 318h0M803 324h0M803 330h0M833.5 199.5h0M830.5 197.5h0M833.5 206.5h0M830 209.5h0M832.5 215h0M835 217.5h0M869.5 225h0M869.5 231h0M869.5 234h0M869.5 242h0M869.5 247h0M869.5 258h0M869.5 266h0M883.5 234h0M883.5 250.5h0M883.5 256h0M896 315h0M896 319h0M896 323h0M896.5 350h0M935.5 272h0" stroke="#000" stroke-width="5.5" stroke-linecap="round" fill="none"/>
<path d="M120.6 467.6L121.0 467.6L121.4 467.5L121.8 467.4L122.2 467.3L122.6 467.1L123.0 466.9L123.4 466.7L123.8 466.5L124.2 466.2L124.6 465.9L125.0 465.5L125.4 465.0L125.8 463.8L126.2 462.6L126.6 461.3L127.0 460.4L127.4 461.1L127.8 462.6L128.2 464.2L128.6 465.7L129.0 466.3L129.4 466.6L129.8 466.8L130.2 467.1L130.6 467.6L131.0 468.4L131.4 469.0L131.8 468.9L132.2 467.4L132.6 465.8L133.0 464.0L133.4 461.9L133.8 459.6L134.2 458.0L134.6 459.4L135.0 461.5L135.4 462.9L135.8 464.0L136.2 464.9L136.6 465.5L137.0 465.8L137.4 465.7L137.8 464.7L138.2 463.6L138.6 462.9L139.0 462.5L139.4 462.2L139.8 461.8L140.2 461.4L140.6 461.1L141.0 460.7L141.4 460.2L141.8 459.4L142.2 458.4L142.6 457.6L143.0 457.5L143.4 458.6L143.8 460.0L144.2 461.3L144.6 462.4L145.0 463.3L145.4 464.3L145.8 465.2L146.2 466.0L146.6 466.8L147.0 467.9L147.4 469.1L147.8 470.4L148.2 471.6L148.6 472.0L149.0 471.6L149.4 471.1L149.8 470.7L150.2 470.3L150.6 470.1L151.0 469.9L151.4 469.8L151.8 469.7L152.2 469.6L152.6 469.5L153.0 469.4L153.4 469.3L153.8 469.2L154.2 469.0L154.6 468.8L155.0 468.6L155.4 468.4L155.8 468.1L156.2 467.8L156.6 467.4L157.0 466.8L157.4 465.7L157.8 464.4L158.2 463.2L158.6 462.4L159.0 463.3L159.4 464.9L159.8 466.6L160.2 468.0L160.6 468.6L161.0 468.9L161.4 469.2L161.8 469.6L162.2 470.2L162.6 471.0L163.0 471.6L163.4 471.3L163.8 469.9L164.2 468.3L164.6 466.5L165.0 464.4L165.4 462.2L165.8 460.9L166.2 462.4L166.6 464.4L167.0 465.8L167.4 466.8L167.8 467.7L168.2 468.3L168.6 468.5L169.0 468.3L169.4 467.2L169.8 466.1L170.2 465.5L170.6 465.1L171.0 464.7L171.4 464.3L171.8 463.9L172.2 463.5L172.6 463.1L173.0 462.6L173.4 461.7L173.8 460.7L174.2 459.9L174.6 459.9L175.0 461.1L175.4 462.5L175.8 463.8L176.2 464.8L176.6 465.8L177.0 466.8L177.4 467.6L177.8 468.5L178.2 469.3L178.6 470.4L179.0 471.7L179.4 473.0L179.8 474.2L180.2 474.5L180.6 474.1L181.0 473.6L181.4 473.1L181.8 472.8L182.2 472.6L182.6 472.5L183.0 472.3L183.4 472.2L183.8 472.1L184.2 472.0L184.6 471.9L185.0 471.8L185.4 471.6L185.8 471.5L186.2 471.2L186.6 471.0L187.0 470.7L187.4 470.4L187.8 470.0L188.2 469.6L188.6 468.9L189.0 467.7L189.4 466.5L189.8 465.2L190.2 464.4L190.6 465.5L191.0 467.1L191.4 468.7L191.8 470.1L192.2 470.6L192.6 470.9L193.0 471.2L193.4 471.5L193.8 472.1L194.2 472.9L194.6 473.5L195.0 473.0L195.4 471.6L195.8 469.9L196.2 468.1L196.6 465.9L197.0 463.7L197.4 462.7L197.8 464.2L198.2 466.1L198.6 467.4L199.0 468.3L199.4 469.1L199.8 469.5L200.2 469.5L200.6 469.0L201.0 467.8L201.4 466.5L201.8 465.7L202.2 465.1L202.6 464.5L203.0 463.9L203.4 463.2L203.8 462.6L204.2 461.9L204.6 461.0L205.0 459.8L205.4 458.4L205.8 457.3L206.2 457.1L206.6 457.9L207.0 458.9L207.4 459.7L207.8 460.3L208.2 460.9L208.6 461.4L209.0 461.7L209.4 462.1L209.8 462.4L210.2 463.0L210.6 463.8L211.0 464.5L211.4 465.1L211.8 464.6L212.2 463.6L212.6 462.5L213.0 461.5L213.4 460.6L213.8 459.7L214.2 458.9L214.6 458.1L215.0 457.4L215.4 456.7L215.8 455.9L216.2 455.2L216.6 454.4L217.0 453.7L217.4 452.9L217.8 452.1L218.2 451.2L218.6 450.4L219.0 449.5L219.4 448.6L219.8 447.6L220.2 446.3L220.6 444.6L221.0 442.8L221.4 441.0L221.8 439.8L222.2 440.4L222.6 441.5L223.0 442.5L223.4 443.3L223.8 443.2L224.2 442.9L224.6 442.6L225.0 442.3L225.4 442.4L225.8 442.6L226.2 442.6L226.6 441.5L227.0 439.4L227.4 437.2L227.8 434.9L228.2 432.1L228.6 429.5L229.0 428.4L229.4 429.5L229.8 430.9L230.2 431.6L230.6 432.1L231.0 432.5L231.4 432.5L231.8 432.2L232.2 431.2L232.6 429.7L233.0 428.1L233.4 427.2L233.8 426.4L234.2 425.5L234.6 424.7L235.0 423.9L235.4 423.1L235.8 422.3L236.2 421.3L236.6 420.0L237.0 418.6L237.4 417.4L237.8 417.4L238.2 418.2L238.6 419.1L239.0 419.8L239.4 420.3L239.8 420.7L240.2 421.1L240.6 421.4L241.0 421.6L241.4 421.8L241.8 422.3L242.2 422.9L242.6 423.6L243.0 423.9L243.4 423.3L243.8 422.2L244.2 421.0L244.6 419.9L245.0 419.0L245.4 418.2L245.8 417.4L246.2 416.6L246.6 416.0L247.0 415.3L247.4 414.7L247.8 414.1L248.2 413.5L248.6 413.0L249.0 412.3L249.4 411.7L249.8 411.1L250.2 410.5L250.6 409.9L251.0 409.2L251.4 408.5L251.8 407.4L252.2 405.9L252.6 404.4L253.0 402.9L253.4 402.2L253.8 403.2L254.2 404.5L254.6 405.8L255.0 406.8L255.4 406.9L255.8 406.9L256.2 406.9L256.6 406.9L257.0 407.3L257.4 407.8L257.8 407.9L258.2 406.8L258.6 404.9L259.0 402.9L259.4 400.7L259.8 398.2L260.2 395.8L260.6 395.1L261.0 396.5L261.4 398.1L261.8 399.0L262.2 399.7L262.6 400.3L263.0 400.4L263.4 400.3L263.8 399.6L264.2 398.3L264.6 397.1L265.0 396.4L265.4 395.9L265.8 395.4L266.2 394.9L266.6 394.4L267.0 393.9L267.4 393.3L267.8 392.6L268.2 391.6L268.6 390.5L269.0 389.7L269.4 390.1L269.8 391.3L270.2 392.5L270.6 393.5L271.0 394.4L271.4 395.2L271.8 396.0L272.2 396.6L272.6 397.2L273.0 397.9L273.4 398.9L273.8 399.9L274.2 401.0L274.6 401.9L275.0 401.6L275.4 400.9L275.8 400.2L276.2 399.5L276.6 399.0L277.0 398.7L277.4 398.3L277.8 397.9L278.2 397.6L278.6 397.4L279.0 397.1L279.4 396.9L279.8 396.6L280.2 396.3L280.6 396.0L281.0 395.6L281.4 395.3L281.8 394.9L282.2 394.5L282.6 394.0L283.0 393.5L283.4 392.5L283.8 391.3L284.2 389.9L284.6 388.7L285.0 388.4L285.4 389.6L285.8 391.1L286.2 392.6L286.6 393.6L287.0 394.0L287.4 394.1L287.8 394.3L288.2 394.5L288.6 395.1L289.0 395.8L289.4 396.2L289.8 395.1L290.2 393.3L290.6 391.5L291.0 389.5L291.4 387.1L291.8 385.0L292.2 384.8L292.6 386.5L293.0 388.2L293.4 389.2L293.8 390.0L294.2 390.7L294.6 391.0L295.0 390.9L295.4 390.2L295.8 388.9L296.2 387.8L296.6 387.2L297.0 386.7L297.4 386.1L297.8 385.6L298.2 385.1L298.6 384.5L299.0 383.9L299.4 383.1L299.8 381.9L300.2 380.7L300.6 379.9L301.0 380.4L301.4 381.5L301.8 382.7L302.2 383.6L302.6 384.4L303.0 385.2L303.4 385.9L303.8 386.5L304.2 387.2L304.6 387.8L305.0 388.9L305.4 390.0L305.8 391.1L306.2 391.9L306.6 391.5L307.0 390.8L307.4 390.2L307.8 389.6L308.2 389.2L308.6 388.8L309.0 388.5L309.4 388.2L309.8 387.9L310.2 387.7L310.6 387.5L311.0 387.2L311.4 386.9L311.8 386.6L312.2 386.3L312.6 385.9L313.0 385.5L313.4 385.1L313.8 384.6L314.2 384.1L314.6 383.4L315.0 382.3L315.4 381.0L315.8 379.5L316.2 378.2L316.6 378.0L317.0 379.1L317.4 380.5L317.8 381.9L318.2 382.7L318.6 382.8L319.0 382.9L319.4 382.9L319.8 383.1L320.2 383.6L320.6 384.2L321.0 384.4L321.4 383.1L321.8 381.2L322.2 379.3L322.6 377.1L323.0 374.7L323.4 372.6L323.8 372.6L324.2 374.2L324.6 375.8L325.0 376.7L325.4 377.4L325.8 378.0L326.2 378.1L326.6 377.9L327.0 376.9L327.4 375.5L327.8 374.2L328.2 373.4L328.6 372.7L329.0 371.9L329.4 371.1L329.8 370.3L330.2 369.4L330.6 368.6L331.0 367.5L331.4 366.2L331.8 364.9L332.2 364.0L332.6 364.2L333.0 364.7L333.4 365.0L333.8 365.1L334.2 365.0L334.6 364.9L335.0 364.7L335.4 364.5L335.8 364.1L336.2 363.8L336.6 363.5L337.0 362.7L337.4 361.7L337.8 360.6L338.2 359.5L338.6 358.5L339.0 357.5L339.4 356.5L339.8 355.5L340.2 354.5L340.6 353.5L341.0 352.5L341.4 351.5L341.8 350.4L342.2 349.1L342.6 347.6L343.0 346.0L343.4 344.4L343.8 342.8L344.2 341.2L344.6 339.6L345.0 337.9L345.4 336.0L345.8 334.0L346.2 332.0L346.6 330.0L347.0 328.0L347.4 326.0L347.8 324.2L348.2 323.3L348.6 323.4L349.0 323.7L349.4 323.8L349.8 323.1L350.2 322.0L350.6 320.9L351.0 319.8L351.4 318.7L351.8 317.5L352.2 316.0L352.6 314.2L353.0 312.3L353.4 310.3L353.8 307.5L354.2 304.4L354.6 301.2L355.0 298.6L355.4 298.2L355.8 298.3L356.2 298.5L356.6 298.6L357.0 298.8L357.4 298.9L357.8 298.8L358.2 298.6L358.6 298.3L359.0 298.1L359.4 297.9L359.8 297.6L360.2 297.6L360.6 297.7L361.0 297.8L361.4 297.9L361.8 298.0L362.2 298.1L362.6 298.2L363.0 298.4L363.4 298.7L363.8 299.9L364.2 301.5L364.6 303.3L365.0 304.9L365.4 306.2L365.8 307.4L366.2 308.6L366.6 309.8L367.0 311.0L367.4 312.2L367.8 313.4L368.2 314.5L368.6 315.5L369.0 316.5L369.4 317.5L369.8 318.5L370.2 319.3L370.6 319.9L371.0 320.5L371.4 321.1L371.8 321.7L372.2 322.3L372.6 322.9L373.0 323.5L373.4 324.1L373.8 324.7L374.2 325.1L374.6 325.4L375.0 325.7L375.4 325.9L375.8 326.2L376.2 326.5L376.6 326.7L377.0 326.9L377.4 326.5L377.8 326.0L378.2 325.6L378.6 325.1L379.0 324.6L379.4 324.4L379.8 325.3L380.2 326.8L380.6 328.4L381.0 330.0L381.4 331.6L381.8 333.1L382.2 334.3L382.6 335.2L383.0 336.0L383.4 336.8L383.8 337.6L384.2 338.3L384.6 338.3L385.0 337.0L385.4 335.4L385.8 333.8L386.2 332.4L386.6 332.3L387.0 334.7L387.4 337.6L387.8 340.3L388.2 341.9L388.6 342.4L389.0 342.7L389.4 342.9L389.8 343.2L390.2 343.5L390.6 343.7L391.0 343.9L391.4 343.9L391.8 343.9L392.2 343.8L392.6 343.8L393.0 343.7L393.4 343.7L393.8 343.6L394.2 343.6L394.6 343.9L395.0 344.8L395.4 345.8L395.8 346.9L396.2 347.9L396.6 349.0L397.0 350.1L397.4 351.7L397.8 353.5L398.2 355.2L398.6 356.9L399.0 358.7L399.4 360.4L399.8 362.0L400.2 363.2L400.6 363.8L401.0 364.3L401.4 364.9L401.8 365.4L402.2 365.9L402.6 366.5L403.0 367.0L403.4 367.5L403.8 367.9L404.2 368.4L404.6 368.8L405.0 369.2L405.4 369.7L405.8 370.0L406.2 370.2L406.6 370.3L407.0 370.4L407.4 370.4L407.8 370.5L408.2 370.6L408.6 370.7L409.0 370.8L409.4 370.7L409.8 370.1L410.2 369.3L410.6 368.4L411.0 367.9L411.4 368.8L411.8 370.7L412.2 372.7L412.6 374.5L413.0 375.6L413.4 376.3L413.8 376.9L414.2 377.5L414.6 378.3L415.0 379.4L415.4 380.4L415.8 380.7L416.2 379.7L416.6 378.3L417.0 376.9L417.4 375.1L417.8 373.1L418.2 371.7L418.6 373.1L419.0 375.3L419.4 377.2L419.8 378.5L420.2 379.7L420.6 380.7L421.0 381.3L421.4 381.5L421.8 380.8L422.2 380.0L422.6 379.6L423.0 379.5L423.4 379.4L423.8 379.4L424.2 379.3L424.6 379.3L425.0 379.2L425.4 379.1L425.8 378.7L426.2 378.0L426.6 377.5L427.0 377.5L427.4 379.0L427.8 380.7L428.2 382.4L428.6 383.8L429.0 385.1L429.4 386.4L429.8 387.6L430.2 388.7L430.6 389.8L431.0 391.2L431.4 392.7L431.8 394.3L432.2 395.8L432.6 396.6L433.0 396.5L433.4 396.3L433.8 396.1L434.2 396.0L434.6 396.0L435.0 396.1L435.4 396.1L435.8 396.2L436.2 396.4L436.6 396.6L437.0 396.7L437.4 396.8L437.8 396.9L438.2 396.9L438.6 396.9L439.0 396.9L439.4 396.9L439.8 396.8L440.2 396.7L440.6 396.5L441.0 396.2L441.4 395.3L441.8 394.2L442.2 393.2L442.6 392.5L443.0 393.5L443.4 395.2L443.8 397.1L444.2 398.7L444.6 399.6L445.0 400.2L445.4 400.7L445.8 401.2L446.2 402.0L446.6 403.0L447.0 403.9L447.4 404.0L447.8 402.9L448.2 401.5L448.6 400.0L449.0 398.2L449.4 396.2L449.8 394.9L450.2 396.6L450.6 398.9L451.0 400.7L451.4 402.0L451.8 403.3L452.2 404.2L452.6 404.8L453.0 405.0L453.4 404.3L453.8 403.5L454.2 403.2L454.6 403.1L455.0 403.1L455.4 403.1L455.8 403.0L456.2 403.0L456.6 402.9L457.0 402.7L457.4 402.2L457.8 401.5L458.2 400.9L458.6 401.1L459.0 402.5L459.4 404.1L459.8 405.7L460.2 406.9L460.6 408.2L461.0 409.4L461.4 410.5L461.8 411.5L462.2 412.6L462.6 413.8L463.0 415.3L463.4 416.8L463.8 418.2L464.2 418.8L464.6 418.7L465.0 418.4L465.4 418.2L465.8 418.1L466.2 418.1L466.6 418.2L467.0 418.2L467.4 418.3L467.8 418.5L468.2 418.7L468.6 418.8L469.0 419.0L469.4 419.1L469.8 419.2L470.2 419.2L470.6 419.3L471.0 419.3L471.4 419.3L471.8 419.2L472.2 419.1L472.6 418.7L473.0 417.9L473.4 416.9L473.8 415.9L474.2 415.3L474.6 416.4L475.0 418.3L475.4 420.1L475.8 421.8L476.2 422.6L476.6 423.1L477.0 423.6L477.4 424.1L477.8 424.9L478.2 425.9L478.6 426.8L479.0 426.7L479.4 425.5L479.8 424.1L480.2 422.5L480.6 420.6L481.0 418.6L481.4 417.7L481.8 419.4L482.2 421.7L482.6 423.3L483.0 424.6L483.4 425.8L483.8 426.6L484.2 427.1L484.6 427.1L485.0 426.3L485.4 425.5L485.8 425.1L486.2 424.9L486.6 424.7L487.0 424.6L487.4 424.4L487.8 424.1L488.2 423.9L488.6 423.5L489.0 422.7L489.4 421.8L489.8 421.0L490.2 421.1L490.6 422.2L491.0 423.6L491.4 424.8L491.8 425.8L492.2 426.6L492.6 427.5L493.0 428.2L493.4 428.8L493.8 429.5L494.2 430.4L494.6 431.4L495.0 432.4L495.4 433.3L495.8 433.3L496.2 432.7L496.6 431.9L497.0 431.1L497.4 430.5L497.8 430.0L498.2 429.5L498.6 429.0L499.0 428.6L499.4 428.3L499.8 427.9L500.2 427.5L500.6 427.1L501.0 426.7L501.4 426.3L501.8 425.8L502.2 425.3L502.6 424.8L503.0 424.3L503.4 423.7L503.8 423.1L504.2 422.2L504.6 420.8L505.0 419.3L505.4 417.9L505.8 416.8L506.2 417.7L506.6 419.1L507.0 420.5L507.4 421.6L507.8 421.9L508.2 421.9L508.6 421.9L509.0 421.9L509.4 422.3L509.8 422.8L510.2 423.1L510.6 422.4L511.0 420.7L511.4 418.7L511.8 416.7L512.2 414.2L512.6 411.8L513.0 410.6L513.4 411.9L513.8 413.7L514.2 414.8L514.6 415.5L515.0 416.2L515.4 416.6L515.8 416.6L516.2 416.1L516.6 414.8L517.0 413.6L517.4 412.9L517.8 412.4L518.2 411.9L518.6 411.4L519.0 410.9L519.4 410.4L519.8 409.9L520.2 409.2L520.6 408.2L521.0 407.1L521.4 406.1L521.8 406.2L522.2 407.3L522.6 408.5L523.0 409.6L523.4 410.4L523.8 411.2L524.2 411.9L524.6 412.5L525.0 413.1L525.4 413.7L525.8 414.5L526.2 415.5L526.6 416.5L527.0 417.3L527.4 417.2L527.8 416.5L528.2 415.7L528.6 414.9L529.0 414.3L529.4 413.8L529.8 413.3L530.2 412.8L530.6 412.4L531.0 412.0L531.4 411.7L531.8 411.3L532.2 410.9L532.6 410.4L533.0 410.0L533.4 409.5L533.8 409.0L534.2 408.5L534.6 407.9L535.0 407.3L535.4 406.7L535.8 405.7L536.2 404.3L536.6 402.8L537.0 401.3L537.4 400.4L537.8 401.3L538.2 402.7L538.6 404.1L539.0 405.1L539.4 405.3L539.8 405.3L540.2 405.3L540.6 405.4L541.0 405.8L541.4 406.4L541.8 406.7L542.2 405.9L542.6 404.2L543.0 402.3L543.4 400.4L543.8 398.0L544.2 395.7L544.6 395.0L545.0 396.5L545.4 398.3L545.8 399.5L546.2 400.4L546.6 401.2L547.0 401.5L547.4 401.6L547.8 401.1L548.2 400.0L548.6 398.8L549.0 398.3L549.4 397.8L549.8 397.4L550.2 396.9L550.6 396.5L551.0 396.0L551.4 395.5L551.8 394.8L552.2 393.8L552.6 392.7L553.0 391.8L553.4 392.1L553.8 393.2L554.2 394.4L554.6 395.4L555.0 396.2L555.4 397.0L555.8 397.7L556.2 398.3L556.6 398.9L557.0 399.5L557.4 400.4L557.8 401.4L558.2 402.4L558.6 403.1L559.0 402.8L559.4 402.1L559.8 401.3L560.2 400.5L560.6 399.9L561.0 399.4L561.4 398.9L561.8 398.5L562.2 398.1L562.6 397.7L563.0 397.3L563.4 397.0L563.8 396.6L564.2 396.2L564.6 395.8L565.0 395.4L565.4 394.9L565.8 394.5L566.2 394.0L566.6 393.5L567.0 392.9L567.4 391.9L567.8 390.6L568.2 389.2L568.6 387.9L569.0 387.3L569.4 388.4L569.8 389.9L570.2 391.3L570.6 392.4L571.0 392.7L571.4 392.8L571.8 392.9L572.2 393.2L572.6 393.7L573.0 394.3L573.4 394.7L573.8 393.8L574.2 392.1L574.6 390.3L575.0 388.3L575.4 385.9L575.8 383.8L576.2 383.4L576.6 385.0L577.0 386.9L577.4 388.0L577.8 388.9L578.2 389.7L578.6 390.1L579.0 390.2L579.4 389.7L579.8 388.6L580.2 387.6L580.6 387.1L581.0 386.7L581.4 386.3L581.8 385.9L582.2 385.5L582.6 385.1L583.0 384.7L583.4 384.1L583.8 383.1L584.2 382.1L584.6 381.3L585.0 381.8L585.4 383.1L585.8 384.4L586.2 385.5L586.6 386.4L587.0 387.3L587.4 388.2L587.8 388.9L588.2 389.6L588.6 390.4L589.0 391.4L589.4 392.6L589.8 393.8L590.2 394.7L590.6 394.5L591.0 393.8L591.4 393.2L591.8 392.6L592.2 392.2L592.6 391.9L593.0 391.5L593.4 391.2L593.8 391.0L594.2 390.7L594.6 390.5L595.0 390.2L595.4 389.9L595.8 389.6L596.2 389.2L596.6 388.8L597.0 388.4L597.4 388.0L597.8 387.5L598.2 387.0L598.6 386.4L599.0 385.3L599.4 384.0L599.8 382.6L600.2 381.3L600.6 380.8L601.0 381.9L601.4 383.4L601.8 384.8L602.2 385.7L602.6 386.0L603.0 386.1L603.4 386.2L603.8 386.4L604.2 386.9L604.6 387.6L605.0 387.9L605.4 386.8L605.8 385.1L606.2 383.2L606.6 381.2L607.0 378.8L607.4 376.8L607.8 376.6L608.2 378.3L608.6 380.1L609.0 381.2L609.4 382.1L609.8 382.9L610.2 383.2L610.6 383.3L611.0 382.7L611.4 381.5L611.8 380.6L612.2 380.1L612.6 379.8L613.0 379.4L613.4 379.1L613.8 378.8L614.2 378.4L614.6 378.0L615.0 377.4L615.4 376.5L615.8 375.5L616.2 374.9L616.6 375.6L617.0 376.9L617.4 378.3L617.8 379.4L618.2 380.4L618.6 381.4L619.0 382.3L619.4 383.1L619.8 383.9L620.2 384.7L620.6 385.9L621.0 387.1L621.4 388.4L621.8 389.3L622.2 389.1L622.6 388.5L623.0 388.0L623.4 387.5L623.8 387.3L624.2 387.0L624.6 386.8L625.0 386.6L625.4 386.5L625.8 386.4L626.2 386.3L626.6 386.2L627.0 386.1L627.4 386.0L627.8 385.8L628.2 385.5L628.6 385.3L629.0 385.1L629.4 384.8L629.8 384.5L630.2 384.0L630.6 383.2L631.0 382.0L631.4 380.8L631.8 379.7L632.2 379.7L632.6 381.1L633.0 382.7L633.4 384.3L633.8 385.3L634.2 385.7L634.6 386.0L635.0 386.3L635.4 386.7L635.8 387.4L636.2 388.2L636.6 388.7L637.0 387.6L637.4 385.9L637.8 384.2L638.2 382.3L638.6 380.1L639.0 378.3L639.4 378.6L639.8 380.5L640.2 382.3L640.6 383.5L641.0 384.6L641.4 385.5L641.8 385.9L642.2 386.1L642.6 385.5L643.0 384.5L643.4 383.8L643.8 383.5L644.2 383.2L644.6 383.0L645.0 382.8L645.4 382.5L645.8 382.3L646.2 382.0L646.6 381.4L647.0 380.6L647.4 379.7L647.8 379.2L648.2 380.2L648.6 381.6L649.0 383.1L649.4 384.3L649.8 385.3L650.2 386.4L650.6 387.4L651.0 388.2L651.4 389.1L651.8 390.0L652.2 391.3L652.6 392.6L653.0 393.8L653.4 394.7L653.8 394.5L654.2 394.0L654.6 393.5L655.0 393.0L655.4 392.8L655.8 392.6L656.2 392.4L656.6 392.2L657.0 392.1L657.4 392.0L657.8 391.9L658.2 391.7L658.6 391.6L659.0 391.5L659.4 391.2L659.8 391.0L660.2 390.8L660.6 390.5L661.0 390.2L661.4 389.8L661.8 389.4L662.2 388.4L662.6 387.2L663.0 385.9L663.4 384.9L663.8 385.0L664.2 386.4L664.6 388.0L665.0 389.5L665.4 390.5L665.8 390.8L666.2 391.1L666.6 391.4L667.0 391.8L667.4 392.5L667.8 393.3L668.2 393.7L668.6 392.5L669.0 390.8L669.4 389.2L669.8 387.2L670.2 385.0L670.6 383.3L671.0 383.9L671.4 385.8L671.8 387.6L672.2 388.8L672.6 389.9L673.0 390.8L673.4 391.3L673.8 391.4L674.2 390.7L674.6 389.7L675.0 389.0L675.4 388.7L675.8 388.5L676.2 388.2L676.6 388.0L677.0 387.7L677.4 387.4L677.8 387.1L678.2 386.4L678.6 385.6L679.0 384.6L679.4 384.1L679.8 385.2L680.2 386.6L680.6 388.0L681.0 389.2L681.4 390.2L681.8 391.2L682.2 392.1L682.6 392.9L683.0 393.8L683.4 394.7L683.8 396.0L684.2 397.3L684.6 398.5L685.0 399.3L685.4 399.0L685.8 398.5L686.2 398.0L686.6 397.6L687.0 397.4L687.4 397.2L687.8 397.0L688.2 396.9L688.6 396.8L689.0 396.7L689.4 396.6L689.8 396.5L690.2 396.4L690.6 396.3L691.0 396.1L691.4 395.9L691.8 395.6L692.2 395.4L692.6 395.1L693.0 394.8L693.4 394.3L693.8 393.3L694.2 392.1L694.6 390.9L695.0 390.0L695.4 390.3L695.8 391.8L696.2 393.4L696.6 394.9L697.0 395.8L697.4 396.2L697.8 396.4L698.2 396.7L698.6 397.2L699.0 398.0L699.4 398.7L699.8 399.0L700.2 397.7L700.6 396.1L701.0 394.4L701.4 392.4L701.8 390.2L702.2 388.6L702.6 389.5L703.0 391.5L703.4 393.2L703.8 394.4L704.2 395.5L704.6 396.4L705.0 396.8L705.4 397.0L705.8 396.2L706.2 395.2L706.6 394.5L707.0 394.2L707.4 394.0L707.8 393.7L708.2 393.5L708.6 393.2L709.0 392.9L709.4 392.6L709.8 391.9L710.2 391.0L710.6 390.2L711.0 389.8L711.4 390.9L711.8 392.4L712.2 393.8L712.6 394.9L713.0 395.9L713.4 397.0L713.8 397.9L714.2 398.7L714.6 399.6L715.0 400.5L715.4 401.8L715.8 403.1L716.2 404.3L716.6 404.9L717.0 404.6L717.4 404.1L717.8 403.6L718.2 403.2L718.6 402.9L719.0 402.7L719.4 402.5L719.8 402.3L720.2 402.2L720.6 402.1L721.0 402.0L721.4 401.8L721.8 401.7L722.2 401.5L722.6 401.3L723.0 401.1L723.4 400.9L723.8 400.6L724.2 400.3L724.6 400.0L725.0 399.5L725.4 398.4L725.8 397.2L726.2 396.0L726.6 395.1L727.0 395.6L727.4 397.1L727.8 398.8L728.2 400.3L728.6 401.1L729.0 401.5L729.4 401.8L729.8 402.1L730.2 402.7L730.6 403.5L731.0 404.3L731.4 404.4L731.8 403.2L732.2 401.6L732.6 400.0L733.0 398.0L733.4 395.9L733.8 394.3L734.2 395.6L734.6 397.7L735.0 399.4L735.4 400.6L735.8 401.7L736.2 402.6L736.6 403.0L737.0 403.1L737.4 402.3L737.8 401.3L738.2 400.7L738.6 400.5L739.0 400.2L739.4 400.0L739.8 399.7L740.2 399.5L740.6 399.2L741.0 398.9L741.4 398.2L741.8 397.3L742.2 396.5L742.6 396.3L743.0 397.4L743.4 398.8L743.8 400.1L744.2 401.2L744.6 402.1L745.0 402.9L745.4 403.7L745.8 404.3L746.2 405.0L746.6 405.7L747.0 406.7L747.4 407.6L747.8 408.5L748.2 408.6L748.6 407.8L749.0 406.8L749.4 405.8L749.8 404.9L750.2 404.1L750.6 403.3L751.0 402.5L751.4 401.8L751.8 401.0L752.2 400.3L752.6 399.5L753.0 398.6L753.4 397.8L753.8 396.9L754.2 395.9L754.6 394.9L755.0 393.8L755.4 392.7L755.8 391.6L756.2 390.4L756.6 388.9L757.0 386.9L757.4 384.8L757.8 382.6L758.2 380.8L758.6 380.5L759.0 381.1L759.4 381.7L759.8 382.2L760.2 381.8L760.6 381.1L761.0 380.3L761.4 379.6L761.8 379.1L762.2 378.9L762.6 378.6L763.0 377.4L763.4 375.0L763.8 372.4L764.2 369.7L764.6 366.6L765.0 363.4L765.4 360.9L765.8 361.4L766.2 362.5L766.6 363.1L767.0 363.3L767.4 363.4L767.8 363.3L768.2 362.8L768.6 361.9L769.0 360.2L769.4 358.4L769.8 357.1L770.2 356.1L770.6 355.1L771.0 354.2L771.4 353.3L771.8 352.4L772.2 351.5L772.6 350.6L773.0 349.3L773.4 347.9L773.8 346.5L774.2 346.0L774.6 346.7L775.0 347.7L775.4 348.5L775.8 349.1L776.2 349.7L776.6 350.2L777.0 350.6L777.4 351.0L777.8 351.4L778.2 351.9L778.6 352.8L779.0 353.6L779.4 354.4L779.8 354.4L780.2 353.6L780.6 352.7L781.0 351.9L781.4 351.3L781.8 350.7L782.2 350.3L782.6 349.8L783.0 349.5L783.4 349.2L783.8 348.9L784.2 348.6L784.6 348.2L785.0 347.9L785.4 347.6L785.8 347.2L786.2 346.7L786.6 346.3L787.0 345.8L787.4 345.2L787.8 344.6L788.2 343.7L788.6 342.3L789.0 340.7L789.4 339.2L789.8 338.0L790.2 338.5L790.6 339.8L791.0 341.0L791.4 342.1L791.8 342.3L792.2 342.2L792.6 342.1L793.0 342.1L793.4 342.4L793.8 342.8L794.2 343.2L794.6 342.6L795.0 341.0L795.4 339.1L795.8 337.2L796.2 334.8L796.6 332.5L797.0 331.1L797.4 332.5L797.8 334.4L798.2 335.7L798.6 336.7L799.0 337.6L799.4 338.1L799.8 338.3L800.2 338.0L800.6 336.9L801.0 335.8L801.4 335.2L801.8 334.8L802.2 334.4L802.6 334.0L803.0 333.6L803.4 333.2L803.8 332.8L804.2 332.3L804.6 331.4L805.0 330.4L805.4 329.5L805.8 329.5L806.2 330.6L806.6 331.9L807.0 333.0L807.4 333.9L807.8 334.7L808.2 335.5L808.6 336.2L809.0 336.8L809.4 337.4L809.8 338.2L810.2 339.2L810.6 340.2L811.0 341.0L811.4 340.9L811.8 340.2L812.2 339.4L812.6 338.6L813.0 337.9L813.4 337.4L813.8 336.8L814.2 336.3L814.6 335.9L815.0 335.5L815.4 335.1L815.8 334.7L816.2 334.3L816.6 333.9L817.0 333.4L817.4 332.9L817.8 332.5L818.2 332.0L818.6 331.5L819.0 330.9L819.4 330.3L819.8 329.4L820.2 328.1L820.6 326.6L821.0 325.2L821.4 324.2L821.8 325.1L822.2 326.6L822.6 328.0L823.0 329.2L823.4 329.5L823.8 329.6L824.2 329.6L824.6 329.8L825.0 330.2L825.4 330.7L825.8 331.1L826.2 330.4L826.6 328.7L827.0 326.8L827.4 324.8L827.8 322.3L828.2 319.9L828.6 318.7L829.0 320.1L829.4 321.8L829.8 322.9L830.2 323.7L830.6 324.4L831.0 324.7L831.4 324.7L831.8 324.2L832.2 322.9L832.6 321.6L833.0 320.9L833.4 320.4L833.8 319.8L834.2 319.3L834.6 318.8L835.0 318.2L835.4 317.7L835.8 317.0L836.2 315.9L836.6 314.7L837.0 313.7L837.4 313.7L837.8 314.8L838.2 315.9L838.6 316.9L839.0 317.7L839.4 318.4L839.8 319.1L840.2 319.7L840.6 320.3L841.0 320.8L841.4 321.7L841.8 322.6L842.2 323.7L842.6 324.5L843.0 324.3L843.4 323.6L843.8 322.8L844.2 322.0L844.6 321.5L845.0 321.0L845.4 320.5L845.8 320.0L846.2 319.6L846.6 319.3L847.0 318.9L847.4 318.6L847.8 318.2L848.2 317.8L848.6 317.4L849.0 316.9L849.4 316.4L849.8 316.0L850.2 315.5L850.6 314.9L851.0 314.3L851.4 313.3L851.8 312.0L852.2 310.5L852.6 309.1L853.0 308.2L853.4 309.2L853.8 310.6L854.2 312.0L854.6 313.1L855.0 313.3L855.4 313.4L855.8 313.4L856.2 313.6L856.6 314.0L857.0 314.6L857.4 314.9L857.8 314.1L858.2 312.4L858.6 310.5L859.0 308.5L859.4 306.2L859.8 303.9L860.2 303.1L860.6 304.6L861.0 306.4L861.4 307.5L861.8 308.4L862.2 309.2L862.6 309.6L863.0 309.6L863.4 309.1L863.8 307.9L864.2 306.8L864.6 306.2L865.0 305.7L865.4 305.2L865.8 304.7L866.2 304.2L866.6 303.7L867.0 303.2L867.4 302.5L867.8 301.5L868.2 300.3L868.6 299.4L869.0 299.7L869.4 300.7L869.8 302.0L870.2 303.0L870.6 303.8L871.0 304.6L871.4 305.4L871.8 306.0L872.2 306.6L872.6 307.3L873.0 308.2L873.4 309.3L873.8 310.3L874.2 311.2L874.6 311.0L875.0 310.3L875.4 309.6L875.8 308.9L876.2 308.3L876.6 307.9L877.0 307.4L877.4 307.0L877.8 306.7L878.2 306.4L878.6 306.0L879.0 305.6L879.4 305.3L879.8 304.9L880.2 304.4L880.6 304.0L881.0 303.5L881.4 303.0L881.8 302.4L882.2 301.8L882.6 301.1L883.0 300.1L883.4 298.6L883.8 297.1L884.2 295.7L884.6 295.0L885.0 295.9L885.4 297.3L885.8 298.6L886.2 299.5L886.6 299.7L887.0 299.7L887.4 299.7L887.8 299.8L888.2 300.2L888.6 300.7L889.0 301.0L889.4 300.0L889.8 298.2L890.2 296.3L890.6 294.2L891.0 291.8L891.4 289.6L891.8 289.0L892.2 290.5L892.6 292.3L893.0 293.3L893.4 294.1L893.8 294.8L894.2 295.0L894.6 295.0L895.0 294.3L895.4 293.1L895.8 291.9L896.2 291.3L896.6 290.7L897.0 290.2L897.4 289.7L897.8 289.2L898.2 288.7L898.6 288.2L899.0 287.5L899.4 286.4L899.8 285.3L900.2 284.5L900.6 285.0L901.0 286.2L901.4 287.4L901.8 288.5L902.2 289.4L902.6 290.3L903.0 291.1L903.4 291.8L903.8 292.5L904.2 293.2L904.6 294.2L905.0 295.3L905.4 296.5L905.8 297.3L906.2 297.0L906.6 296.3L907.0 295.6L907.4 294.9L907.8 294.4L908.2 294.0L908.6 293.6L909.0 293.2L909.4 292.8L909.8 292.5L910.2 292.1L910.6 291.8L911.0 291.4L911.4 291.0L911.8 290.5L912.2 290.0L912.6 289.6L913.0 289.1L913.4 288.5L913.8 287.9L914.2 287.3L914.6 286.2L915.0 284.8L915.4 283.3L915.8 282.0L916.2 281.5L916.6 282.6L917.0 284.0L917.4 285.3L917.8 286.2L918.2 286.4L918.6 286.4L919.0 286.5L919.4 286.6L919.8 287.0L920.2 287.6L920.6 287.8L921.0 286.6L921.4 284.7L921.8 282.7L922.2 280.6L922.6 278.1L923.0 275.8L923.4 275.5L923.8 277.0L924.2 278.6L924.6 279.5L925.0 280.2L925.4 280.8L925.8 280.9L926.2 280.8L926.6 280.0L927.0 278.6L927.4 277.5L927.8 276.8L928.2 276.2L928.6 275.7L929.0 275.1L929.4 274.5L929.8 274.0L930.2 273.4L930.6 272.6L931.0 271.5L931.4 270.4L931.8 269.6L932.2 270.1L932.6 271.3L933.0 272.6L933.4 273.6L933.8 274.4L934.2 275.3L934.6 276.0L935.0 276.7L935.4 277.3L935.8 278.0L936.2 279.1L936.6 280.2L937.0 281.3L937.4 282.1L937.8 281.7L938.2 280.9L938.6 280.2L939.0 279.6L939.4 279.1L939.8 278.8L940.2 278.4L940.6 278.0L941.0 277.8L941.4 277.5L941.8 277.2L942.2 277.0L942.6 276.7L943.0 276.4L943.4 276.1L943.8 275.8L944.2 275.4L944.6 275.1" stroke="#0072B2" stroke-width="2.35" fill="none" stroke-linejoin="round" stroke-linecap="butt"/>
<path d="M941.3 309.2h0M940.6 311.2h0M941.6 313h0M940.4 315h0M941.2 317h0M940.2 319h0M940.9 321h0M939.8 323h0M940.6 325h0M939.5 327h0M940.2 329h0M939.4 330.8h0" stroke="#ff0000" stroke-width="5.5" stroke-linecap="round" fill="none"/>
</g>
<rect x="80.5" y="15.5" width="905.0" height="527.0" fill="none" stroke="#000" stroke-width="1.1"/>
<path d="M152.50 542.5v4.9M278.50 542.5v4.9M404.50 542.5v4.9M530.50 542.5v4.9M657.50 542.5v4.9M783.50 542.5v4.9M909.50 542.5v4.9M80.5 515.50h-4.9M80.5 454.50h-4.9M80.5 394.50h-4.9M80.5 333.50h-4.9M80.5 272.50h-4.9M80.5 212.50h-4.9M80.5 151.50h-4.9M80.5 90.50h-4.9M80.5 30.50h-4.9" stroke="#000" stroke-width="1.1" fill="none"/>
<g font-family="'Liberation Sans', sans-serif" font-size="13.9" fill="#000">
<text x="152.0" y="562.2" text-anchor="middle" textLength="34" lengthAdjust="spacingAndGlyphs">2001</text>
<text x="278.0" y="562.2" text-anchor="middle" textLength="34" lengthAdjust="spacingAndGlyphs">2005</text>
<text x="404.0" y="562.2" text-anchor="middle" textLength="34" lengthAdjust="spacingAndGlyphs">2009</text>
<text x="530.0" y="562.2" text-anchor="middle" textLength="34" lengthAdjust="spacingAndGlyphs">2013</text>
<text x="657.0" y="562.2" text-anchor="middle" textLength="34" lengthAdjust="spacingAndGlyphs">2017</text>
<text x="783.0" y="562.2" text-anchor="middle" textLength="34" lengthAdjust="spacingAndGlyphs">2021</text>
<text x="909.0" y="562.2" text-anchor="middle" textLength="34" lengthAdjust="spacingAndGlyphs">2025</text>
<text x="69.6" y="521.0" text-anchor="end" textLength="8.4" lengthAdjust="spacingAndGlyphs">0</text>
<text x="69.6" y="460.0" text-anchor="end" textLength="25.3" lengthAdjust="spacingAndGlyphs">200</text>
<text x="69.6" y="400.0" text-anchor="end" textLength="25.3" lengthAdjust="spacingAndGlyphs">400</text>
<text x="69.6" y="339.0" text-anchor="end" textLength="25.3" lengthAdjust="spacingAndGlyphs">600</text>
<text x="69.6" y="278.0" text-anchor="end" textLength="25.3" lengthAdjust="spacingAndGlyphs">800</text>
<text x="69.6" y="218.0" text-anchor="end" textLength="33.8" lengthAdjust="spacingAndGlyphs">1000</text>
<text x="69.6" y="157.0" text-anchor="end" textLength="33.8" lengthAdjust="spacingAndGlyphs">1200</text>
<text x="69.6" y="96.0" text-anchor="end" textLength="33.8" lengthAdjust="spacingAndGlyphs">1400</text>
<text x="69.6" y="36.0" text-anchor="end" textLength="33.8" lengthAdjust="spacingAndGlyphs">1600</text>
<text x="532.5" y="581.5" text-anchor="middle" textLength="14.5" lengthAdjust="spacingAndGlyphs">ds</text>
<text transform="translate(25.0 278.9) rotate(-90)" text-anchor="middle" textLength="8" lengthAdjust="spacingAndGlyphs">y</text>
</g>
</svg></body></html>
